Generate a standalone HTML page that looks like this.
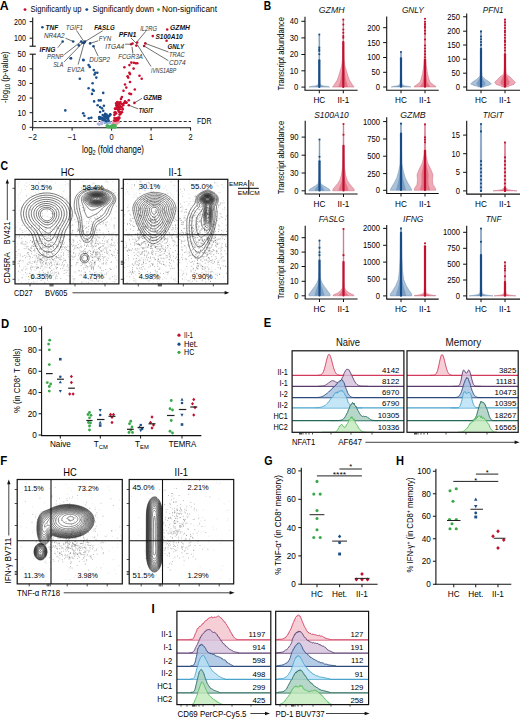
<!DOCTYPE html>
<html><head><meta charset="utf-8"><style>
html,body{margin:0;padding:0;background:#fff;}
svg{display:block;}
text{font-family:"Liberation Sans", sans-serif;}
</style></head><body>
<svg width="520" height="719" viewBox="0 0 520 719">
<rect width="520" height="719" fill="#fff"/>
<text x="-0.20" y="9.80" font-size="12.3" font-weight="bold" fill="#000" textLength="8.90" lengthAdjust="spacingAndGlyphs">A</text>
<text x="263.80" y="9.90" font-size="12.3" font-weight="bold" fill="#000" textLength="7.40" lengthAdjust="spacingAndGlyphs">B</text>
<text x="0.60" y="170.40" font-size="12.3" font-weight="bold" fill="#000" textLength="7.60" lengthAdjust="spacingAndGlyphs">C</text>
<text x="0.90" y="327.50" font-size="12.3" font-weight="bold" fill="#000" textLength="8.20" lengthAdjust="spacingAndGlyphs">D</text>
<text x="263.80" y="327.20" font-size="12.3" font-weight="bold" fill="#000" textLength="7.40" lengthAdjust="spacingAndGlyphs">E</text>
<text x="0.20" y="465.00" font-size="12.3" font-weight="bold" fill="#000" textLength="7.00" lengthAdjust="spacingAndGlyphs">F</text>
<text x="264.20" y="465.40" font-size="12.3" font-weight="bold" fill="#000" textLength="8.30" lengthAdjust="spacingAndGlyphs">G</text>
<text x="396.00" y="465.40" font-size="12.3" font-weight="bold" fill="#000" textLength="8.00" lengthAdjust="spacingAndGlyphs">H</text>
<text x="151.50" y="613.20" font-size="12.3" font-weight="bold" fill="#000" textLength="3.20" lengthAdjust="spacingAndGlyphs">I</text>
<circle cx="25.00" cy="9.60" r="1.45" fill="#c8102e"/>
<text x="30.50" y="11.90" font-size="8.3" textLength="51.00" lengthAdjust="spacingAndGlyphs">Significantly up</text>
<circle cx="86.80" cy="9.60" r="1.45" fill="#1a4f8b"/>
<text x="92.50" y="11.90" font-size="8.3" textLength="61.50" lengthAdjust="spacingAndGlyphs">Significantly down</text>
<circle cx="158.50" cy="9.60" r="1.45" fill="#3aaa4a"/>
<text x="162.00" y="11.90" font-size="8.3" textLength="55.00" lengthAdjust="spacingAndGlyphs">Non-significant</text>
<line x1="32.70" y1="17.40" x2="32.70" y2="46.20" stroke="#111" stroke-width="1.1"/>
<line x1="29.60" y1="46.20" x2="35.80" y2="46.20" stroke="#111" stroke-width="1.1"/>
<line x1="32.70" y1="54.20" x2="32.70" y2="127.80" stroke="#111" stroke-width="1.1"/>
<line x1="29.60" y1="54.20" x2="35.80" y2="54.20" stroke="#111" stroke-width="1.1"/>
<line x1="29.60" y1="21.60" x2="32.70" y2="21.60" stroke="#111" stroke-width="1"/>
<text x="25.90" y="24.50" font-size="8.4" text-anchor="end" textLength="11.90" lengthAdjust="spacingAndGlyphs">200</text>
<line x1="29.60" y1="38.20" x2="32.70" y2="38.20" stroke="#111" stroke-width="1"/>
<text x="25.90" y="41.10" font-size="8.4" text-anchor="end" textLength="11.90" lengthAdjust="spacingAndGlyphs">100</text>
<text x="25.90" y="57.10" font-size="8.4" text-anchor="end" textLength="8.34" lengthAdjust="spacingAndGlyphs">50</text>
<line x1="29.60" y1="127.30" x2="32.70" y2="127.30" stroke="#111" stroke-width="1"/>
<text x="25.90" y="130.20" font-size="8.4" text-anchor="end" textLength="4.17" lengthAdjust="spacingAndGlyphs">0</text>
<line x1="29.60" y1="112.68" x2="32.70" y2="112.68" stroke="#111" stroke-width="1"/>
<text x="25.90" y="115.58" font-size="8.4" text-anchor="end" textLength="8.34" lengthAdjust="spacingAndGlyphs">10</text>
<line x1="29.60" y1="98.06" x2="32.70" y2="98.06" stroke="#111" stroke-width="1"/>
<text x="25.90" y="100.96" font-size="8.4" text-anchor="end" textLength="8.34" lengthAdjust="spacingAndGlyphs">20</text>
<line x1="29.60" y1="83.44" x2="32.70" y2="83.44" stroke="#111" stroke-width="1"/>
<text x="25.90" y="86.34" font-size="8.4" text-anchor="end" textLength="8.34" lengthAdjust="spacingAndGlyphs">30</text>
<line x1="29.60" y1="68.82" x2="32.70" y2="68.82" stroke="#111" stroke-width="1"/>
<text x="25.90" y="71.72" font-size="8.4" text-anchor="end" textLength="8.34" lengthAdjust="spacingAndGlyphs">40</text>
<line x1="32.70" y1="127.80" x2="191.00" y2="127.80" stroke="#111" stroke-width="1.1"/>
<line x1="32.60" y1="127.80" x2="32.60" y2="130.60" stroke="#111" stroke-width="1"/>
<text x="32.60" y="140.20" font-size="8.4" text-anchor="middle" textLength="8.55" lengthAdjust="spacingAndGlyphs">−2</text>
<line x1="72.10" y1="127.80" x2="72.10" y2="130.60" stroke="#111" stroke-width="1"/>
<text x="72.10" y="140.20" font-size="8.4" text-anchor="middle" textLength="8.55" lengthAdjust="spacingAndGlyphs">−1</text>
<line x1="111.60" y1="127.80" x2="111.60" y2="130.60" stroke="#111" stroke-width="1"/>
<text x="111.60" y="140.20" font-size="8.4" text-anchor="middle" textLength="4.17" lengthAdjust="spacingAndGlyphs">0</text>
<line x1="151.10" y1="127.80" x2="151.10" y2="130.60" stroke="#111" stroke-width="1"/>
<text x="151.10" y="140.20" font-size="8.4" text-anchor="middle" textLength="4.17" lengthAdjust="spacingAndGlyphs">1</text>
<line x1="190.60" y1="127.80" x2="190.60" y2="130.60" stroke="#111" stroke-width="1"/>
<text x="190.60" y="140.20" font-size="8.4" text-anchor="middle" textLength="4.17" lengthAdjust="spacingAndGlyphs">2</text>
<text x="113.00" y="152.60" font-size="10" text-anchor="middle" textLength="62.00" lengthAdjust="spacingAndGlyphs">log<tspan font-size="7" dy="2">2</tspan><tspan dy="-2"> (fold change)</tspan></text>
<text x="8.10" y="77.10" font-size="9.5" text-anchor="middle" textLength="51.60" lengthAdjust="spacingAndGlyphs" transform="rotate(-90 8.10 77.10)">-log<tspan font-size="6.6" dy="2">10</tspan><tspan dy="-2"> (p-value)</tspan></text>
<line x1="33.70" y1="121.50" x2="191.00" y2="121.50" stroke="#111" stroke-width="0.9" stroke-dasharray="3,2"/>
<text x="197.00" y="124.40" font-size="8.4" textLength="14.50" lengthAdjust="spacingAndGlyphs">FDR</text>
<circle cx="97.92" cy="123.68" r="1.25" fill="#b4b4dc"/>
<circle cx="102.05" cy="124.08" r="1.25" fill="#b4b4dc"/>
<circle cx="101.25" cy="123.08" r="1.25" fill="#b4b4dc"/>
<circle cx="98.39" cy="124.10" r="1.25" fill="#b4b4dc"/>
<circle cx="99.16" cy="124.14" r="1.25" fill="#b4b4dc"/>
<circle cx="102.36" cy="122.81" r="1.25" fill="#b4b4dc"/>
<circle cx="99.51" cy="124.62" r="1.25" fill="#b4b4dc"/>
<circle cx="101.12" cy="122.06" r="1.25" fill="#b4b4dc"/>
<circle cx="104.76" cy="120.95" r="1.25" fill="#8fb0dc"/>
<circle cx="109.43" cy="122.92" r="1.25" fill="#8fb0dc"/>
<circle cx="104.88" cy="122.98" r="1.25" fill="#8fb0dc"/>
<circle cx="109.88" cy="122.47" r="1.25" fill="#8fb0dc"/>
<circle cx="106.10" cy="122.15" r="1.25" fill="#8fb0dc"/>
<circle cx="104.79" cy="120.54" r="1.25" fill="#8fb0dc"/>
<circle cx="109.83" cy="122.45" r="1.25" fill="#8fb0dc"/>
<circle cx="107.16" cy="123.30" r="1.25" fill="#8fb0dc"/>
<circle cx="106.60" cy="123.12" r="1.25" fill="#8fb0dc"/>
<circle cx="108.96" cy="121.13" r="1.25" fill="#8fb0dc"/>
<circle cx="105.51" cy="121.38" r="1.25" fill="#8fb0dc"/>
<circle cx="105.44" cy="122.26" r="1.25" fill="#8fb0dc"/>
<circle cx="114.32" cy="122.18" r="1.25" fill="#e89aa8"/>
<circle cx="113.42" cy="124.14" r="1.25" fill="#e89aa8"/>
<circle cx="114.98" cy="122.33" r="1.25" fill="#e89aa8"/>
<circle cx="116.58" cy="124.12" r="1.25" fill="#e89aa8"/>
<circle cx="115.44" cy="124.17" r="1.25" fill="#e89aa8"/>
<circle cx="116.01" cy="122.63" r="1.25" fill="#e89aa8"/>
<circle cx="116.16" cy="120.57" r="1.25" fill="#e89aa8"/>
<circle cx="115.58" cy="121.23" r="1.25" fill="#e89aa8"/>
<circle cx="112.53" cy="123.70" r="1.25" fill="#e89aa8"/>
<circle cx="113.71" cy="122.39" r="1.25" fill="#e89aa8"/>
<circle cx="117.58" cy="122.73" r="1.25" fill="#e89aa8"/>
<circle cx="114.78" cy="122.57" r="1.25" fill="#e89aa8"/>
<circle cx="116.39" cy="123.64" r="1.25" fill="#e89aa8"/>
<circle cx="113.24" cy="122.74" r="1.25" fill="#e89aa8"/>
<circle cx="114.24" cy="121.61" r="1.25" fill="#e89aa8"/>
<circle cx="117.91" cy="122.53" r="1.25" fill="#e89aa8"/>
<circle cx="116.43" cy="123.54" r="1.25" fill="#e89aa8"/>
<circle cx="118.89" cy="122.27" r="1.25" fill="#e89aa8"/>
<circle cx="116.79" cy="122.52" r="1.25" fill="#e89aa8"/>
<circle cx="116.09" cy="123.27" r="1.25" fill="#e89aa8"/>
<circle cx="110.80" cy="126.29" r="1.2" fill="#4cb05a"/>
<circle cx="111.04" cy="127.44" r="1.2" fill="#4cb05a"/>
<circle cx="113.14" cy="127.25" r="1.2" fill="#4cb05a"/>
<circle cx="115.45" cy="125.53" r="1.2" fill="#4cb05a"/>
<circle cx="111.82" cy="127.44" r="1.2" fill="#4cb05a"/>
<circle cx="114.48" cy="125.18" r="1.2" fill="#4cb05a"/>
<circle cx="107.66" cy="126.04" r="1.2" fill="#4cb05a"/>
<circle cx="107.19" cy="125.47" r="1.2" fill="#4cb05a"/>
<circle cx="107.19" cy="126.67" r="1.2" fill="#4cb05a"/>
<circle cx="113.95" cy="127.31" r="1.2" fill="#4cb05a"/>
<circle cx="107.97" cy="126.81" r="1.2" fill="#4cb05a"/>
<circle cx="112.77" cy="125.20" r="1.2" fill="#4cb05a"/>
<circle cx="114.89" cy="127.51" r="1.2" fill="#4cb05a"/>
<circle cx="108.59" cy="127.47" r="1.2" fill="#4cb05a"/>
<circle cx="110.28" cy="126.16" r="1.2" fill="#4cb05a"/>
<circle cx="115.90" cy="127.13" r="1.2" fill="#4cb05a"/>
<circle cx="108.03" cy="126.01" r="1.2" fill="#4cb05a"/>
<circle cx="111.40" cy="125.75" r="1.2" fill="#4cb05a"/>
<circle cx="108.36" cy="125.69" r="1.2" fill="#4cb05a"/>
<circle cx="113.36" cy="124.85" r="1.2" fill="#4cb05a"/>
<circle cx="111.76" cy="126.03" r="1.2" fill="#4cb05a"/>
<circle cx="106.67" cy="125.73" r="1.2" fill="#4cb05a"/>
<circle cx="71.00" cy="58.20" r="1.3" fill="#1a4f8b"/>
<circle cx="83.20" cy="59.80" r="1.3" fill="#1a4f8b"/>
<circle cx="88.60" cy="65.10" r="1.3" fill="#1a4f8b"/>
<circle cx="89.80" cy="66.90" r="1.3" fill="#1a4f8b"/>
<circle cx="93.80" cy="70.10" r="1.3" fill="#1a4f8b"/>
<circle cx="95.30" cy="72.80" r="1.3" fill="#1a4f8b"/>
<circle cx="97.30" cy="72.80" r="1.3" fill="#1a4f8b"/>
<circle cx="94.50" cy="74.50" r="1.3" fill="#1a4f8b"/>
<circle cx="96.30" cy="77.60" r="1.3" fill="#1a4f8b"/>
<circle cx="79.80" cy="78.80" r="1.3" fill="#1a4f8b"/>
<circle cx="92.60" cy="83.20" r="1.3" fill="#1a4f8b"/>
<circle cx="88.60" cy="88.20" r="1.3" fill="#1a4f8b"/>
<circle cx="92.80" cy="89.90" r="1.3" fill="#1a4f8b"/>
<circle cx="93.80" cy="90.80" r="1.3" fill="#1a4f8b"/>
<circle cx="92.00" cy="93.90" r="1.3" fill="#1a4f8b"/>
<circle cx="103.20" cy="92.90" r="1.3" fill="#1a4f8b"/>
<circle cx="94.10" cy="101.40" r="1.3" fill="#1a4f8b"/>
<circle cx="98.80" cy="100.40" r="1.3" fill="#1a4f8b"/>
<circle cx="100.70" cy="100.40" r="1.3" fill="#1a4f8b"/>
<circle cx="97.60" cy="105.20" r="1.3" fill="#1a4f8b"/>
<circle cx="100.10" cy="107.00" r="1.3" fill="#1a4f8b"/>
<circle cx="103.90" cy="105.80" r="1.3" fill="#1a4f8b"/>
<circle cx="102.00" cy="108.30" r="1.3" fill="#1a4f8b"/>
<circle cx="103.20" cy="110.80" r="1.3" fill="#1a4f8b"/>
<circle cx="100.10" cy="112.00" r="1.3" fill="#1a4f8b"/>
<circle cx="65.30" cy="110.40" r="1.3" fill="#1a4f8b"/>
<circle cx="83.20" cy="113.30" r="1.3" fill="#1a4f8b"/>
<circle cx="84.40" cy="115.80" r="1.3" fill="#1a4f8b"/>
<circle cx="88.80" cy="118.30" r="1.3" fill="#1a4f8b"/>
<circle cx="91.30" cy="117.70" r="1.3" fill="#1a4f8b"/>
<circle cx="105.10" cy="113.90" r="1.3" fill="#1a4f8b"/>
<circle cx="62.70" cy="41.50" r="1.3" fill="#1a4f8b"/>
<circle cx="73.20" cy="41.50" r="1.3" fill="#1a4f8b"/>
<circle cx="81.20" cy="41.50" r="1.3" fill="#1a4f8b"/>
<circle cx="83.90" cy="43.00" r="1.3" fill="#1a4f8b"/>
<circle cx="85.00" cy="41.50" r="1.3" fill="#1a4f8b"/>
<circle cx="78.80" cy="45.40" r="1.3" fill="#1a4f8b"/>
<circle cx="90.10" cy="43.40" r="1.3" fill="#1a4f8b"/>
<circle cx="93.50" cy="46.20" r="1.3" fill="#1a4f8b"/>
<circle cx="70.70" cy="58.20" r="1.3" fill="#1a4f8b"/>
<circle cx="83.50" cy="60.30" r="1.3" fill="#1a4f8b"/>
<circle cx="42.40" cy="27.20" r="1.3" fill="#1a4f8b"/>
<circle cx="84.50" cy="42.20" r="1.3" fill="#1a4f8b"/>
<circle cx="82.50" cy="42.70" r="1.3" fill="#1a4f8b"/>
<circle cx="102.72" cy="115.09" r="1.3" fill="#1a4f8b"/>
<circle cx="106.49" cy="114.52" r="1.3" fill="#1a4f8b"/>
<circle cx="105.16" cy="116.63" r="1.3" fill="#1a4f8b"/>
<circle cx="99.67" cy="117.65" r="1.3" fill="#1a4f8b"/>
<circle cx="99.43" cy="117.12" r="1.3" fill="#1a4f8b"/>
<circle cx="103.88" cy="119.95" r="1.3" fill="#1a4f8b"/>
<circle cx="106.22" cy="120.82" r="1.3" fill="#1a4f8b"/>
<circle cx="105.64" cy="116.86" r="1.3" fill="#1a4f8b"/>
<circle cx="110.23" cy="114.34" r="1.3" fill="#1a4f8b"/>
<circle cx="108.87" cy="116.09" r="1.3" fill="#1a4f8b"/>
<circle cx="102.55" cy="119.88" r="1.3" fill="#1a4f8b"/>
<circle cx="101.08" cy="118.19" r="1.3" fill="#1a4f8b"/>
<circle cx="106.35" cy="116.68" r="1.3" fill="#1a4f8b"/>
<circle cx="105.30" cy="114.45" r="1.3" fill="#1a4f8b"/>
<circle cx="106.82" cy="117.08" r="1.3" fill="#1a4f8b"/>
<circle cx="102.61" cy="118.22" r="1.3" fill="#1a4f8b"/>
<circle cx="104.21" cy="116.16" r="1.3" fill="#1a4f8b"/>
<circle cx="108.14" cy="119.03" r="1.3" fill="#1a4f8b"/>
<circle cx="101.81" cy="118.14" r="1.3" fill="#1a4f8b"/>
<circle cx="105.04" cy="120.30" r="1.3" fill="#1a4f8b"/>
<circle cx="107.39" cy="116.07" r="1.3" fill="#1a4f8b"/>
<circle cx="110.27" cy="114.85" r="1.3" fill="#1a4f8b"/>
<circle cx="103.81" cy="119.45" r="1.3" fill="#1a4f8b"/>
<circle cx="100.75" cy="117.52" r="1.3" fill="#1a4f8b"/>
<circle cx="99.45" cy="118.81" r="1.3" fill="#1a4f8b"/>
<circle cx="107.79" cy="118.13" r="1.3" fill="#1a4f8b"/>
<circle cx="109.07" cy="116.26" r="1.3" fill="#1a4f8b"/>
<circle cx="107.00" cy="118.28" r="1.3" fill="#1a4f8b"/>
<circle cx="105.67" cy="117.28" r="1.3" fill="#1a4f8b"/>
<circle cx="108.66" cy="120.80" r="1.3" fill="#1a4f8b"/>
<circle cx="104.45" cy="118.78" r="1.3" fill="#1a4f8b"/>
<circle cx="99.70" cy="119.05" r="1.3" fill="#1a4f8b"/>
<circle cx="106.44" cy="121.15" r="1.3" fill="#1a4f8b"/>
<circle cx="108.45" cy="116.05" r="1.3" fill="#1a4f8b"/>
<circle cx="103.44" cy="118.81" r="1.3" fill="#1a4f8b"/>
<circle cx="99.26" cy="117.32" r="1.3" fill="#1a4f8b"/>
<circle cx="131.30" cy="62.60" r="1.3" fill="#c8102e"/>
<circle cx="133.80" cy="62.80" r="1.3" fill="#c8102e"/>
<circle cx="135.70" cy="63.20" r="1.3" fill="#c8102e"/>
<circle cx="137.30" cy="63.20" r="1.3" fill="#c8102e"/>
<circle cx="129.40" cy="65.10" r="1.3" fill="#c8102e"/>
<circle cx="124.40" cy="67.30" r="1.3" fill="#c8102e"/>
<circle cx="133.60" cy="68.60" r="1.3" fill="#c8102e"/>
<circle cx="129.40" cy="72.80" r="1.3" fill="#c8102e"/>
<circle cx="130.00" cy="74.10" r="1.3" fill="#c8102e"/>
<circle cx="127.60" cy="76.30" r="1.3" fill="#c8102e"/>
<circle cx="128.20" cy="77.60" r="1.3" fill="#c8102e"/>
<circle cx="139.50" cy="75.70" r="1.3" fill="#c8102e"/>
<circle cx="141.70" cy="78.80" r="1.3" fill="#c8102e"/>
<circle cx="130.00" cy="82.00" r="1.3" fill="#c8102e"/>
<circle cx="125.00" cy="84.50" r="1.3" fill="#c8102e"/>
<circle cx="126.30" cy="87.60" r="1.3" fill="#c8102e"/>
<circle cx="123.50" cy="90.80" r="1.3" fill="#c8102e"/>
<circle cx="134.80" cy="89.50" r="1.3" fill="#c8102e"/>
<circle cx="129.40" cy="93.60" r="1.3" fill="#c8102e"/>
<circle cx="131.00" cy="94.10" r="1.3" fill="#c8102e"/>
<circle cx="121.90" cy="97.00" r="1.3" fill="#c8102e"/>
<circle cx="121.00" cy="98.90" r="1.3" fill="#c8102e"/>
<circle cx="128.80" cy="100.20" r="1.3" fill="#c8102e"/>
<circle cx="125.00" cy="101.40" r="1.3" fill="#c8102e"/>
<circle cx="126.30" cy="102.70" r="1.3" fill="#c8102e"/>
<circle cx="134.40" cy="102.90" r="1.3" fill="#c8102e"/>
<circle cx="128.80" cy="105.20" r="1.3" fill="#c8102e"/>
<circle cx="131.20" cy="44.20" r="1.3" fill="#c8102e"/>
<circle cx="137.20" cy="42.50" r="1.3" fill="#c8102e"/>
<circle cx="136.30" cy="45.60" r="1.3" fill="#c8102e"/>
<circle cx="145.30" cy="43.40" r="1.3" fill="#c8102e"/>
<circle cx="144.10" cy="46.00" r="1.3" fill="#c8102e"/>
<circle cx="167.20" cy="29.50" r="1.3" fill="#c8102e"/>
<circle cx="152.80" cy="36.10" r="1.3" fill="#c8102e"/>
<circle cx="166.60" cy="40.80" r="1.3" fill="#c8102e"/>
<circle cx="132.50" cy="43.50" r="1.3" fill="#c8102e"/>
<circle cx="116.38" cy="105.24" r="1.3" fill="#c8102e"/>
<circle cx="124.07" cy="103.14" r="1.3" fill="#c8102e"/>
<circle cx="117.91" cy="104.50" r="1.3" fill="#c8102e"/>
<circle cx="122.34" cy="109.55" r="1.3" fill="#c8102e"/>
<circle cx="120.35" cy="103.56" r="1.3" fill="#c8102e"/>
<circle cx="121.05" cy="112.60" r="1.3" fill="#c8102e"/>
<circle cx="118.57" cy="117.81" r="1.3" fill="#c8102e"/>
<circle cx="118.91" cy="107.37" r="1.3" fill="#c8102e"/>
<circle cx="122.74" cy="108.92" r="1.3" fill="#c8102e"/>
<circle cx="114.03" cy="120.48" r="1.3" fill="#c8102e"/>
<circle cx="117.55" cy="105.40" r="1.3" fill="#c8102e"/>
<circle cx="119.85" cy="106.50" r="1.3" fill="#c8102e"/>
<circle cx="116.12" cy="113.37" r="1.3" fill="#c8102e"/>
<circle cx="120.42" cy="102.08" r="1.3" fill="#c8102e"/>
<circle cx="119.78" cy="109.13" r="1.3" fill="#c8102e"/>
<circle cx="116.59" cy="120.39" r="1.3" fill="#c8102e"/>
<circle cx="119.24" cy="111.95" r="1.3" fill="#c8102e"/>
<circle cx="114.34" cy="115.05" r="1.3" fill="#c8102e"/>
<circle cx="117.44" cy="119.36" r="1.3" fill="#c8102e"/>
<circle cx="117.74" cy="118.88" r="1.3" fill="#c8102e"/>
<circle cx="118.16" cy="109.57" r="1.3" fill="#c8102e"/>
<circle cx="122.25" cy="104.00" r="1.3" fill="#c8102e"/>
<circle cx="116.15" cy="103.20" r="1.3" fill="#c8102e"/>
<circle cx="116.71" cy="106.03" r="1.3" fill="#c8102e"/>
<circle cx="115.24" cy="108.56" r="1.3" fill="#c8102e"/>
<circle cx="117.31" cy="102.00" r="1.3" fill="#c8102e"/>
<circle cx="119.29" cy="103.96" r="1.3" fill="#c8102e"/>
<circle cx="125.56" cy="102.49" r="1.3" fill="#c8102e"/>
<circle cx="115.19" cy="113.85" r="1.3" fill="#c8102e"/>
<circle cx="118.38" cy="106.87" r="1.3" fill="#c8102e"/>
<circle cx="115.81" cy="109.03" r="1.3" fill="#c8102e"/>
<circle cx="119.02" cy="118.38" r="1.3" fill="#c8102e"/>
<circle cx="118.47" cy="110.99" r="1.3" fill="#c8102e"/>
<circle cx="116.47" cy="103.66" r="1.3" fill="#c8102e"/>
<circle cx="117.18" cy="108.61" r="1.3" fill="#c8102e"/>
<circle cx="114.53" cy="118.00" r="1.3" fill="#c8102e"/>
<circle cx="126.46" cy="102.45" r="1.3" fill="#c8102e"/>
<circle cx="115.47" cy="112.20" r="1.3" fill="#c8102e"/>
<circle cx="114.49" cy="112.48" r="1.3" fill="#c8102e"/>
<circle cx="121.99" cy="112.19" r="1.3" fill="#c8102e"/>
<circle cx="117.28" cy="118.66" r="1.3" fill="#c8102e"/>
<circle cx="118.53" cy="107.04" r="1.3" fill="#c8102e"/>
<circle cx="123.25" cy="105.22" r="1.3" fill="#c8102e"/>
<circle cx="120.39" cy="112.28" r="1.3" fill="#c8102e"/>
<circle cx="116.85" cy="108.36" r="1.3" fill="#c8102e"/>
<circle cx="119.33" cy="117.66" r="1.3" fill="#c8102e"/>
<circle cx="117.96" cy="118.46" r="1.3" fill="#c8102e"/>
<circle cx="117.87" cy="117.79" r="1.3" fill="#c8102e"/>
<circle cx="120.22" cy="106.38" r="1.3" fill="#c8102e"/>
<circle cx="114.98" cy="108.86" r="1.3" fill="#c8102e"/>
<circle cx="118.69" cy="102.54" r="1.3" fill="#c8102e"/>
<circle cx="121.73" cy="107.00" r="1.3" fill="#c8102e"/>
<circle cx="115.42" cy="120.46" r="1.3" fill="#c8102e"/>
<circle cx="118.15" cy="120.08" r="1.3" fill="#c8102e"/>
<circle cx="115.04" cy="120.43" r="1.3" fill="#c8102e"/>
<circle cx="117.32" cy="106.25" r="1.3" fill="#c8102e"/>
<circle cx="117.18" cy="105.80" r="1.3" fill="#c8102e"/>
<circle cx="120.52" cy="114.04" r="1.3" fill="#c8102e"/>
<circle cx="116.25" cy="118.22" r="1.3" fill="#c8102e"/>
<circle cx="119.56" cy="114.60" r="1.3" fill="#c8102e"/>
<line x1="65.50" y1="38.20" x2="73.20" y2="41.50" stroke="#333" stroke-width="0.7"/>
<line x1="57.80" y1="47.70" x2="62.70" y2="41.50" stroke="#333" stroke-width="0.7"/>
<line x1="64.20" y1="54.60" x2="81.20" y2="41.50" stroke="#333" stroke-width="0.7"/>
<line x1="64.20" y1="61.80" x2="83.00" y2="42.50" stroke="#333" stroke-width="0.7"/>
<line x1="78.10" y1="64.60" x2="84.20" y2="43.00" stroke="#333" stroke-width="0.7"/>
<line x1="76.50" y1="30.50" x2="83.90" y2="41.50" stroke="#333" stroke-width="0.7"/>
<line x1="102.70" y1="30.80" x2="83.90" y2="42.30" stroke="#333" stroke-width="0.7"/>
<line x1="98.10" y1="40.80" x2="90.10" y2="43.40" stroke="#333" stroke-width="0.7"/>
<line x1="98.10" y1="56.20" x2="93.50" y2="46.20" stroke="#333" stroke-width="0.7"/>
<line x1="125.10" y1="44.20" x2="131.20" y2="44.20" stroke="#333" stroke-width="0.7"/>
<line x1="131.00" y1="38.00" x2="137.00" y2="44.00" stroke="#333" stroke-width="0.7"/>
<line x1="145.90" y1="31.20" x2="137.20" y2="41.60" stroke="#333" stroke-width="0.7"/>
<line x1="132.00" y1="46.80" x2="132.90" y2="53.50" stroke="#333" stroke-width="0.7"/>
<line x1="137.20" y1="44.50" x2="151.00" y2="66.50" stroke="#333" stroke-width="0.7"/>
<line x1="145.30" y1="43.40" x2="168.40" y2="52.00" stroke="#333" stroke-width="0.7"/>
<line x1="144.10" y1="46.00" x2="168.40" y2="60.70" stroke="#333" stroke-width="0.7"/>
<line x1="134.40" y1="102.90" x2="142.00" y2="98.30" stroke="#333" stroke-width="0.7"/>
<line x1="128.80" y1="105.20" x2="138.20" y2="108.90" stroke="#333" stroke-width="0.7"/>
<text x="45.50" y="29.70" font-size="7.2" font-weight="bold" font-style="italic" fill="#111" textLength="12.60" lengthAdjust="spacingAndGlyphs">TNF</text>
<text x="65.80" y="29.70" font-size="7.2" font-style="italic" fill="#333" textLength="17.20" lengthAdjust="spacingAndGlyphs">TGIF1</text>
<text x="94.20" y="29.70" font-size="7.2" font-weight="bold" font-style="italic" fill="#111" textLength="20.60" lengthAdjust="spacingAndGlyphs">FASLG</text>
<text x="43.90" y="38.30" font-size="7.2" font-style="italic" fill="#333" textLength="20.60" lengthAdjust="spacingAndGlyphs">NR4A2</text>
<text x="98.80" y="41.40" font-size="7.2" font-style="italic" fill="#333" textLength="12.40" lengthAdjust="spacingAndGlyphs">FYN</text>
<text x="39.60" y="52.00" font-size="7.2" font-weight="bold" font-style="italic" fill="#111" textLength="15.90" lengthAdjust="spacingAndGlyphs">IFNG</text>
<text x="47.00" y="59.40" font-size="7.2" font-style="italic" fill="#333" textLength="16.50" lengthAdjust="spacingAndGlyphs">PRNP</text>
<text x="53.20" y="67.10" font-size="7.2" font-style="italic" fill="#333" textLength="10.30" lengthAdjust="spacingAndGlyphs">SLA</text>
<text x="89.20" y="61.70" font-size="7.2" font-style="italic" fill="#333" textLength="20.80" lengthAdjust="spacingAndGlyphs">DUSP2</text>
<text x="67.30" y="71.70" font-size="7.2" font-style="italic" fill="#333" textLength="17.20" lengthAdjust="spacingAndGlyphs">EVI2A</text>
<text x="118.70" y="36.70" font-size="7.2" font-weight="bold" font-style="italic" fill="#111" textLength="17.80" lengthAdjust="spacingAndGlyphs">PFN1</text>
<text x="140.20" y="30.80" font-size="7.2" font-style="italic" fill="#333" textLength="16.90" lengthAdjust="spacingAndGlyphs">IL2RG</text>
<text x="105.20" y="48.50" font-size="7.2" font-style="italic" fill="#333" textLength="19.00" lengthAdjust="spacingAndGlyphs">ITGA4</text>
<text x="118.20" y="59.40" font-size="7.2" font-style="italic" fill="#333" textLength="24.70" lengthAdjust="spacingAndGlyphs">FCGR3A</text>
<text x="151.00" y="73.00" font-size="7.2" font-style="italic" fill="#333" textLength="25.20" lengthAdjust="spacingAndGlyphs">IVNS1ABP</text>
<text x="168.90" y="56.80" font-size="7.2" font-style="italic" fill="#333" textLength="15.90" lengthAdjust="spacingAndGlyphs">TRAC</text>
<text x="168.90" y="64.90" font-size="7.2" font-style="italic" fill="#333" textLength="16.80" lengthAdjust="spacingAndGlyphs">CD74</text>
<text x="170.00" y="30.30" font-size="7.2" font-weight="bold" font-style="italic" fill="#111" textLength="20.00" lengthAdjust="spacingAndGlyphs">GZMH</text>
<text x="155.40" y="38.90" font-size="7.2" font-weight="bold" font-style="italic" fill="#111" textLength="27.30" lengthAdjust="spacingAndGlyphs">S100A10</text>
<text x="167.50" y="48.50" font-size="7.2" font-weight="bold" font-style="italic" fill="#111" textLength="16.50" lengthAdjust="spacingAndGlyphs">GNLY</text>
<text x="143.20" y="99.50" font-size="7.2" font-weight="bold" font-style="italic" fill="#111" textLength="18.80" lengthAdjust="spacingAndGlyphs">GZMB</text>
<text x="138.80" y="112.70" font-size="7.2" font-weight="bold" font-style="italic" fill="#111" textLength="14.40" lengthAdjust="spacingAndGlyphs">TIGIT</text>
<line x1="305.00" y1="16.80" x2="305.00" y2="90.30" stroke="#111" stroke-width="1.1"/>
<line x1="304.50" y1="90.30" x2="357.60" y2="90.30" stroke="#111" stroke-width="1.1"/>
<line x1="301.40" y1="21.30" x2="305.00" y2="21.30" stroke="#111" stroke-width="1"/>
<text x="298.20" y="24.20" font-size="8.2" text-anchor="end" textLength="8.48" lengthAdjust="spacingAndGlyphs">40</text>
<line x1="301.40" y1="37.90" x2="305.00" y2="37.90" stroke="#111" stroke-width="1"/>
<text x="298.20" y="40.80" font-size="8.2" text-anchor="end" textLength="8.48" lengthAdjust="spacingAndGlyphs">30</text>
<line x1="301.40" y1="54.50" x2="305.00" y2="54.50" stroke="#111" stroke-width="1"/>
<text x="298.20" y="57.40" font-size="8.2" text-anchor="end" textLength="8.48" lengthAdjust="spacingAndGlyphs">20</text>
<line x1="301.40" y1="70.80" x2="305.00" y2="70.80" stroke="#111" stroke-width="1"/>
<text x="298.20" y="73.70" font-size="8.2" text-anchor="end" textLength="8.48" lengthAdjust="spacingAndGlyphs">10</text>
<line x1="301.40" y1="87.10" x2="305.00" y2="87.10" stroke="#111" stroke-width="1"/>
<text x="298.20" y="90.00" font-size="8.2" text-anchor="end" textLength="4.24" lengthAdjust="spacingAndGlyphs">0</text>
<text x="318.75" y="13.00" font-size="8.2" font-style="italic" fill="#111" textLength="25.75" lengthAdjust="spacingAndGlyphs">GZMH</text>
<line x1="319.30" y1="90.30" x2="319.30" y2="93.30" stroke="#111" stroke-width="1"/>
<text x="319.30" y="103.20" font-size="8.2" text-anchor="middle">HC</text>
<line x1="343.30" y1="90.30" x2="343.30" y2="93.30" stroke="#111" stroke-width="1"/>
<text x="343.30" y="103.20" font-size="8.2" text-anchor="middle">II-1</text>
<line x1="319.30" y1="87.10" x2="319.30" y2="34.46" stroke="#9fc0de" stroke-width="0.6"/>
<path d="M329.60,87.10 L328.30,86.50 L323.30,85.90 L320.90,85.10 L320.20,83.60 L319.80,77.10 L319.70,35.10 L318.90,35.10 L318.80,77.10 L318.40,83.60 L317.70,85.10 L315.30,85.90 L310.30,86.50 L309.00,87.10 Z" fill="#9ab6d2" stroke="#5a7fa6" stroke-width="0.4" fill-opacity="0.85" stroke-linejoin="round"/>
<path d="M323.94,87.10 L323.35,86.50 L321.10,85.90 L320.02,85.10 L319.70,83.60 L319.53,77.10 L319.48,35.10 L319.12,35.10 L319.07,77.10 L318.90,83.60 L318.58,85.10 L317.50,85.90 L315.25,86.50 L314.67,87.10 Z" fill="#5f87b3" stroke="none" stroke-width="1" fill-opacity="0.6"/>
<rect x="318.20" y="59.13" width="2.2" height="28.77" fill="#174c86" rx="1"/>
<circle cx="319.30" cy="47.62" r="1.05" fill="#174c86"/>
<circle cx="319.30" cy="49.26" r="1.05" fill="#174c86"/>
<circle cx="319.30" cy="50.91" r="1.05" fill="#174c86"/>
<circle cx="319.30" cy="54.20" r="1.05" fill="#174c86"/>
<circle cx="319.30" cy="34.46" r="1.05" fill="#174c86"/>
<line x1="343.30" y1="87.10" x2="343.30" y2="19.65" stroke="#eea3ae" stroke-width="0.6"/>
<path d="M354.10,87.10 L353.60,86.40 L352.10,84.20 L349.70,80.60 L348.30,77.00 L347.20,73.30 L346.10,69.70 L345.00,66.10 L344.00,58.90 L343.70,47.10 L343.60,21.10 L343.00,21.10 L342.90,47.10 L342.60,58.90 L341.60,66.10 L340.50,69.70 L339.40,73.30 L338.30,77.00 L336.90,80.60 L334.50,84.20 L333.00,86.40 L332.50,87.10 Z" fill="#eb9aa8" stroke="#c0566e" stroke-width="0.4" fill-opacity="0.85" stroke-linejoin="round"/>
<path d="M348.16,87.10 L347.94,86.40 L347.26,84.20 L346.18,80.60 L345.55,77.00 L345.06,73.30 L344.56,69.70 L344.06,66.10 L343.62,58.90 L343.48,47.10 L343.44,21.10 L343.17,21.10 L343.12,47.10 L342.99,58.90 L342.54,66.10 L342.04,69.70 L341.55,73.30 L341.05,77.00 L340.42,80.60 L339.34,84.20 L338.67,86.40 L338.44,87.10 Z" fill="#d9566f" stroke="none" stroke-width="1" fill-opacity="0.6"/>
<rect x="342.20" y="41.04" width="2.2" height="46.86" fill="#c2102e" rx="1"/>
<circle cx="343.30" cy="24.59" r="1.05" fill="#c2102e"/>
<circle cx="343.30" cy="29.52" r="1.05" fill="#c2102e"/>
<circle cx="343.30" cy="32.81" r="1.05" fill="#c2102e"/>
<circle cx="343.30" cy="36.10" r="1.05" fill="#c2102e"/>
<circle cx="343.30" cy="37.75" r="1.05" fill="#c2102e"/>
<circle cx="343.30" cy="19.65" r="1.05" fill="#c2102e"/>
<text x="284.00" y="53.75" font-size="8.6" text-anchor="middle" textLength="73.50" lengthAdjust="spacingAndGlyphs" transform="rotate(-90 284.00 53.75)">Transcript abundance</text>
<line x1="386.70" y1="16.40" x2="386.70" y2="90.20" stroke="#111" stroke-width="1.1"/>
<line x1="386.20" y1="90.20" x2="438.70" y2="90.20" stroke="#111" stroke-width="1.1"/>
<line x1="383.10" y1="27.70" x2="386.70" y2="27.70" stroke="#111" stroke-width="1"/>
<text x="379.90" y="30.60" font-size="8.2" text-anchor="end" textLength="12.72" lengthAdjust="spacingAndGlyphs">200</text>
<line x1="383.10" y1="42.60" x2="386.70" y2="42.60" stroke="#111" stroke-width="1"/>
<text x="379.90" y="45.50" font-size="8.2" text-anchor="end" textLength="12.72" lengthAdjust="spacingAndGlyphs">150</text>
<line x1="383.10" y1="57.50" x2="386.70" y2="57.50" stroke="#111" stroke-width="1"/>
<text x="379.90" y="60.40" font-size="8.2" text-anchor="end" textLength="12.72" lengthAdjust="spacingAndGlyphs">100</text>
<line x1="383.10" y1="72.30" x2="386.70" y2="72.30" stroke="#111" stroke-width="1"/>
<text x="379.90" y="75.20" font-size="8.2" text-anchor="end" textLength="8.48" lengthAdjust="spacingAndGlyphs">50</text>
<line x1="383.10" y1="87.00" x2="386.70" y2="87.00" stroke="#111" stroke-width="1"/>
<text x="379.90" y="89.90" font-size="8.2" text-anchor="end" textLength="4.24" lengthAdjust="spacingAndGlyphs">0</text>
<text x="401.90" y="13.40" font-size="8.2" font-style="italic" fill="#111" textLength="21.80" lengthAdjust="spacingAndGlyphs">GNLY</text>
<line x1="401.00" y1="90.20" x2="401.00" y2="93.20" stroke="#111" stroke-width="1"/>
<text x="401.00" y="103.20" font-size="8.2" text-anchor="middle">HC</text>
<line x1="425.00" y1="90.20" x2="425.00" y2="93.20" stroke="#111" stroke-width="1"/>
<text x="425.00" y="103.20" font-size="8.2" text-anchor="middle">II-1</text>
<line x1="401.00" y1="87.00" x2="401.00" y2="52.01" stroke="#9fc0de" stroke-width="0.6"/>
<path d="M410.80,87.00 L409.00,86.40 L404.50,85.80 L402.40,84.80 L401.80,83.00 L401.50,75.00 L401.40,53.00 L400.60,53.00 L400.50,75.00 L400.20,83.00 L399.60,84.80 L397.50,85.80 L393.00,86.40 L391.20,87.00 Z" fill="#9ab6d2" stroke="#5a7fa6" stroke-width="0.4" fill-opacity="0.85" stroke-linejoin="round"/>
<path d="M405.41,87.00 L404.60,86.40 L402.57,85.80 L401.63,84.80 L401.36,83.00 L401.23,75.00 L401.18,53.00 L400.82,53.00 L400.77,75.00 L400.64,83.00 L400.37,84.80 L399.43,85.80 L397.40,86.40 L396.59,87.00 Z" fill="#5f87b3" stroke="none" stroke-width="1" fill-opacity="0.6"/>
<rect x="399.90" y="57.35" width="2.2" height="30.45" fill="#174c86" rx="1"/>
<circle cx="401.00" cy="52.01" r="1.05" fill="#174c86"/>
<line x1="425.00" y1="87.00" x2="425.00" y2="18.81" stroke="#eea3ae" stroke-width="0.6"/>
<path d="M436.00,87.00 L435.80,86.50 L433.40,84.80 L430.10,82.20 L428.80,78.80 L427.50,73.60 L426.20,65.00 L425.60,55.00 L425.30,21.00 L424.70,21.00 L424.40,55.00 L423.80,65.00 L422.50,73.60 L421.20,78.80 L419.90,82.20 L416.60,84.80 L414.20,86.50 L414.00,87.00 Z" fill="#eb9aa8" stroke="#c0566e" stroke-width="0.4" fill-opacity="0.85" stroke-linejoin="round"/>
<path d="M429.95,87.00 L429.86,86.50 L428.78,84.80 L427.30,82.20 L426.71,78.80 L426.12,73.60 L425.54,65.00 L425.27,55.00 L425.13,21.00 L424.87,21.00 L424.73,55.00 L424.46,65.00 L423.88,73.60 L423.29,78.80 L422.70,82.20 L421.22,84.80 L420.14,86.50 L420.05,87.00 Z" fill="#d9566f" stroke="none" stroke-width="1" fill-opacity="0.6"/>
<rect x="423.90" y="58.83" width="2.2" height="28.97" fill="#c2102e" rx="1"/>
<circle cx="425.00" cy="21.77" r="1.05" fill="#c2102e"/>
<circle cx="425.00" cy="24.14" r="1.05" fill="#c2102e"/>
<circle cx="425.00" cy="26.22" r="1.05" fill="#c2102e"/>
<circle cx="425.00" cy="27.70" r="1.05" fill="#c2102e"/>
<circle cx="425.00" cy="30.67" r="1.05" fill="#c2102e"/>
<circle cx="425.00" cy="33.63" r="1.05" fill="#c2102e"/>
<circle cx="425.00" cy="39.56" r="1.05" fill="#c2102e"/>
<circle cx="425.00" cy="45.49" r="1.05" fill="#c2102e"/>
<circle cx="425.00" cy="48.45" r="1.05" fill="#c2102e"/>
<circle cx="425.00" cy="51.42" r="1.05" fill="#c2102e"/>
<circle cx="425.00" cy="54.39" r="1.05" fill="#c2102e"/>
<circle cx="425.00" cy="57.35" r="1.05" fill="#c2102e"/>
<circle cx="425.00" cy="18.81" r="1.05" fill="#c2102e"/>
<line x1="466.70" y1="13.50" x2="466.70" y2="90.20" stroke="#111" stroke-width="1.1"/>
<line x1="466.20" y1="90.20" x2="520.50" y2="90.20" stroke="#111" stroke-width="1.1"/>
<line x1="463.10" y1="16.80" x2="466.70" y2="16.80" stroke="#111" stroke-width="1"/>
<text x="459.90" y="19.70" font-size="8.2" text-anchor="end" textLength="12.72" lengthAdjust="spacingAndGlyphs">250</text>
<line x1="463.10" y1="31.20" x2="466.70" y2="31.20" stroke="#111" stroke-width="1"/>
<text x="459.90" y="34.10" font-size="8.2" text-anchor="end" textLength="12.72" lengthAdjust="spacingAndGlyphs">200</text>
<line x1="463.10" y1="45.00" x2="466.70" y2="45.00" stroke="#111" stroke-width="1"/>
<text x="459.90" y="47.90" font-size="8.2" text-anchor="end" textLength="12.72" lengthAdjust="spacingAndGlyphs">150</text>
<line x1="463.10" y1="59.20" x2="466.70" y2="59.20" stroke="#111" stroke-width="1"/>
<text x="459.90" y="62.10" font-size="8.2" text-anchor="end" textLength="12.72" lengthAdjust="spacingAndGlyphs">100</text>
<line x1="463.10" y1="73.20" x2="466.70" y2="73.20" stroke="#111" stroke-width="1"/>
<text x="459.90" y="76.10" font-size="8.2" text-anchor="end" textLength="8.48" lengthAdjust="spacingAndGlyphs">50</text>
<line x1="463.10" y1="87.00" x2="466.70" y2="87.00" stroke="#111" stroke-width="1"/>
<text x="459.90" y="89.90" font-size="8.2" text-anchor="end" textLength="4.24" lengthAdjust="spacingAndGlyphs">0</text>
<text x="482.80" y="13.00" font-size="8.2" font-style="italic" fill="#111" textLength="20.80" lengthAdjust="spacingAndGlyphs">PFN1</text>
<line x1="481.00" y1="90.20" x2="481.00" y2="93.20" stroke="#111" stroke-width="1"/>
<text x="481.00" y="103.20" font-size="8.2" text-anchor="middle">HC</text>
<line x1="505.00" y1="90.20" x2="505.00" y2="93.20" stroke="#111" stroke-width="1"/>
<text x="505.00" y="103.20" font-size="8.2" text-anchor="middle">II-1</text>
<line x1="481.00" y1="87.00" x2="481.00" y2="31.40" stroke="#9fc0de" stroke-width="0.6"/>
<path d="M484.00,87.00 L484.10,86.50 L488.30,85.40 L491.40,83.90 L489.80,82.30 L485.20,79.20 L482.00,76.10 L481.60,71.00 L481.40,57.00 L481.40,32.00 L480.60,32.00 L480.60,57.00 L480.40,71.00 L480.00,76.10 L476.80,79.20 L472.20,82.30 L470.60,83.90 L473.70,85.40 L477.90,86.50 L478.00,87.00 Z" fill="#9ab6d2" stroke="#5a7fa6" stroke-width="0.4" fill-opacity="0.85" stroke-linejoin="round"/>
<path d="M482.35,87.00 L482.39,86.50 L484.29,85.40 L485.68,83.90 L484.96,82.30 L482.89,79.20 L481.45,76.10 L481.27,71.00 L481.18,57.00 L481.18,32.00 L480.82,32.00 L480.82,57.00 L480.73,71.00 L480.55,76.10 L479.11,79.20 L477.04,82.30 L476.32,83.90 L477.71,85.40 L479.61,86.50 L479.65,87.00 Z" fill="#5f87b3" stroke="none" stroke-width="1" fill-opacity="0.6"/>
<rect x="479.90" y="47.69" width="2.2" height="40.11" fill="#174c86" rx="1"/>
<circle cx="481.00" cy="36.46" r="1.05" fill="#174c86"/>
<circle cx="481.00" cy="39.26" r="1.05" fill="#174c86"/>
<circle cx="481.00" cy="42.07" r="1.05" fill="#174c86"/>
<circle cx="481.00" cy="44.88" r="1.05" fill="#174c86"/>
<circle cx="481.00" cy="31.40" r="1.05" fill="#174c86"/>
<line x1="505.00" y1="87.00" x2="505.00" y2="19.61" stroke="#eea3ae" stroke-width="0.6"/>
<path d="M508.00,87.00 L509.20,85.90 L513.80,84.40 L515.40,82.30 L513.30,80.20 L510.20,77.10 L506.20,74.00 L505.60,67.00 L505.40,52.00 L505.30,19.00 L504.70,19.00 L504.60,52.00 L504.40,67.00 L503.80,74.00 L499.80,77.10 L496.70,80.20 L494.60,82.30 L496.20,84.40 L500.80,85.90 L502.00,87.00 Z" fill="#eb9aa8" stroke="#c0566e" stroke-width="0.4" fill-opacity="0.85" stroke-linejoin="round"/>
<path d="M506.35,87.00 L506.89,85.90 L508.96,84.40 L509.68,82.30 L508.74,80.20 L507.34,77.10 L505.54,74.00 L505.27,67.00 L505.18,52.00 L505.13,19.00 L504.87,19.00 L504.82,52.00 L504.73,67.00 L504.46,74.00 L502.66,77.10 L501.26,80.20 L500.32,82.30 L501.04,84.40 L503.11,85.90 L503.65,87.00 Z" fill="#d9566f" stroke="none" stroke-width="1" fill-opacity="0.6"/>
<rect x="503.90" y="53.30" width="2.2" height="34.50" fill="#c2102e" rx="1"/>
<circle cx="505.00" cy="22.42" r="1.05" fill="#c2102e"/>
<circle cx="505.00" cy="25.22" r="1.05" fill="#c2102e"/>
<circle cx="505.00" cy="28.03" r="1.05" fill="#c2102e"/>
<circle cx="505.00" cy="30.84" r="1.05" fill="#c2102e"/>
<circle cx="505.00" cy="32.24" r="1.05" fill="#c2102e"/>
<circle cx="505.00" cy="35.05" r="1.05" fill="#c2102e"/>
<circle cx="505.00" cy="37.86" r="1.05" fill="#c2102e"/>
<circle cx="505.00" cy="40.67" r="1.05" fill="#c2102e"/>
<circle cx="505.00" cy="42.07" r="1.05" fill="#c2102e"/>
<circle cx="505.00" cy="44.88" r="1.05" fill="#c2102e"/>
<circle cx="505.00" cy="47.69" r="1.05" fill="#c2102e"/>
<circle cx="505.00" cy="50.50" r="1.05" fill="#c2102e"/>
<circle cx="505.00" cy="19.61" r="1.05" fill="#c2102e"/>
<line x1="305.20" y1="120.80" x2="305.20" y2="194.00" stroke="#111" stroke-width="1.1"/>
<line x1="304.70" y1="194.00" x2="357.60" y2="194.00" stroke="#111" stroke-width="1.1"/>
<line x1="301.60" y1="137.10" x2="305.20" y2="137.10" stroke="#111" stroke-width="1"/>
<text x="298.40" y="140.00" font-size="8.2" text-anchor="end" textLength="8.48" lengthAdjust="spacingAndGlyphs">90</text>
<line x1="301.60" y1="155.20" x2="305.20" y2="155.20" stroke="#111" stroke-width="1"/>
<text x="298.40" y="158.10" font-size="8.2" text-anchor="end" textLength="8.48" lengthAdjust="spacingAndGlyphs">60</text>
<line x1="301.60" y1="173.00" x2="305.20" y2="173.00" stroke="#111" stroke-width="1"/>
<text x="298.40" y="175.90" font-size="8.2" text-anchor="end" textLength="8.48" lengthAdjust="spacingAndGlyphs">30</text>
<line x1="301.60" y1="190.80" x2="305.20" y2="190.80" stroke="#111" stroke-width="1"/>
<text x="298.40" y="193.70" font-size="8.2" text-anchor="end" textLength="4.24" lengthAdjust="spacingAndGlyphs">0</text>
<text x="314.20" y="118.00" font-size="8.2" font-style="italic" fill="#111" textLength="34.60" lengthAdjust="spacingAndGlyphs">S100A10</text>
<line x1="319.50" y1="194.00" x2="319.50" y2="197.00" stroke="#111" stroke-width="1"/>
<text x="319.50" y="206.80" font-size="8.2" text-anchor="middle">HC</text>
<line x1="343.50" y1="194.00" x2="343.50" y2="197.00" stroke="#111" stroke-width="1"/>
<text x="343.50" y="206.80" font-size="8.2" text-anchor="middle">II-1</text>
<line x1="319.50" y1="190.80" x2="319.50" y2="139.49" stroke="#9fc0de" stroke-width="0.6"/>
<path d="M330.10,190.80 L330.10,190.40 L329.50,189.30 L326.90,187.70 L323.20,185.60 L320.80,183.50 L320.20,178.80 L320.00,165.80 L319.90,139.80 L319.10,139.80 L319.00,165.80 L318.80,178.80 L318.20,183.50 L315.80,185.60 L312.10,187.70 L309.50,189.30 L308.90,190.40 L308.90,190.80 Z" fill="#9ab6d2" stroke="#5a7fa6" stroke-width="0.4" fill-opacity="0.85" stroke-linejoin="round"/>
<path d="M324.27,190.80 L324.27,190.40 L324.00,189.30 L322.83,187.70 L321.17,185.60 L320.08,183.50 L319.81,178.80 L319.73,165.80 L319.68,139.80 L319.32,139.80 L319.27,165.80 L319.19,178.80 L318.92,183.50 L317.83,185.60 L316.17,187.70 L315.00,189.30 L314.73,190.40 L314.73,190.80 Z" fill="#5f87b3" stroke="none" stroke-width="1" fill-opacity="0.6"/>
<rect x="318.40" y="160.37" width="2.2" height="31.23" fill="#174c86" rx="1"/>
<circle cx="319.50" cy="156.79" r="1.05" fill="#174c86"/>
<circle cx="319.50" cy="139.49" r="1.05" fill="#174c86"/>
<line x1="343.50" y1="190.80" x2="343.50" y2="123.97" stroke="#eea3ae" stroke-width="0.6"/>
<path d="M354.30,190.80 L354.10,189.30 L352.00,186.70 L349.30,183.50 L347.20,180.30 L345.60,175.00 L344.60,167.60 L344.10,155.80 L343.80,124.80 L343.20,124.80 L342.90,155.80 L342.40,167.60 L341.40,175.00 L339.80,180.30 L337.70,183.50 L335.00,186.70 L332.90,189.30 L332.70,190.80 Z" fill="#eb9aa8" stroke="#c0566e" stroke-width="0.4" fill-opacity="0.85" stroke-linejoin="round"/>
<path d="M348.36,190.80 L348.27,189.30 L347.32,186.70 L346.11,183.50 L345.17,180.30 L344.44,175.00 L344.00,167.60 L343.77,155.80 L343.63,124.80 L343.37,124.80 L343.23,155.80 L343.00,167.60 L342.56,175.00 L341.83,180.30 L340.89,183.50 L339.68,186.70 L338.73,189.30 L338.64,190.80 Z" fill="#d9566f" stroke="none" stroke-width="1" fill-opacity="0.6"/>
<rect x="342.40" y="144.86" width="2.2" height="46.74" fill="#c2102e" rx="1"/>
<circle cx="343.50" cy="134.71" r="1.05" fill="#c2102e"/>
<circle cx="343.50" cy="123.97" r="1.05" fill="#c2102e"/>
<text x="284.20" y="157.60" font-size="8.6" text-anchor="middle" textLength="73.50" lengthAdjust="spacingAndGlyphs" transform="rotate(-90 284.20 157.60)">Transcript abundance</text>
<line x1="386.70" y1="117.30" x2="386.70" y2="193.50" stroke="#111" stroke-width="1.1"/>
<line x1="386.20" y1="193.50" x2="438.70" y2="193.50" stroke="#111" stroke-width="1.1"/>
<line x1="383.10" y1="121.60" x2="386.70" y2="121.60" stroke="#111" stroke-width="1"/>
<text x="379.90" y="124.50" font-size="8.2" text-anchor="end" textLength="16.96" lengthAdjust="spacingAndGlyphs">1000</text>
<line x1="383.10" y1="139.00" x2="386.70" y2="139.00" stroke="#111" stroke-width="1"/>
<text x="379.90" y="141.90" font-size="8.2" text-anchor="end" textLength="12.72" lengthAdjust="spacingAndGlyphs">750</text>
<line x1="383.10" y1="156.20" x2="386.70" y2="156.20" stroke="#111" stroke-width="1"/>
<text x="379.90" y="159.10" font-size="8.2" text-anchor="end" textLength="12.72" lengthAdjust="spacingAndGlyphs">500</text>
<line x1="383.10" y1="173.60" x2="386.70" y2="173.60" stroke="#111" stroke-width="1"/>
<text x="379.90" y="176.50" font-size="8.2" text-anchor="end" textLength="12.72" lengthAdjust="spacingAndGlyphs">250</text>
<line x1="383.10" y1="190.30" x2="386.70" y2="190.30" stroke="#111" stroke-width="1"/>
<text x="379.90" y="193.20" font-size="8.2" text-anchor="end" textLength="4.24" lengthAdjust="spacingAndGlyphs">0</text>
<text x="400.30" y="118.20" font-size="8.2" font-style="italic" fill="#111" textLength="25.30" lengthAdjust="spacingAndGlyphs">GZMB</text>
<line x1="401.00" y1="193.50" x2="401.00" y2="196.50" stroke="#111" stroke-width="1"/>
<text x="401.00" y="206.80" font-size="8.2" text-anchor="middle">HC</text>
<line x1="425.00" y1="193.50" x2="425.00" y2="196.50" stroke="#111" stroke-width="1"/>
<text x="425.00" y="206.80" font-size="8.2" text-anchor="middle">II-1</text>
<line x1="401.00" y1="190.30" x2="401.00" y2="123.66" stroke="#9fc0de" stroke-width="0.6"/>
<path d="M411.70,190.30 L411.70,189.50 L410.60,187.60 L408.00,183.30 L405.30,178.00 L403.40,171.50 L401.90,164.00 L401.50,150.30 L401.40,124.30 L400.60,124.30 L400.50,150.30 L400.10,164.00 L398.60,171.50 L396.70,178.00 L394.00,183.30 L391.40,187.60 L390.30,189.50 L390.30,190.30 Z" fill="#9ab6d2" stroke="#5a7fa6" stroke-width="0.4" fill-opacity="0.85" stroke-linejoin="round"/>
<path d="M405.81,190.30 L405.81,189.50 L405.32,187.60 L404.15,183.30 L402.94,178.00 L402.08,171.50 L401.40,164.00 L401.23,150.30 L401.18,124.30 L400.82,124.30 L400.77,150.30 L400.60,164.00 L399.92,171.50 L399.06,178.00 L397.85,183.30 L396.68,187.60 L396.19,189.50 L396.19,190.30 Z" fill="#5f87b3" stroke="none" stroke-width="1" fill-opacity="0.6"/>
<rect x="399.90" y="132.59" width="2.2" height="58.51" fill="#174c86" rx="1"/>
<circle cx="401.00" cy="123.66" r="1.05" fill="#174c86"/>
<line x1="425.00" y1="190.30" x2="425.00" y2="124.35" stroke="#eea3ae" stroke-width="0.6"/>
<path d="M435.70,190.30 L435.70,188.70 L433.00,184.40 L432.50,180.10 L433.00,174.70 L430.90,169.40 L427.70,163.00 L425.90,154.40 L425.50,145.30 L425.30,124.30 L424.70,124.30 L424.50,145.30 L424.10,154.40 L422.30,163.00 L419.10,169.40 L417.00,174.70 L417.50,180.10 L417.00,184.40 L414.30,188.70 L414.30,190.30 Z" fill="#eb9aa8" stroke="#c0566e" stroke-width="0.4" fill-opacity="0.85" stroke-linejoin="round"/>
<path d="M429.81,190.30 L429.81,188.70 L428.60,184.40 L428.38,180.10 L428.60,174.70 L427.65,169.40 L426.21,163.00 L425.40,154.40 L425.23,145.30 L425.13,124.30 L424.87,124.30 L424.77,145.30 L424.60,154.40 L423.79,163.00 L422.35,169.40 L421.40,174.70 L421.62,180.10 L421.40,184.40 L420.19,188.70 L420.19,190.30 Z" fill="#d9566f" stroke="none" stroke-width="1" fill-opacity="0.6"/>
<rect x="423.90" y="149.77" width="2.2" height="41.33" fill="#c2102e" rx="1"/>
<circle cx="425.00" cy="137.40" r="1.05" fill="#c2102e"/>
<circle cx="425.00" cy="139.81" r="1.05" fill="#c2102e"/>
<circle cx="425.00" cy="142.21" r="1.05" fill="#c2102e"/>
<circle cx="425.00" cy="124.35" r="1.05" fill="#c2102e"/>
<line x1="466.70" y1="120.80" x2="466.70" y2="194.10" stroke="#111" stroke-width="1.1"/>
<line x1="466.20" y1="194.10" x2="520.50" y2="194.10" stroke="#111" stroke-width="1.1"/>
<line x1="463.10" y1="135.10" x2="466.70" y2="135.10" stroke="#111" stroke-width="1"/>
<text x="459.90" y="138.00" font-size="8.2" text-anchor="end" textLength="8.48" lengthAdjust="spacingAndGlyphs">15</text>
<line x1="463.10" y1="153.70" x2="466.70" y2="153.70" stroke="#111" stroke-width="1"/>
<text x="459.90" y="156.60" font-size="8.2" text-anchor="end" textLength="8.48" lengthAdjust="spacingAndGlyphs">10</text>
<line x1="463.10" y1="172.30" x2="466.70" y2="172.30" stroke="#111" stroke-width="1"/>
<text x="459.90" y="175.20" font-size="8.2" text-anchor="end" textLength="4.24" lengthAdjust="spacingAndGlyphs">5</text>
<line x1="463.10" y1="190.90" x2="466.70" y2="190.90" stroke="#111" stroke-width="1"/>
<text x="459.90" y="193.80" font-size="8.2" text-anchor="end" textLength="4.24" lengthAdjust="spacingAndGlyphs">0</text>
<text x="482.80" y="117.70" font-size="8.2" font-style="italic" fill="#111" textLength="20.80" lengthAdjust="spacingAndGlyphs">TIGIT</text>
<line x1="481.00" y1="194.10" x2="481.00" y2="197.10" stroke="#111" stroke-width="1"/>
<text x="481.00" y="206.80" font-size="8.2" text-anchor="middle">HC</text>
<line x1="505.00" y1="194.10" x2="505.00" y2="197.10" stroke="#111" stroke-width="1"/>
<text x="505.00" y="206.80" font-size="8.2" text-anchor="middle">II-1</text>
<line x1="481.00" y1="190.90" x2="481.00" y2="123.94" stroke="#9fc0de" stroke-width="0.6"/>
<path d="M481.80,190.90 L481.50,123.90 L480.50,123.90 L480.20,190.90 Z" fill="#9ab6d2" stroke="#5a7fa6" stroke-width="0.4" fill-opacity="0.85" stroke-linejoin="round"/>
<path d="M481.36,190.90 L481.23,123.90 L480.77,123.90 L480.64,190.90 Z" fill="#5f87b3" stroke="none" stroke-width="1" fill-opacity="0.6"/>
<rect x="479.90" y="190.90" width="2.2" height="0.80" fill="#174c86" rx="1"/>
<circle cx="481.00" cy="190.90" r="1.05" fill="#174c86"/>
<circle cx="481.00" cy="187.18" r="1.05" fill="#174c86"/>
<circle cx="481.00" cy="183.46" r="1.05" fill="#174c86"/>
<circle cx="481.00" cy="179.74" r="1.05" fill="#174c86"/>
<circle cx="481.00" cy="176.02" r="1.05" fill="#174c86"/>
<circle cx="481.00" cy="172.30" r="1.05" fill="#174c86"/>
<circle cx="481.00" cy="168.58" r="1.05" fill="#174c86"/>
<circle cx="481.00" cy="164.86" r="1.05" fill="#174c86"/>
<circle cx="481.00" cy="161.14" r="1.05" fill="#174c86"/>
<circle cx="481.00" cy="131.38" r="1.05" fill="#174c86"/>
<circle cx="481.00" cy="123.94" r="1.05" fill="#174c86"/>
<line x1="505.00" y1="190.90" x2="505.00" y2="142.54" stroke="#eea3ae" stroke-width="0.6"/>
<path d="M517.00,190.90 L513.00,190.40 L508.50,189.70 L506.50,188.70 L505.70,187.40 L505.40,141.90 L504.60,141.90 L504.30,187.40 L503.50,188.70 L501.50,189.70 L497.00,190.40 L493.00,190.90 Z" fill="#eb9aa8" stroke="#c0566e" stroke-width="0.4" fill-opacity="0.85" stroke-linejoin="round"/>
<path d="M510.40,190.90 L508.60,190.40 L506.57,189.70 L505.68,188.70 L505.31,187.40 L505.18,141.90 L504.82,141.90 L504.69,187.40 L504.32,188.70 L503.43,189.70 L501.40,190.40 L499.60,190.90 Z" fill="#d9566f" stroke="none" stroke-width="1" fill-opacity="0.6"/>
<rect x="503.90" y="187.18" width="2.2" height="4.52" fill="#c2102e" rx="1"/>
<circle cx="505.00" cy="190.90" r="1.05" fill="#c2102e"/>
<circle cx="505.00" cy="187.18" r="1.05" fill="#c2102e"/>
<circle cx="505.00" cy="183.46" r="1.05" fill="#c2102e"/>
<circle cx="505.00" cy="179.74" r="1.05" fill="#c2102e"/>
<circle cx="505.00" cy="176.02" r="1.05" fill="#c2102e"/>
<circle cx="505.00" cy="172.30" r="1.05" fill="#c2102e"/>
<circle cx="505.00" cy="168.58" r="1.05" fill="#c2102e"/>
<circle cx="505.00" cy="164.86" r="1.05" fill="#c2102e"/>
<circle cx="505.00" cy="161.14" r="1.05" fill="#c2102e"/>
<circle cx="505.00" cy="157.42" r="1.05" fill="#c2102e"/>
<circle cx="505.00" cy="142.54" r="1.05" fill="#c2102e"/>
<line x1="305.20" y1="225.80" x2="305.20" y2="299.00" stroke="#111" stroke-width="1.1"/>
<line x1="304.70" y1="299.00" x2="357.60" y2="299.00" stroke="#111" stroke-width="1.1"/>
<line x1="301.60" y1="237.70" x2="305.20" y2="237.70" stroke="#111" stroke-width="1"/>
<text x="298.40" y="240.60" font-size="8.2" text-anchor="end" textLength="8.48" lengthAdjust="spacingAndGlyphs">40</text>
<line x1="301.60" y1="252.10" x2="305.20" y2="252.10" stroke="#111" stroke-width="1"/>
<text x="298.40" y="255.00" font-size="8.2" text-anchor="end" textLength="8.48" lengthAdjust="spacingAndGlyphs">30</text>
<line x1="301.60" y1="266.50" x2="305.20" y2="266.50" stroke="#111" stroke-width="1"/>
<text x="298.40" y="269.40" font-size="8.2" text-anchor="end" textLength="8.48" lengthAdjust="spacingAndGlyphs">20</text>
<line x1="301.60" y1="281.30" x2="305.20" y2="281.30" stroke="#111" stroke-width="1"/>
<text x="298.40" y="284.20" font-size="8.2" text-anchor="end" textLength="8.48" lengthAdjust="spacingAndGlyphs">10</text>
<line x1="301.60" y1="295.80" x2="305.20" y2="295.80" stroke="#111" stroke-width="1"/>
<text x="298.40" y="298.70" font-size="8.2" text-anchor="end" textLength="4.24" lengthAdjust="spacingAndGlyphs">0</text>
<text x="318.70" y="221.80" font-size="8.2" font-style="italic" fill="#111" textLength="25.90" lengthAdjust="spacingAndGlyphs">FASLG</text>
<line x1="319.50" y1="299.00" x2="319.50" y2="302.00" stroke="#111" stroke-width="1"/>
<text x="319.50" y="311.80" font-size="8.2" text-anchor="middle">HC</text>
<line x1="343.50" y1="299.00" x2="343.50" y2="302.00" stroke="#111" stroke-width="1"/>
<text x="343.50" y="311.80" font-size="8.2" text-anchor="middle">II-1</text>
<line x1="319.50" y1="295.80" x2="319.50" y2="240.60" stroke="#9fc0de" stroke-width="0.6"/>
<path d="M330.10,295.80 L330.10,294.30 L327.40,290.60 L324.30,286.40 L321.60,282.10 L320.30,277.90 L320.00,269.80 L319.90,240.80 L319.10,240.80 L319.00,269.80 L318.70,277.90 L317.40,282.10 L314.70,286.40 L311.60,290.60 L308.90,294.30 L308.90,295.80 Z" fill="#9ab6d2" stroke="#5a7fa6" stroke-width="0.4" fill-opacity="0.85" stroke-linejoin="round"/>
<path d="M324.27,295.80 L324.27,294.30 L323.06,290.60 L321.66,286.40 L320.44,282.10 L319.86,277.90 L319.73,269.80 L319.68,240.80 L319.32,240.80 L319.27,269.80 L319.14,277.90 L318.56,282.10 L317.34,286.40 L315.94,290.60 L314.73,294.30 L314.73,295.80 Z" fill="#5f87b3" stroke="none" stroke-width="1" fill-opacity="0.6"/>
<rect x="318.40" y="259.49" width="2.2" height="37.11" fill="#174c86" rx="1"/>
<circle cx="319.50" cy="247.87" r="1.05" fill="#174c86"/>
<circle cx="319.50" cy="252.22" r="1.05" fill="#174c86"/>
<circle cx="319.50" cy="255.13" r="1.05" fill="#174c86"/>
<circle cx="319.50" cy="240.60" r="1.05" fill="#174c86"/>
<line x1="343.50" y1="295.80" x2="343.50" y2="228.98" stroke="#eea3ae" stroke-width="0.6"/>
<path d="M354.00,295.80 L353.50,294.80 L349.80,293.30 L346.10,290.60 L344.30,287.40 L344.00,279.80 L343.80,228.80 L343.20,228.80 L343.00,279.80 L342.70,287.40 L340.90,290.60 L337.20,293.30 L333.50,294.80 L333.00,295.80 Z" fill="#eb9aa8" stroke="#c0566e" stroke-width="0.4" fill-opacity="0.85" stroke-linejoin="round"/>
<path d="M348.23,295.80 L348.00,294.80 L346.33,293.30 L344.67,290.60 L343.86,287.40 L343.73,279.80 L343.63,228.80 L343.37,228.80 L343.27,279.80 L343.14,287.40 L342.33,290.60 L340.67,293.30 L339.00,294.80 L338.77,295.80 Z" fill="#d9566f" stroke="none" stroke-width="1" fill-opacity="0.6"/>
<rect x="342.40" y="260.94" width="2.2" height="35.66" fill="#c2102e" rx="1"/>
<circle cx="343.50" cy="255.13" r="1.05" fill="#c2102e"/>
<circle cx="343.50" cy="228.98" r="1.05" fill="#c2102e"/>
<text x="284.20" y="262.60" font-size="8.6" text-anchor="middle" textLength="73.50" lengthAdjust="spacingAndGlyphs" transform="rotate(-90 284.20 262.60)">Transcript abundance</text>
<line x1="386.70" y1="224.90" x2="386.70" y2="299.10" stroke="#111" stroke-width="1.1"/>
<line x1="386.20" y1="299.10" x2="438.70" y2="299.10" stroke="#111" stroke-width="1.1"/>
<line x1="383.10" y1="228.40" x2="386.70" y2="228.40" stroke="#111" stroke-width="1"/>
<text x="379.90" y="231.30" font-size="8.2" text-anchor="end" textLength="16.96" lengthAdjust="spacingAndGlyphs">2000</text>
<line x1="383.10" y1="245.30" x2="386.70" y2="245.30" stroke="#111" stroke-width="1"/>
<text x="379.90" y="248.20" font-size="8.2" text-anchor="end" textLength="16.96" lengthAdjust="spacingAndGlyphs">1500</text>
<line x1="383.10" y1="262.10" x2="386.70" y2="262.10" stroke="#111" stroke-width="1"/>
<text x="379.90" y="265.00" font-size="8.2" text-anchor="end" textLength="16.96" lengthAdjust="spacingAndGlyphs">1000</text>
<line x1="383.10" y1="279.10" x2="386.70" y2="279.10" stroke="#111" stroke-width="1"/>
<text x="379.90" y="282.00" font-size="8.2" text-anchor="end" textLength="12.72" lengthAdjust="spacingAndGlyphs">500</text>
<line x1="383.10" y1="295.90" x2="386.70" y2="295.90" stroke="#111" stroke-width="1"/>
<text x="379.90" y="298.80" font-size="8.2" text-anchor="end" textLength="4.24" lengthAdjust="spacingAndGlyphs">0</text>
<text x="403.10" y="221.80" font-size="8.2" font-style="italic" fill="#111" textLength="20.30" lengthAdjust="spacingAndGlyphs">IFNG</text>
<line x1="401.00" y1="299.10" x2="401.00" y2="302.10" stroke="#111" stroke-width="1"/>
<text x="401.00" y="311.80" font-size="8.2" text-anchor="middle">HC</text>
<line x1="425.00" y1="299.10" x2="425.00" y2="302.10" stroke="#111" stroke-width="1"/>
<text x="425.00" y="311.80" font-size="8.2" text-anchor="middle">II-1</text>
<line x1="401.00" y1="295.90" x2="401.00" y2="228.40" stroke="#9fc0de" stroke-width="0.6"/>
<path d="M411.80,295.90 L411.80,294.10 L409.10,290.30 L406.40,286.00 L403.70,279.50 L402.60,270.90 L401.90,256.90 L401.40,228.90 L400.60,228.90 L400.10,256.90 L399.40,270.90 L398.30,279.50 L395.60,286.00 L392.90,290.30 L390.20,294.10 L390.20,295.90 Z" fill="#9ab6d2" stroke="#5a7fa6" stroke-width="0.4" fill-opacity="0.85" stroke-linejoin="round"/>
<path d="M405.86,295.90 L405.86,294.10 L404.64,290.30 L403.43,286.00 L402.21,279.50 L401.72,270.90 L401.40,256.90 L401.18,228.90 L400.82,228.90 L400.60,256.90 L400.28,270.90 L399.79,279.50 L398.57,286.00 L397.36,290.30 L396.14,294.10 L396.14,295.90 Z" fill="#5f87b3" stroke="none" stroke-width="1" fill-opacity="0.6"/>
<rect x="399.90" y="231.78" width="2.2" height="64.92" fill="#174c86" rx="1"/>
<circle cx="401.00" cy="228.40" r="1.05" fill="#174c86"/>
<line x1="425.00" y1="295.90" x2="425.00" y2="243.25" stroke="#eea3ae" stroke-width="0.6"/>
<path d="M435.80,295.90 L435.80,295.60 L432.00,295.10 L429.30,294.40 L426.50,293.40 L425.80,291.90 L425.50,285.90 L425.30,245.90 L424.70,245.90 L424.50,285.90 L424.20,291.90 L423.50,293.40 L420.70,294.40 L418.00,295.10 L414.20,295.60 L414.20,295.90 Z" fill="#eb9aa8" stroke="#c0566e" stroke-width="0.4" fill-opacity="0.85" stroke-linejoin="round"/>
<path d="M429.86,295.90 L429.86,295.60 L428.15,295.10 L426.94,294.40 L425.68,293.40 L425.36,291.90 L425.23,285.90 L425.13,245.90 L424.87,245.90 L424.77,285.90 L424.64,291.90 L424.32,293.40 L423.06,294.40 L421.85,295.10 L420.14,295.60 L420.14,295.90 Z" fill="#d9566f" stroke="none" stroke-width="1" fill-opacity="0.6"/>
<rect x="423.90" y="245.27" width="2.2" height="51.42" fill="#c2102e" rx="1"/>
<circle cx="425.00" cy="243.25" r="1.05" fill="#c2102e"/>
<line x1="466.70" y1="225.80" x2="466.70" y2="299.10" stroke="#111" stroke-width="1.1"/>
<line x1="466.20" y1="299.10" x2="520.50" y2="299.10" stroke="#111" stroke-width="1.1"/>
<line x1="463.10" y1="232.30" x2="466.70" y2="232.30" stroke="#111" stroke-width="1"/>
<text x="459.90" y="235.20" font-size="8.2" text-anchor="end" textLength="16.96" lengthAdjust="spacingAndGlyphs">1000</text>
<line x1="463.10" y1="248.30" x2="466.70" y2="248.30" stroke="#111" stroke-width="1"/>
<text x="459.90" y="251.20" font-size="8.2" text-anchor="end" textLength="12.72" lengthAdjust="spacingAndGlyphs">750</text>
<line x1="463.10" y1="264.20" x2="466.70" y2="264.20" stroke="#111" stroke-width="1"/>
<text x="459.90" y="267.10" font-size="8.2" text-anchor="end" textLength="12.72" lengthAdjust="spacingAndGlyphs">500</text>
<line x1="463.10" y1="280.00" x2="466.70" y2="280.00" stroke="#111" stroke-width="1"/>
<text x="459.90" y="282.90" font-size="8.2" text-anchor="end" textLength="12.72" lengthAdjust="spacingAndGlyphs">250</text>
<line x1="463.10" y1="295.90" x2="466.70" y2="295.90" stroke="#111" stroke-width="1"/>
<text x="459.90" y="298.80" font-size="8.2" text-anchor="end" textLength="4.24" lengthAdjust="spacingAndGlyphs">0</text>
<text x="485.70" y="221.80" font-size="8.2" font-style="italic" fill="#111" textLength="15.60" lengthAdjust="spacingAndGlyphs">TNF</text>
<line x1="481.00" y1="299.10" x2="481.00" y2="302.10" stroke="#111" stroke-width="1"/>
<text x="481.00" y="311.80" font-size="8.2" text-anchor="middle">HC</text>
<line x1="505.00" y1="299.10" x2="505.00" y2="302.10" stroke="#111" stroke-width="1"/>
<text x="505.00" y="311.80" font-size="8.2" text-anchor="middle">II-1</text>
<line x1="481.00" y1="295.90" x2="481.00" y2="228.48" stroke="#9fc0de" stroke-width="0.6"/>
<path d="M493.00,295.90 L489.00,295.40 L485.00,294.70 L482.60,293.70 L481.90,291.90 L481.60,285.90 L481.40,228.90 L480.60,228.90 L480.40,285.90 L480.10,291.90 L479.40,293.70 L477.00,294.70 L473.00,295.40 L469.00,295.90 Z" fill="#9ab6d2" stroke="#5a7fa6" stroke-width="0.4" fill-opacity="0.85" stroke-linejoin="round"/>
<path d="M486.40,295.90 L484.60,295.40 L482.80,294.70 L481.72,293.70 L481.40,291.90 L481.27,285.90 L481.18,228.90 L480.82,228.90 L480.73,285.90 L480.60,291.90 L480.28,293.70 L479.20,294.70 L477.40,295.40 L475.60,295.90 Z" fill="#5f87b3" stroke="none" stroke-width="1" fill-opacity="0.6"/>
<rect x="479.90" y="253.92" width="2.2" height="42.78" fill="#174c86" rx="1"/>
<circle cx="481.00" cy="241.84" r="1.05" fill="#174c86"/>
<circle cx="481.00" cy="228.48" r="1.05" fill="#174c86"/>
<line x1="505.00" y1="295.90" x2="505.00" y2="262.19" stroke="#eea3ae" stroke-width="0.6"/>
<path d="M516.00,295.90 L512.00,295.40 L508.00,294.70 L506.20,293.70 L505.60,291.90 L505.30,261.90 L504.70,261.90 L504.40,291.90 L503.80,293.70 L502.00,294.70 L498.00,295.40 L494.00,295.90 Z" fill="#eb9aa8" stroke="#c0566e" stroke-width="0.4" fill-opacity="0.85" stroke-linejoin="round"/>
<path d="M509.95,295.90 L508.15,295.40 L506.35,294.70 L505.54,293.70 L505.27,291.90 L505.13,261.90 L504.87,261.90 L504.73,291.90 L504.46,293.70 L503.65,294.70 L501.85,295.40 L500.05,295.90 Z" fill="#d9566f" stroke="none" stroke-width="1" fill-opacity="0.6"/>
<rect x="503.90" y="280.95" width="2.2" height="15.75" fill="#c2102e" rx="1"/>
<circle cx="505.00" cy="266.01" r="1.05" fill="#c2102e"/>
<circle cx="505.00" cy="268.55" r="1.05" fill="#c2102e"/>
<circle cx="505.00" cy="270.46" r="1.05" fill="#c2102e"/>
<circle cx="505.00" cy="276.18" r="1.05" fill="#c2102e"/>
<circle cx="505.00" cy="262.19" r="1.05" fill="#c2102e"/>
<clipPath id="cb1"><rect x="15.0" y="179.3" width="103.9" height="104.59999999999997"/></clipPath>
<g clip-path="url(#cb1)">
<path d="M79.8 232.9h0M21.7 282.3h0M96.9 280.9h0M25.9 207.1h0M19.1 260.8h0M43.1 192.9h0M58.9 274.6h0M100.1 206.4h0M30.5 275.4h0M74.3 252.6h0M24.3 185.3h0M86.5 223.8h0M22.5 277.5h0M80.9 263.2h0M23.7 268.9h0M21.9 269.5h0M62.1 214.8h0M72.5 276.2h0M42.8 192.8h0M69.7 204.2h0M26.4 196.2h0M20.2 200.4h0M47.4 211.2h0M93.9 209.6h0M67.0 197.9h0M51.1 181.2h0M41.0 180.9h0M91.2 236.9h0M34.7 229.0h0M112.1 190.4h0M100.1 224.5h0M66.4 266.6h0M55.8 232.3h0M86.5 282.1h0M50.6 266.4h0M88.4 245.8h0M57.0 215.7h0M20.7 192.9h0M22.3 256.8h0M41.6 196.4h0M23.8 267.3h0M105.4 249.4h0M44.3 204.6h0M45.4 227.4h0M31.4 225.9h0M42.4 279.9h0M116.1 236.5h0M40.4 280.3h0M47.2 216.6h0M15.1 219.2h0M64.3 231.9h0M35.9 232.1h0M15.5 206.9h0M24.3 221.1h0M19.3 181.7h0M46.6 203.7h0M75.8 234.7h0M93.0 248.1h0M89.4 271.3h0M55.5 213.4h0M117.3 194.9h0M90.2 246.6h0M19.5 266.7h0M107.7 244.9h0M91.2 264.3h0M29.5 234.1h0M67.4 266.6h0M98.6 265.7h0M75.7 272.7h0M86.0 251.8h0M38.9 182.6h0M28.8 217.0h0M25.9 266.7h0M73.0 245.0h0M80.1 250.5h0M65.8 179.6h0M97.9 257.6h0M67.3 235.3h0M83.5 186.2h0M91.6 205.7h0M22.7 207.1h0M90.8 200.8h0M91.9 281.4h0M66.3 219.3h0M64.8 250.8h0M94.7 243.8h0M81.8 187.4h0M30.3 205.9h0M92.2 211.1h0M74.0 180.6h0M21.3 207.4h0M84.8 251.7h0M85.2 209.7h0M68.7 227.9h0M63.5 191.7h0M107.9 200.1h0M116.6 277.2h0M16.8 227.3h0M100.2 280.6h0M61.7 207.4h0M36.8 278.2h0M36.9 240.1h0M29.7 234.1h0M114.0 193.2h0M100.2 232.5h0M107.1 252.9h0M39.0 273.2h0M65.5 181.9h0M15.4 230.7h0M61.8 210.9h0M29.6 215.3h0M47.8 267.2h0M15.2 257.8h0M102.2 191.9h0M111.3 253.9h0M108.7 209.6h0M53.7 220.4h0M118.8 240.9h0M52.5 224.1h0M43.6 184.3h0M25.6 266.6h0M44.7 277.2h0M40.9 207.1h0M68.1 199.2h0M53.8 279.3h0M106.9 264.2h0M80.6 274.8h0M112.7 236.7h0M89.8 184.5h0M91.1 226.5h0M93.2 246.7h0M44.7 184.4h0M111.3 192.6h0M64.1 215.2h0M45.9 256.6h0M116.4 206.5h0M83.2 210.8h0M72.9 220.6h0M32.4 196.2h0M36.6 274.1h0M66.6 202.3h0M109.2 283.5h0M61.8 193.9h0M35.0 188.8h0M50.5 188.8h0M39.8 206.3h0M74.2 272.1h0M92.9 222.5h0M58.0 234.1h0M54.2 214.7h0M21.4 208.3h0M115.5 192.5h0M67.3 245.2h0M104.7 201.9h0M43.2 205.3h0M56.5 225.9h0M114.1 268.1h0M105.7 181.6h0M18.4 253.5h0M108.1 228.8h0M76.0 179.3h0M55.7 276.2h0M100.8 268.8h0M116.0 205.3h0M26.3 195.4h0M69.3 250.6h0M112.8 254.8h0M82.3 259.3h0M62.5 237.0h0M19.1 261.1h0M39.2 275.5h0M82.1 211.1h0M28.3 205.6h0M81.1 252.4h0M26.7 186.7h0M69.5 240.3h0M55.3 202.7h0M77.5 180.4h0M46.3 227.5h0M114.6 246.7h0M106.8 229.0h0M39.4 205.1h0M114.8 253.0h0M46.9 181.6h0M66.8 249.8h0M58.6 206.2h0M84.3 276.1h0M38.6 182.9h0M50.1 223.3h0M85.9 200.0h0M97.8 256.6h0M67.5 200.8h0M115.8 211.9h0M100.2 203.4h0M38.0 258.8h0M45.6 278.9h0M66.5 198.9h0M38.2 222.9h0M84.1 278.5h0M30.2 220.5h0M37.1 281.2h0M29.7 184.7h0M21.2 220.4h0M108.3 271.7h0M91.1 283.6h0M111.8 213.7h0M34.3 277.2h0M92.5 182.6h0M84.0 218.9h0M53.8 214.0h0M32.6 179.6h0M44.1 216.1h0M114.3 192.2h0M115.2 201.0h0M52.1 265.2h0M100.4 224.5h0M20.1 228.8h0M53.7 275.5h0M35.1 217.4h0M108.2 182.5h0M57.7 264.2h0M94.7 183.6h0M18.6 185.8h0M110.6 206.2h0M92.6 273.3h0M50.2 207.8h0M114.5 243.8h0M42.2 254.3h0M47.9 208.1h0M15.4 258.3h0M110.2 245.6h0M113.0 181.8h0M39.3 229.0h0M114.4 279.1h0M55.2 205.6h0M59.7 230.9h0M111.4 198.4h0M98.4 256.5h0M100.5 260.1h0M78.1 213.6h0M48.2 217.2h0M96.3 187.6h0M35.5 258.1h0M40.7 186.1h0M18.5 237.1h0M48.8 281.8h0M106.8 282.6h0M42.5 188.1h0M25.0 231.4h0M88.7 226.1h0M39.3 222.9h0M79.4 249.8h0M92.7 267.9h0M84.0 192.0h0M102.4 210.0h0M73.9 218.3h0M91.7 200.1h0M40.7 205.0h0M30.9 271.8h0M75.1 213.4h0M56.2 283.1h0M67.7 203.5h0M99.0 247.6h0M118.0 190.0h0M64.3 265.0h0M102.3 274.9h0M19.2 210.0h0M27.4 199.1h0M116.1 240.3h0M111.6 218.2h0M105.0 226.3h0M42.0 260.7h0M113.3 190.4h0M76.9 244.1h0M37.6 217.9h0M29.7 200.6h0M41.5 242.0h0M82.7 200.6h0M16.2 213.5h0M85.5 198.7h0M47.4 200.6h0M97.6 236.6h0M21.6 189.9h0M56.1 236.8h0M81.4 188.8h0M32.0 252.0h0M57.6 208.9h0M47.0 279.0h0M47.5 238.6h0M52.1 222.9h0M104.8 283.5h0M52.8 199.9h0M90.6 200.6h0M15.6 273.6h0M59.0 265.1h0M57.2 271.6h0M62.9 196.3h0M16.5 237.0h0M81.6 274.5h0M24.3 244.4h0M53.5 232.1h0M30.2 208.9h0M69.1 276.1h0M26.3 230.6h0M98.6 280.4h0M35.5 192.5h0M113.0 281.3h0M65.2 184.9h0M111.2 219.9h0M108.9 244.2h0M100.7 196.1h0M96.6 202.5h0M57.0 267.8h0M101.2 198.4h0M37.7 221.1h0M68.8 219.4h0M27.8 205.1h0M90.3 273.2h0M19.3 238.1h0M93.7 183.3h0M102.1 191.6h0M77.3 236.8h0M80.1 211.3h0M58.6 240.2h0M59.2 248.2h0M61.4 225.2h0M17.4 244.0h0M65.9 203.9h0M94.3 260.9h0M62.6 198.1h0M64.2 190.5h0M28.3 224.3h0M24.5 225.5h0M68.0 183.6h0M81.1 187.9h0M91.2 260.6h0M68.1 185.0h0M67.4 218.8h0M113.8 193.5h0M104.0 283.5h0M91.1 264.5h0M35.1 282.0h0M66.1 279.4h0M110.2 196.6h0M96.9 276.6h0M21.8 216.0h0M93.6 195.9h0M108.2 208.1h0M99.7 194.3h0M67.2 275.5h0M36.6 206.8h0M67.6 212.7h0M18.8 198.3h0M31.8 277.2h0M85.6 273.0h0M32.5 261.4h0M27.0 234.8h0M81.1 216.9h0M105.7 237.4h0M75.3 271.6h0M25.9 283.2h0M80.4 220.5h0M97.9 207.0h0M117.9 239.7h0M52.4 259.3h0M61.0 197.8h0M92.3 184.4h0M100.2 205.8h0M81.4 282.2h0M75.9 248.7h0M47.5 179.5h0M18.5 194.9h0M79.0 224.5h0M68.3 273.0h0M28.7 203.1h0M82.9 181.6h0M15.3 216.4h0M26.1 216.7h0M38.3 240.3h0M76.2 200.7h0M79.8 229.0h0M29.0 277.3h0M40.3 194.9h0M25.0 246.1h0M105.5 261.1h0M56.8 206.9h0M16.2 246.8h0M73.4 215.9h0M82.1 225.7h0M112.4 256.0h0M40.8 273.8h0M19.6 234.9h0M57.2 204.2h0M21.1 260.8h0M16.3 236.9h0M112.8 194.2h0M35.7 242.9h0M67.7 246.4h0M99.5 197.6h0M47.1 210.7h0M20.0 272.3h0M96.4 254.1h0M15.7 267.6h0M92.4 228.0h0M92.1 226.6h0M38.5 190.3h0M39.1 183.4h0M49.9 257.7h0M87.2 267.7h0M88.9 207.1h0M72.5 224.9h0M96.9 234.0h0M42.6 246.5h0M115.3 202.0h0M106.4 180.9h0M42.1 204.0h0M92.3 278.1h0M92.5 213.5h0M106.4 213.7h0M39.8 274.2h0M80.5 251.8h0M84.1 281.7h0M63.8 267.1h0M87.5 269.0h0M60.4 255.1h0M74.3 211.5h0M37.0 244.4h0M23.1 274.6h0M30.0 182.1h0M26.1 276.5h0M50.8 194.1h0M18.0 183.7h0M87.0 245.6h0M87.4 256.4h0M21.8 241.1h0M52.8 264.8h0M100.2 272.5h0M21.9 270.1h0M110.0 278.1h0M26.1 200.8h0M26.6 182.9h0M103.1 264.2h0M80.9 265.6h0M80.6 209.4h0M25.4 189.5h0M93.7 200.7h0M48.2 223.6h0M17.2 206.2h0M44.4 254.2h0M53.2 212.9h0M115.2 232.0h0M103.5 244.0h0M18.2 222.5h0M60.3 260.2h0M51.0 253.0h0M70.9 202.0h0M104.6 188.8h0M100.2 197.1h0M15.1 200.4h0M94.2 281.6h0M15.5 230.6h0M66.1 262.6h0M34.2 231.0h0M51.1 266.3h0M42.1 278.0h0M44.5 201.8h0M87.7 231.4h0M26.4 245.9h0M23.4 261.7h0M87.4 261.6h0M80.2 216.5h0M56.7 220.6h0M107.5 188.3h0M107.3 181.9h0M36.4 206.8h0M108.6 231.7h0M54.4 271.8h0M39.3 227.5h0M70.2 258.2h0M93.2 246.9h0M51.2 213.5h0M31.1 267.5h0M83.8 256.9h0M32.6 225.2h0M95.4 239.9h0M28.1 227.6h0M107.0 204.2h0M34.9 210.8h0M88.1 267.5h0M31.1 195.6h0M40.7 213.5h0M69.3 196.1h0M49.1 199.1h0M116.3 255.5h0M25.6 280.0h0M25.6 219.5h0M117.2 262.4h0M91.2 224.8h0M35.4 246.0h0M26.1 200.9h0M55.3 182.8h0M56.5 262.0h0M87.0 231.7h0M80.7 227.8h0M29.7 242.4h0M57.0 256.8h0M109.3 224.3h0M74.6 257.7h0M58.8 203.2h0M90.0 271.4h0M95.4 252.5h0M103.6 250.4h0M81.7 226.8h0M47.5 245.0h0M25.2 223.2h0M96.3 253.9h0M80.4 205.5h0M59.0 226.9h0M79.6 222.1h0M85.2 276.6h0" stroke="#888" stroke-width="0.60" stroke-linecap="round" stroke-opacity="0.55" fill="none"/>
</g>
<clipPath id="cb2"><rect x="123.3" y="179.3" width="104.50000000000001" height="104.59999999999997"/></clipPath>
<g clip-path="url(#cb2)">
<path d="M142.4 247.8h0M204.6 220.0h0M174.5 281.2h0M127.3 236.1h0M140.1 261.1h0M221.6 233.6h0M133.9 239.4h0M179.8 254.3h0M176.8 246.2h0M209.9 233.9h0M166.2 278.5h0M145.3 250.9h0M164.3 259.1h0M136.1 282.3h0M160.4 185.2h0M152.0 221.1h0M124.7 223.1h0M167.2 252.3h0M160.1 207.0h0M146.8 256.9h0M221.5 234.4h0M146.2 263.1h0M164.3 201.5h0M136.8 260.5h0M207.9 245.6h0M172.3 238.1h0M146.9 280.1h0M160.2 246.1h0M208.9 264.7h0M172.2 210.1h0M180.6 192.4h0M210.4 216.4h0M212.2 207.3h0M162.6 205.8h0M167.8 198.7h0M123.6 254.8h0M152.7 204.9h0M154.8 229.5h0M168.1 246.0h0M192.2 217.2h0M220.4 268.7h0M129.3 265.9h0M218.0 261.3h0M138.0 266.3h0M189.5 180.9h0M124.5 278.9h0M191.8 205.5h0M133.9 194.2h0M147.7 260.5h0M159.5 195.3h0M217.8 262.1h0M140.8 272.5h0M186.9 261.0h0M193.2 272.8h0M205.7 267.0h0M143.9 251.8h0M178.8 256.9h0M169.1 271.6h0M181.3 207.0h0M147.8 193.9h0M174.8 185.4h0M172.1 194.4h0M174.6 231.4h0M179.7 269.6h0M124.0 267.2h0M172.2 238.1h0M192.8 267.2h0M162.5 223.1h0M223.7 187.2h0M189.9 245.8h0M126.3 243.1h0M194.6 276.7h0M157.8 282.0h0M176.7 230.0h0M217.1 182.8h0M198.4 244.7h0M158.7 269.4h0M161.6 228.9h0M178.2 259.9h0M145.3 224.8h0M167.4 237.3h0M209.7 209.9h0M209.8 221.5h0M175.9 207.7h0M176.2 281.3h0M191.7 262.1h0M157.9 212.5h0M154.6 240.6h0M189.6 261.3h0M127.5 254.9h0M215.8 236.3h0M128.5 210.7h0M123.9 199.2h0M219.6 243.0h0M192.1 261.8h0M218.4 243.3h0M187.7 244.9h0M196.1 241.7h0M194.5 201.5h0M193.0 227.2h0M203.0 189.9h0M142.2 183.2h0M204.2 274.9h0M191.8 217.9h0M209.3 261.6h0M182.0 206.3h0M154.9 223.4h0M156.6 224.3h0M190.4 277.0h0M129.0 238.7h0M127.4 191.7h0M208.0 239.5h0M219.3 226.0h0M124.8 219.8h0M185.2 277.4h0M225.8 229.0h0M166.4 190.0h0M190.7 201.5h0M139.2 180.9h0M123.8 250.8h0M136.0 280.4h0M132.5 270.3h0M136.8 181.2h0M198.5 204.6h0M200.0 198.9h0M128.5 260.3h0M197.9 268.8h0M199.6 188.1h0M189.0 253.5h0M171.4 276.8h0M149.8 280.2h0M198.2 180.5h0M124.8 247.4h0M208.7 187.6h0M155.8 255.6h0M140.6 269.4h0M174.1 185.6h0M161.7 239.4h0M169.1 250.1h0M138.4 262.7h0M161.3 246.8h0M189.1 223.0h0M163.6 261.5h0M222.0 261.4h0M182.5 209.9h0M129.6 281.2h0M196.8 265.8h0M158.0 242.7h0M225.4 266.3h0M186.1 211.6h0M168.1 272.2h0M162.7 250.9h0M186.2 273.0h0M207.7 208.9h0M123.5 206.8h0M167.5 240.7h0M208.6 272.1h0M127.7 266.5h0M208.1 270.0h0M183.1 207.9h0M212.2 263.7h0M194.8 274.9h0M159.5 188.2h0M181.2 262.7h0M144.2 257.8h0M220.7 203.8h0M186.7 250.2h0M171.9 200.9h0M149.9 257.9h0M206.0 227.4h0M132.5 263.7h0M204.0 203.7h0M183.9 273.1h0M215.8 233.9h0M173.1 240.9h0M143.1 199.4h0M142.2 252.6h0M161.2 238.3h0M165.4 233.4h0M138.9 184.0h0M227.5 218.4h0M134.4 245.5h0M205.6 195.6h0M185.7 215.4h0M177.6 181.5h0M126.8 282.9h0M213.8 230.2h0M182.6 206.7h0M204.7 223.9h0M222.2 259.6h0M208.9 280.1h0M149.8 183.3h0M144.3 198.2h0M132.0 184.6h0M181.5 270.4h0M171.2 278.4h0M218.4 186.0h0M185.8 220.9h0M135.8 279.6h0M150.2 238.3h0M190.2 279.3h0M193.3 220.4h0M170.2 196.0h0M224.2 283.0h0M146.5 183.3h0M150.0 216.1h0M217.6 273.9h0M210.8 184.2h0M205.5 253.5h0M190.9 282.4h0M129.1 194.4h0M202.2 277.6h0M194.0 210.6h0M185.1 258.6h0M134.3 213.2h0M150.2 192.3h0M173.6 196.9h0M148.2 194.3h0M194.1 180.6h0M198.3 199.7h0M127.1 276.3h0M146.3 277.0h0M213.9 272.3h0M137.9 226.1h0M133.4 276.5h0M211.3 245.0h0M170.6 214.8h0M209.3 229.3h0M188.9 194.2h0M146.5 185.2h0M197.9 237.2h0M138.4 270.4h0M151.1 222.4h0M139.6 207.7h0M211.0 214.3h0M140.8 230.7h0M156.5 273.8h0M135.2 281.7h0M129.2 272.9h0M193.1 201.4h0M173.2 209.2h0M150.2 200.4h0M161.4 283.0h0M227.6 276.1h0M133.5 209.6h0M217.0 185.3h0M199.2 210.0h0M225.6 181.0h0M207.6 215.0h0M137.9 179.5h0M210.3 234.4h0M142.7 224.8h0M218.6 202.1h0M183.0 193.7h0M142.1 259.9h0M197.7 199.9h0M131.6 188.4h0M186.9 231.1h0M151.9 200.9h0M187.3 253.3h0M208.1 240.3h0M144.4 186.2h0M199.9 222.0h0M198.7 185.1h0M208.0 214.4h0M211.3 269.7h0M174.8 180.9h0M218.4 229.2h0M214.4 207.2h0M142.7 266.3h0M161.7 196.4h0M162.1 241.5h0M123.8 233.7h0M169.9 233.2h0M135.9 254.0h0M208.6 269.8h0M156.8 253.7h0M163.2 257.9h0M129.7 270.6h0M223.0 231.1h0M176.9 234.8h0M179.5 181.5h0M224.4 202.7h0M142.4 190.0h0M149.5 264.8h0M126.4 189.4h0M196.3 199.7h0M125.1 242.0h0M183.5 234.0h0M196.7 190.1h0M214.2 254.3h0M128.0 192.2h0M174.9 231.7h0M152.5 192.1h0M165.7 193.6h0M185.1 269.4h0M138.7 239.2h0M201.3 196.5h0M209.6 277.4h0M163.9 223.3h0M211.1 234.3h0M164.6 277.8h0M204.5 214.7h0M148.4 214.3h0M168.8 281.9h0M207.4 274.8h0M208.5 268.0h0M128.9 233.4h0M223.4 277.0h0M149.4 223.5h0M189.4 217.4h0M178.8 186.5h0M168.6 232.1h0M125.5 193.9h0M224.6 260.5h0M221.2 245.5h0M207.9 271.8h0M215.7 182.9h0M190.3 207.1h0M194.2 207.9h0M180.0 276.0h0M188.2 205.5h0M177.7 224.7h0M222.7 209.4h0M155.2 247.0h0M135.9 241.5h0M223.2 233.0h0M151.3 228.1h0M179.1 194.8h0M136.2 193.0h0M154.0 221.8h0M153.4 204.8h0M132.5 236.4h0M211.1 243.1h0M182.9 247.3h0M144.3 253.6h0M171.5 236.6h0M187.3 228.4h0M155.7 204.6h0M146.5 232.9h0M163.3 240.6h0M124.5 216.2h0M213.4 204.3h0M181.5 230.7h0M153.1 282.6h0M154.2 260.1h0M139.9 186.3h0M214.3 225.3h0M129.8 219.9h0M169.3 256.2h0M134.7 202.9h0M223.5 256.6h0M139.4 214.6h0M160.1 249.9h0M187.7 268.2h0M209.1 233.5h0M200.5 257.0h0M202.7 229.0h0M205.3 253.4h0M218.9 192.6h0M214.3 179.8h0M203.3 240.6h0M175.3 280.0h0M183.1 223.0h0M205.2 270.6h0M186.8 219.0h0M170.6 227.2h0M198.9 209.9h0M164.1 237.4h0M163.5 213.0h0M205.5 268.2h0M175.5 225.7h0M142.6 211.1h0M138.5 239.5h0M184.1 188.5h0M219.5 213.2h0M211.4 267.0h0M223.5 200.7h0M167.9 274.5h0M124.4 184.3h0M182.3 231.3h0M219.5 260.2h0M179.6 283.7h0M177.4 233.4h0M194.9 220.0h0M160.7 241.5h0M160.0 278.5h0M194.0 234.2h0M133.6 218.5h0M165.2 238.0h0M183.3 271.3h0M224.1 230.2h0M169.3 244.6h0M227.4 215.2h0M178.7 264.6h0M141.1 212.6h0M225.5 265.7h0M176.9 190.9h0M216.8 251.5h0M209.0 282.9h0M216.1 223.3h0M139.6 209.6h0M176.8 232.1h0M143.0 198.4h0M189.1 242.4h0M160.2 283.2h0M189.8 183.7h0M166.3 261.7h0M155.4 251.5h0M123.7 211.1h0M211.3 240.6h0M193.1 199.9h0M175.3 237.2h0M151.1 247.0h0M178.8 283.6h0M183.3 222.3h0M136.0 195.7h0M202.7 190.5h0M133.8 197.1h0M177.9 265.4h0M187.4 263.7h0M129.8 180.6h0M203.8 213.1h0M198.1 216.3h0M141.0 207.2h0M133.7 273.8h0M184.1 215.8h0M170.3 219.6h0M129.0 272.5h0M184.2 279.7h0M169.2 244.2h0M149.4 183.9h0M220.6 268.7h0M156.2 273.3h0M208.6 211.1h0M186.3 279.7h0M175.1 278.6h0M148.7 220.1h0M198.4 202.5h0M155.6 270.9h0M173.9 262.2h0M148.7 197.4h0M160.8 198.8h0M224.8 209.7h0M182.0 191.3h0M179.1 219.6h0M165.4 186.1h0M136.2 265.7h0M160.0 204.9h0M143.3 209.0h0M148.1 183.0h0M192.7 215.0h0M139.6 253.1h0M133.0 207.5h0M210.6 192.7h0M169.6 266.8h0M207.4 196.0h0M160.2 254.9h0M162.7 279.5h0M145.0 278.8h0M176.1 203.1h0M170.6 193.0h0M197.1 206.6h0M217.3 240.8h0M161.8 205.1h0M186.9 201.5h0M214.5 192.1h0M176.9 236.1h0M151.6 260.0h0M163.5 248.1h0M182.6 211.8h0M164.0 188.3h0M141.8 268.3h0M156.8 248.6h0M134.7 238.1h0M161.1 231.6h0M154.3 186.2h0M155.8 203.0h0M136.5 254.3h0M152.8 221.5h0M218.3 260.4h0M215.5 269.4h0M137.1 208.2h0M126.4 250.4h0M192.6 216.1h0M166.4 248.2h0M196.4 205.3h0M211.8 216.1h0M189.0 198.3h0M135.3 274.8h0M200.0 253.8h0M127.5 183.5h0M140.2 200.0h0M155.0 219.1h0M127.4 211.8h0M190.0 198.1h0M211.0 238.9h0M198.2 205.9h0M168.8 250.9h0M159.8 179.4h0M210.5 260.5h0M153.2 183.8h0M212.6 242.8h0M128.2 204.9h0M134.9 262.1h0M145.3 275.0h0M201.6 188.3h0M195.9 220.5h0M201.4 266.0h0M152.7 188.7h0M222.2 223.6h0M220.5 251.6h0M200.5 266.1h0M188.9 226.7h0M129.0 252.3h0M168.1 232.8h0M220.3 192.7h0M202.9 183.9h0M196.7 263.6h0M150.6 236.5h0" stroke="#888" stroke-width="0.60" stroke-linecap="round" stroke-opacity="0.55" fill="none"/>
</g>
<clipPath id="cb3"><rect x="15.0" y="179.3" width="103.9" height="104.59999999999997"/></clipPath>
<g clip-path="url(#cb3)">
<path d="M64.6 247.6h0M34.8 248.7h0M57.3 257.5h0M37.0 257.7h0M42.2 260.1h0M39.4 229.0h0M45.8 263.9h0M29.9 250.3h0M57.0 246.2h0M36.1 283.7h0M56.3 268.0h0M32.1 277.4h0M22.4 243.9h0M55.1 272.7h0M32.3 241.7h0M47.7 222.0h0M53.7 260.7h0M38.9 260.4h0M55.6 256.8h0M52.1 275.5h0M38.5 254.5h0M37.9 268.1h0M39.5 259.4h0M46.9 253.0h0M68.3 250.7h0M64.2 264.8h0M62.9 249.4h0M57.6 263.7h0M36.7 256.2h0M43.3 251.4h0M62.6 240.9h0M22.2 225.1h0M38.9 242.0h0M45.2 260.7h0M68.8 256.8h0M51.3 240.7h0M52.8 273.0h0M63.1 221.8h0M57.0 276.4h0M56.2 228.9h0M40.9 261.1h0M50.6 239.5h0M33.0 266.9h0M27.0 274.1h0M45.3 256.6h0M27.0 242.8h0M54.3 229.3h0M72.9 230.4h0M28.5 252.7h0M51.5 263.3h0M40.0 248.8h0M41.8 243.2h0M48.4 254.4h0M36.5 255.9h0M44.8 250.8h0M59.9 225.5h0M48.4 235.6h0M40.7 275.0h0M30.4 250.5h0M37.0 266.6h0M31.8 226.1h0M51.9 246.6h0M40.7 268.6h0M33.1 246.3h0M47.0 258.4h0M38.1 267.9h0M75.1 245.7h0M70.1 219.6h0M63.9 246.7h0M46.8 246.8h0M36.4 232.4h0M39.7 271.9h0M60.3 246.6h0M37.9 241.2h0M28.9 279.7h0M53.9 253.8h0M38.4 236.3h0M62.7 264.0h0M32.2 267.2h0M30.1 261.9h0M32.1 245.6h0M51.7 258.6h0M58.6 239.1h0M66.2 272.7h0M44.9 259.1h0M34.5 249.7h0M27.2 253.4h0M47.7 272.6h0M57.7 264.5h0M40.1 248.5h0M40.4 255.4h0M19.1 263.8h0M23.9 244.1h0M45.3 244.1h0M67.4 250.5h0M66.1 270.0h0M38.3 258.2h0M62.4 246.9h0M46.2 243.4h0M45.8 246.6h0M46.1 267.4h0M63.7 254.0h0M47.7 265.2h0M41.1 235.7h0M59.9 237.6h0M57.5 237.2h0M69.6 236.0h0M56.4 275.0h0M32.1 274.8h0M33.9 224.9h0M54.7 262.8h0M42.3 213.2h0M44.3 247.3h0M39.9 247.6h0M20.9 243.3h0M69.2 275.8h0M40.1 241.1h0M50.3 268.3h0M54.7 234.0h0M47.2 254.2h0M64.3 270.4h0M52.0 270.7h0M39.7 275.6h0M39.3 258.1h0M57.3 238.0h0M35.6 225.0h0M47.2 251.2h0M40.6 259.7h0M16.6 251.6h0M46.2 247.9h0M55.7 278.9h0M39.0 237.6h0M36.9 253.4h0M52.9 238.8h0M58.4 236.3h0M56.1 258.6h0M41.5 249.5h0M51.4 265.3h0M27.0 256.2h0M35.0 261.7h0M63.4 252.8h0M43.6 254.8h0M52.5 254.5h0M39.7 240.8h0M42.6 270.6h0M43.6 272.7h0M48.7 251.8h0M22.7 241.8h0M61.8 232.2h0M31.7 235.1h0M37.6 261.9h0M53.0 220.8h0M64.6 242.9h0M37.1 277.6h0M43.9 233.0h0M36.4 240.8h0M31.4 246.9h0M56.8 257.4h0M31.7 253.8h0M45.4 263.7h0M40.6 259.0h0M73.3 253.5h0M30.5 257.0h0M34.2 246.3h0M47.5 257.2h0M41.2 265.0h0M42.4 232.0h0M56.8 246.4h0M61.3 241.9h0M52.7 256.8h0M30.0 273.6h0M19.6 266.0h0M59.7 259.6h0M54.1 244.4h0M44.9 255.5h0M50.7 262.9h0M42.2 241.2h0M37.4 258.3h0M22.7 232.7h0M39.5 243.5h0M41.4 211.1h0M40.4 248.1h0M55.4 221.6h0M40.9 259.3h0M51.6 270.4h0M59.2 235.9h0M53.6 246.9h0M34.2 275.6h0M36.5 238.9h0M39.5 238.9h0M58.5 257.8h0M63.8 258.3h0M36.7 268.1h0M36.2 244.9h0M42.7 252.6h0M61.1 242.7h0M49.7 251.6h0M28.1 235.1h0M42.0 258.2h0M49.3 259.4h0M45.7 245.1h0M50.7 236.6h0M26.9 246.9h0M25.7 244.1h0M34.9 243.5h0M44.4 239.7h0M39.3 225.6h0M47.0 238.4h0M50.5 208.4h0M34.2 255.7h0M46.3 253.6h0M24.8 255.5h0M47.0 237.0h0M55.1 251.2h0M45.3 245.1h0M52.4 253.5h0M60.4 259.0h0M36.7 248.6h0M57.4 246.4h0M50.2 260.1h0M42.6 216.0h0M46.8 255.3h0M46.8 240.3h0M61.4 249.9h0M36.6 240.9h0M49.9 235.1h0M31.5 282.9h0M62.7 268.3h0M63.5 261.2h0M22.2 270.5h0M61.8 259.6h0M18.5 271.2h0M63.5 244.4h0M46.7 264.0h0M43.8 269.0h0M46.1 262.7h0M46.2 229.1h0M48.8 272.3h0M60.4 278.6h0M52.5 242.8h0M45.3 222.2h0M42.4 266.1h0M15.6 255.1h0M56.2 272.6h0M32.4 241.9h0M19.5 236.2h0M29.4 273.4h0M50.8 244.3h0M74.8 212.8h0M44.1 255.4h0M74.0 279.9h0M75.8 254.1h0M58.3 273.2h0M52.0 257.6h0M42.5 245.7h0M28.3 282.3h0M38.9 219.7h0M48.6 251.5h0M47.4 280.2h0M43.6 247.9h0M34.8 251.7h0M39.0 255.2h0M87.5 258.1h0M33.3 282.0h0M56.8 264.7h0M54.7 264.8h0M54.2 274.0h0M58.7 273.0h0M38.2 252.0h0M35.1 266.9h0M56.3 244.7h0M61.9 234.6h0M43.7 261.9h0M44.5 258.0h0M61.1 257.1h0M30.0 263.1h0M43.7 253.8h0M37.3 230.5h0M28.0 246.5h0M30.4 209.7h0M60.7 233.9h0M35.1 260.3h0M34.5 262.3h0M38.4 256.8h0M46.4 252.0h0M20.1 229.1h0M44.4 274.0h0M37.6 260.3h0M47.2 259.5h0M58.5 228.6h0M48.7 249.2h0M40.7 238.7h0M34.3 236.0h0M68.2 252.2h0M55.1 236.8h0M46.9 274.4h0M44.4 236.4h0M41.7 236.4h0M26.0 248.4h0M39.5 239.3h0M32.9 237.5h0M48.2 273.7h0M22.9 256.3h0M29.2 249.5h0M46.4 260.7h0M60.4 243.3h0M28.1 249.1h0M49.0 241.1h0M57.2 278.3h0M25.6 257.7h0M58.9 222.0h0M47.8 248.5h0M25.6 272.5h0M48.0 244.5h0M51.1 262.0h0M55.5 261.0h0M50.6 233.7h0M39.3 254.0h0M39.8 235.6h0M20.2 255.9h0M45.4 242.9h0M39.3 238.1h0M34.8 250.5h0M36.2 262.6h0M43.1 254.1h0M50.5 271.8h0M53.2 255.6h0M42.8 239.4h0M40.3 262.6h0M48.1 246.0h0M26.8 228.1h0M49.4 268.0h0M50.1 230.6h0M42.1 255.5h0M32.5 257.4h0M42.3 239.0h0M28.1 264.6h0M49.9 238.2h0M31.2 265.9h0M53.1 247.3h0M66.7 247.5h0M30.6 269.0h0M42.4 257.4h0M45.5 236.4h0M28.8 249.0h0M64.2 236.4h0M63.5 255.4h0M29.8 256.2h0M52.7 238.0h0M16.0 257.6h0M29.9 258.9h0M18.9 249.8h0M34.0 228.9h0M41.7 254.7h0M37.4 233.6h0M47.9 224.8h0M52.3 259.6h0M67.8 265.7h0M49.8 256.1h0M45.4 231.4h0M64.9 260.2h0M41.1 234.2h0M65.2 260.3h0M28.9 262.4h0M70.8 251.6h0M50.4 245.5h0M36.4 268.7h0M86.9 253.8h0M43.3 264.3h0M40.9 263.3h0M56.3 236.2h0M30.4 250.8h0M56.3 256.3h0M61.9 230.6h0M51.7 242.3h0M46.4 257.0h0M31.8 248.4h0M29.2 256.1h0M33.4 244.3h0M48.0 241.9h0M60.6 242.1h0M56.5 256.4h0M31.0 248.6h0M33.6 246.4h0M41.3 280.2h0M39.3 276.3h0M51.1 231.7h0M18.0 263.1h0M59.0 258.1h0M42.2 248.1h0M48.5 247.3h0M37.7 246.3h0M60.9 242.4h0M50.1 234.2h0M35.3 230.7h0M42.3 262.6h0M49.1 244.4h0M53.3 246.6h0M50.0 256.2h0M52.3 213.6h0M27.3 264.0h0M41.8 243.5h0M65.2 260.6h0M70.7 259.9h0M42.2 263.2h0M34.3 245.1h0M37.5 248.6h0M55.5 244.6h0M49.4 244.3h0M57.0 209.4h0M42.2 254.6h0M30.4 267.7h0M47.9 271.8h0M58.0 261.9h0M43.0 235.2h0M42.0 244.9h0M48.4 244.8h0M86.3 227.3h0M60.9 244.7h0M41.7 266.3h0M45.0 233.3h0M50.6 249.0h0M17.2 255.1h0M30.7 240.5h0M51.5 256.6h0M50.7 242.5h0M48.2 250.1h0M15.2 227.7h0M26.2 283.9h0M42.5 247.7h0M37.4 267.2h0M45.4 278.3h0M55.7 277.4h0M43.4 257.8h0M39.2 249.4h0M21.6 243.0h0M32.2 241.9h0M61.4 256.0h0M61.5 265.2h0M57.4 267.5h0M36.8 264.4h0M40.7 243.8h0M31.8 278.8h0M56.2 238.9h0M48.7 257.7h0M50.1 246.5h0M27.7 252.5h0M56.6 264.1h0M53.9 269.0h0M31.6 251.3h0M49.6 267.4h0M47.1 260.0h0M15.5 251.6h0M78.4 255.6h0M20.3 254.1h0M25.7 241.5h0M48.0 278.4h0M51.2 262.3h0M58.7 255.1h0M33.4 250.5h0M49.5 247.7h0M36.0 246.5h0M24.8 236.2h0M43.8 246.4h0M45.5 273.6h0M49.0 251.5h0M29.2 235.4h0M50.1 238.6h0M50.8 235.5h0M46.8 250.9h0M58.4 246.0h0M40.0 255.8h0M45.7 278.0h0M41.5 243.7h0M40.7 259.3h0M48.2 262.7h0M69.8 251.5h0M28.7 254.4h0M50.6 217.6h0M45.2 229.2h0M51.2 273.3h0M58.9 228.8h0M63.6 266.0h0M40.1 259.7h0M65.4 246.9h0M44.8 243.4h0M60.6 218.8h0M64.1 237.1h0M57.5 227.0h0M32.4 242.8h0M56.2 227.0h0M53.1 242.2h0M61.7 247.2h0M51.6 249.4h0M69.2 246.5h0M44.7 282.5h0M46.0 262.6h0M35.1 255.1h0M36.3 228.9h0M25.9 269.6h0M50.7 228.7h0M69.4 241.3h0M40.0 255.8h0M29.7 227.1h0M35.0 270.2h0M57.8 227.7h0M61.2 252.5h0M51.7 252.8h0M50.6 236.6h0M32.8 241.2h0M40.0 261.5h0M28.6 276.5h0M36.5 242.9h0M54.5 258.7h0M40.4 235.5h0M31.5 227.4h0M60.4 268.7h0M70.2 259.7h0M49.5 263.7h0M57.8 248.0h0M22.2 230.4h0M32.0 263.6h0M61.0 246.8h0M54.1 251.3h0M49.0 243.7h0M44.6 251.9h0M20.5 260.2h0M44.9 266.9h0M59.3 264.0h0M55.9 237.4h0M22.0 277.7h0M61.3 237.3h0M62.4 262.3h0M31.7 270.0h0M35.8 240.5h0M24.2 248.7h0M58.7 241.7h0M69.9 262.6h0M37.8 233.3h0M22.9 260.6h0M62.5 235.7h0M45.0 247.7h0M41.5 259.7h0M73.2 242.2h0M56.5 268.8h0M41.2 249.7h0M26.9 268.6h0M37.8 241.9h0M45.9 238.8h0M30.9 247.4h0M65.1 248.8h0M52.1 229.4h0M18.7 280.0h0M39.6 228.3h0M43.6 261.4h0M21.7 238.4h0M48.5 237.8h0M55.8 266.8h0M51.0 245.4h0M44.4 242.2h0M43.2 256.9h0M40.9 267.0h0M80.1 243.6h0M49.6 264.7h0M53.7 248.3h0M38.5 267.5h0M53.4 259.8h0M34.1 261.8h0M55.7 249.1h0M19.6 261.4h0M29.2 230.9h0M41.8 260.4h0M45.7 234.0h0" stroke="#555" stroke-width="0.68" stroke-linecap="round" stroke-opacity="0.7" fill="none"/>
<path d="M73.9 240.9h0M92.2 236.4h0M73.1 278.8h0M81.5 247.4h0M85.1 240.4h0M92.5 245.1h0M99.8 230.5h0M73.3 282.1h0M91.1 262.6h0M106.8 259.1h0M92.5 224.4h0M71.9 266.1h0M100.5 259.4h0M71.1 214.9h0M78.7 230.5h0M94.0 233.2h0M111.9 239.7h0M84.9 264.2h0M96.1 235.2h0M102.3 281.7h0M76.5 245.9h0M78.4 218.0h0M99.9 261.5h0M104.3 257.1h0M66.6 249.6h0M83.6 230.6h0M78.0 262.6h0M88.3 282.4h0M97.9 218.5h0M103.3 270.6h0M92.4 230.0h0M114.3 228.3h0M90.9 218.5h0M76.1 221.9h0M105.8 269.5h0M86.9 227.6h0M91.2 256.3h0M72.7 230.8h0M90.7 261.6h0M92.9 257.4h0M76.2 208.8h0M95.9 234.8h0M90.4 243.7h0M98.1 237.2h0M110.3 250.5h0M98.7 260.4h0M105.2 256.7h0M69.8 239.6h0M115.6 257.8h0M99.1 257.8h0M83.9 238.7h0M83.8 269.2h0M96.6 279.6h0M98.3 281.4h0M97.8 230.3h0M114.1 255.6h0M107.2 253.6h0M87.8 252.8h0M77.7 230.1h0M80.7 241.3h0M74.7 248.3h0M95.9 283.8h0M115.5 249.2h0M103.3 246.3h0M97.0 249.4h0M85.1 251.3h0M73.1 257.3h0M88.3 231.9h0M87.4 259.3h0M83.3 257.9h0M99.3 276.1h0M78.1 248.1h0M98.5 275.1h0M95.4 262.6h0M73.2 240.2h0M113.3 245.2h0M88.4 223.3h0M100.1 254.4h0M117.9 252.8h0M88.8 226.4h0M90.9 265.9h0M101.5 270.6h0M103.1 249.2h0M99.8 252.9h0M74.9 278.7h0M96.8 232.4h0M96.9 254.8h0M104.8 274.3h0M52.9 259.3h0M111.7 234.1h0M68.1 254.7h0M96.3 255.9h0M77.7 242.1h0M94.5 262.5h0M84.2 210.3h0M105.8 247.8h0M90.6 233.4h0M101.5 219.8h0M93.4 252.0h0M95.9 272.0h0M90.7 251.6h0M103.0 223.9h0M88.2 251.1h0M104.3 236.5h0M102.4 256.5h0M72.8 225.0h0M73.5 252.4h0M94.7 262.2h0M102.6 240.7h0M105.8 263.8h0M98.1 258.1h0M75.4 256.1h0M78.7 229.9h0M87.5 252.4h0M91.3 244.4h0M79.1 253.2h0M82.4 226.2h0M93.2 274.6h0M86.8 232.1h0M109.9 278.9h0M88.2 246.4h0M93.7 266.8h0M97.7 219.2h0M77.7 229.1h0M97.6 251.8h0M115.2 245.4h0M96.0 251.3h0M95.7 274.9h0M108.8 239.7h0M100.9 243.5h0M93.4 252.7h0M92.3 242.0h0M112.2 245.5h0M101.1 278.4h0M100.1 267.4h0M110.0 268.4h0M114.3 225.8h0M117.4 250.5h0M69.3 239.1h0M73.9 249.6h0M72.7 232.9h0M95.8 252.7h0M81.7 246.0h0M90.7 251.3h0M91.9 246.2h0M103.4 222.8h0M85.6 252.3h0M86.8 240.6h0M86.3 253.5h0M108.2 246.9h0M88.5 256.0h0M88.9 217.2h0M95.5 243.6h0M84.6 260.7h0M92.6 240.4h0M63.7 220.8h0M92.2 248.0h0M97.7 253.8h0M85.8 228.5h0M77.8 247.6h0M77.1 262.8h0M74.8 219.6h0M89.5 219.8h0M113.1 233.1h0M91.3 245.9h0M81.3 220.0h0M67.8 264.7h0M73.0 259.5h0M91.8 264.4h0M85.3 262.3h0M103.6 260.3h0M110.8 247.0h0M112.1 238.1h0M113.7 203.3h0M92.2 236.4h0M92.0 267.5h0M101.3 251.6h0M114.1 224.9h0M81.4 275.7h0M96.3 214.7h0M96.4 229.9h0M111.2 269.4h0M84.9 272.0h0M81.2 265.6h0M99.5 247.8h0M73.5 245.2h0M62.2 240.4h0M67.9 270.7h0M79.4 208.7h0M99.6 256.3h0M102.1 251.1h0M83.6 199.8h0M98.2 266.3h0M84.3 226.0h0M91.5 221.6h0M92.1 263.1h0M111.6 254.5h0M94.6 262.7h0M110.2 244.6h0M76.0 236.5h0M75.6 234.9h0M90.4 255.8h0M94.0 251.2h0M87.4 257.2h0M103.5 262.9h0M111.5 245.1h0M88.7 278.8h0M94.6 257.0h0M87.6 266.5h0M86.8 232.9h0M91.2 242.5h0M102.8 243.6h0M93.6 246.3h0M96.4 239.3h0M106.4 225.8h0M87.0 238.0h0M100.4 250.7h0M98.3 244.4h0M82.7 231.0h0M87.7 240.9h0M95.6 256.0h0M104.7 248.2h0M82.3 232.0h0M92.8 256.1h0M117.3 253.1h0M114.8 281.8h0M78.4 270.6h0M106.8 272.9h0M91.9 266.2h0M85.7 248.8h0M92.2 280.3h0M89.2 266.2h0M92.9 237.9h0M95.2 261.2h0M82.7 260.8h0M82.7 235.1h0M94.9 246.0h0M79.2 222.3h0M92.3 254.1h0M86.0 253.2h0M72.1 256.7h0M97.4 254.7h0M84.0 251.3h0M93.7 268.2h0M95.6 254.3h0M82.6 264.7h0M107.2 241.6h0M100.3 255.2h0M91.4 228.1h0M114.8 218.3h0M95.9 243.6h0M106.9 242.8h0M92.5 260.4h0M97.9 241.2h0M100.8 256.7h0M104.8 241.3h0M91.4 243.4h0M81.1 254.3h0M97.3 274.1h0M87.8 256.6h0M106.8 248.1h0M92.8 252.3h0M83.0 233.2h0M106.5 252.9h0M91.0 228.9h0M93.5 269.9h0M77.1 234.9h0M106.4 274.2h0M112.1 240.6h0M99.8 237.3h0M98.7 243.8h0M94.5 272.7h0M96.4 245.9h0M92.7 254.5h0M85.4 253.5h0M99.8 276.4h0M65.3 229.9h0M76.0 264.8h0M93.6 269.2h0M60.4 247.0h0M51.7 252.6h0M85.4 241.8h0M96.4 240.1h0M106.4 250.0h0M86.2 265.6h0M81.3 271.1h0M104.5 252.4h0M104.8 277.2h0M109.8 250.0h0M91.3 268.7h0M73.0 239.8h0M98.3 259.6h0M116.0 279.7h0M96.2 257.4h0M75.0 246.9h0M95.4 246.2h0M92.8 260.2h0M79.7 240.4h0M69.1 269.3h0M78.4 221.3h0M101.9 246.4h0M104.4 243.8h0M93.9 251.9h0M89.4 263.6h0M117.7 242.9h0M78.0 260.0h0M105.7 224.9h0M83.1 233.3h0M99.2 258.5h0M82.6 231.1h0M100.8 215.5h0M100.3 247.4h0M116.6 266.7h0M84.6 245.4h0M88.4 237.8h0M93.0 266.2h0M72.7 246.2h0M111.1 262.4h0M81.6 236.5h0M81.0 223.1h0M106.7 251.2h0M83.1 226.0h0M87.1 241.4h0M114.0 242.3h0M93.5 267.9h0M100.5 247.0h0M64.1 273.5h0M99.7 242.7h0M90.9 234.0h0M80.5 225.2h0M98.4 258.7h0M94.2 263.0h0M98.9 252.0h0M80.7 259.9h0M107.2 260.5h0M107.9 242.1h0M79.5 270.9h0M84.5 254.1h0M89.6 250.4h0M88.5 241.0h0M69.2 281.8h0M94.6 217.9h0M80.4 231.2h0M82.5 207.5h0M99.3 277.3h0M88.9 262.4h0M99.7 229.2h0M107.5 221.9h0M84.7 244.0h0M108.0 252.0h0M90.4 236.6h0M93.1 250.7h0M101.3 273.2h0M101.4 250.3h0M90.1 276.7h0M94.6 249.7h0M114.9 276.1h0M99.2 248.2h0M83.9 267.8h0M86.2 266.0h0M82.0 251.7h0M97.1 252.4h0M95.0 256.3h0M77.7 231.5h0M90.1 280.0h0M90.4 234.6h0M83.6 250.6h0M107.0 240.6h0M99.1 253.1h0M87.5 234.3h0M90.1 238.0h0M98.8 220.7h0M106.3 262.6h0M99.4 274.9h0M99.7 221.6h0M92.7 257.5h0M83.3 231.2h0M97.5 258.5h0M86.6 246.0h0M85.6 240.6h0M91.3 267.8h0M71.6 244.4h0M112.5 255.3h0M94.0 263.9h0M79.3 229.9h0M71.0 225.8h0M95.2 264.1h0M86.7 238.7h0M97.1 260.2h0M95.3 218.4h0M85.1 208.0h0M95.1 235.9h0M83.7 274.9h0M108.7 258.0h0M95.5 252.9h0M84.6 249.2h0M116.2 235.5h0M83.6 252.7h0M103.3 263.8h0M79.8 247.8h0M88.6 229.6h0M93.0 242.0h0M103.6 257.2h0M82.1 251.3h0M87.5 239.5h0M85.8 267.6h0M86.8 221.7h0M82.2 263.4h0M87.5 244.6h0M74.2 256.6h0M91.4 254.6h0M102.0 263.8h0M84.0 240.2h0M111.7 261.8h0M93.8 231.9h0M103.2 258.7h0M102.2 254.4h0M92.8 240.9h0M95.9 254.0h0M100.2 268.0h0M95.9 241.0h0M102.2 275.7h0M81.5 256.9h0M98.9 258.9h0M98.4 248.5h0M90.7 277.9h0M113.9 226.8h0M59.9 257.2h0M83.5 241.5h0M71.9 255.8h0M91.3 241.1h0M110.6 269.4h0M86.8 260.9h0M91.5 269.1h0M99.4 249.4h0M99.0 238.1h0M102.0 274.9h0M87.4 259.2h0M71.0 265.5h0M103.1 233.1h0M114.0 251.9h0M70.2 227.4h0M103.0 245.5h0M105.9 224.4h0M90.8 266.1h0M83.4 261.2h0M87.5 255.7h0M76.4 262.9h0M108.6 231.4h0M105.3 201.0h0M89.0 221.8h0M95.8 238.0h0M84.9 236.2h0M95.7 242.3h0M80.6 246.3h0M97.1 235.9h0M106.0 222.6h0M97.2 243.6h0M111.9 239.4h0M83.6 227.8h0M117.1 260.2h0M78.3 244.5h0M79.9 275.2h0M97.3 216.4h0M94.7 265.1h0M92.0 257.8h0M90.6 253.5h0M94.7 238.3h0M96.4 252.7h0M91.5 238.7h0M79.2 254.1h0M102.4 210.1h0M85.2 272.4h0M103.6 238.2h0M109.1 233.7h0M82.0 282.0h0M86.5 246.4h0M71.2 233.3h0M77.1 247.7h0M68.8 267.6h0M87.5 240.0h0M84.0 262.3h0M111.4 243.3h0M112.4 276.6h0M109.0 254.9h0" stroke="#555" stroke-width="0.68" stroke-linecap="round" stroke-opacity="0.7" fill="none"/>
<path d="M48,220.8 47,220.9 45.8,220.7 44.8,220.4 43.7,219.8 42.7,219 41.8,218 41.1,217 40.6,215.8 40.3,214.8 40.3,213.8 40.5,212.8 40.9,211.8 41.5,210.9 42.2,210.2 43.2,209.6 44.2,209.2 45.5,208.9 47,208.9 48.2,209 49.5,209.5 50.5,210 51.5,210.9 52.2,211.8 52.7,212.8 52.9,214 52.9,215.3 52.6,216.6 52.1,217.8 51.2,218.9 50.2,219.9 49.2,220.4 48,220.8Z" fill="none" stroke="#222" stroke-width="0.6" stroke-linejoin="round"/>
<path d="M48,222.6 46.8,222.6 45.2,222.3 43.8,221.6 42.5,220.9 41.2,219.8 40.2,218.6 39.4,217.3 38.8,215.8 38.5,214.3 38.5,213 38.9,211.8 39.4,210.8 40.2,209.8 41.2,208.9 42.5,208.1 43.8,207.7 45.2,207.4 47,207.3 48.8,207.6 50.2,208.1 51.8,209 53,210 53.8,211.3 54.4,212.6 54.6,214 54.5,215.8 54.1,217.3 53.2,218.9 52.1,220.3 50.8,221.5 49.5,222.2 48,222.6Z" fill="none" stroke="#222" stroke-width="0.6" stroke-linejoin="round"/>
<path d="M48.5,224.8 47,224.9 45.2,224.6 43.5,223.8 41.5,222.5 39.8,221 38.4,219.6 37.3,217.8 36.6,216 36.3,214.3 36.3,212.8 36.7,211.3 37.3,210 38.2,208.8 39.5,207.6 41,206.7 42.8,206 44.8,205.6 47,205.5 49.2,205.8 51.2,206.5 53.1,207.6 54.6,208.8 55.7,210.3 56.5,212 56.7,213.8 56.6,215.8 56,217.8 55,219.8 53.7,221.6 52,223.2 50.2,224.3 49.2,224.7 48.5,224.8Z" fill="none" stroke="#222" stroke-width="0.6" stroke-linejoin="round"/>
<path d="M49.2,227.9 48.5,228 47.5,228 45.8,227.6 43.5,226.6 41,224.9 38.5,222.8 36.6,220.8 35.2,218.8 34.6,217.6 34.3,216.6 33.9,214.6 33.9,212.6 34.3,210.8 35.2,209 36.3,207.6 38,206.1 39.8,205 41.8,204.2 44.2,203.6 47,203.5 49.8,203.9 52.2,204.7 54.5,205.9 55.5,206.7 56.5,207.6 57.8,209.3 58.3,210.3 58.7,211.3 59.1,213.3 59,215.6 58.5,217.8 57.3,220.3 55.5,222.9 53.2,225.4 51.2,226.9 50.2,227.5 49.2,227.9Z" fill="none" stroke="#222" stroke-width="0.6" stroke-linejoin="round"/>
<path d="M49,233.1 48.2,233.2 47.2,233 46.5,232.7 45.5,232 44,230.8 36.3,223.8 34.5,221.8 33.1,219.8 32.1,217.8 31.5,215.8 31.3,213.6 31.4,212.3 31.5,211.3 31.9,210 32.4,209 33.6,207 35.3,205.3 37.5,203.8 39.8,202.7 42.5,201.9 44,201.6 45.5,201.5 47,201.5 48.8,201.6 50.5,201.9 52,202.4 53.5,202.9 54.8,203.5 56,204.3 57.2,205.2 58.2,206 59.2,207 59.9,208 60.6,209.3 61.1,210.6 61.5,211.8 61.7,214 61.6,215.3 61.4,216.6 60.6,218.8 59.4,221.3 58.3,223 56.9,225 52.5,230.5 50.8,232.2 49.8,232.9 49,233.1Z" fill="none" stroke="#222" stroke-width="0.6" stroke-linejoin="round"/>
<path d="M48.5,240.8 47.5,240.7 46.5,240.3 45.5,239.6 44.8,238.9 43.5,237.2 41,232.8 39.5,230.6 37.8,228.6 33.5,224.3 31.9,222.3 30.7,220.6 29.8,218.8 29.2,217 28.8,215 28.7,213.6 28.8,212.3 29,210.8 29.4,209.6 30,208.3 30.7,207 31.6,205.8 32.5,204.8 33.6,203.8 34.9,202.8 36.2,201.9 37.8,201.2 40.8,200.1 42.5,199.7 44,199.5 45.8,199.4 47.5,199.4 49.2,199.6 51,199.9 52.8,200.4 54.5,201 56,201.7 57.5,202.6 58.8,203.4 60.1,204.6 61.3,205.8 62.2,207 62.9,208.3 63.6,209.8 64,211 64.2,212.6 64.3,214.3 64.1,216 63.6,217.8 62.9,219.8 61.5,222.6 58.3,227.6 57.1,229.6 53.8,236.6 52.5,238.5 51.2,239.8 50,240.5 49.2,240.7 48.5,240.8Z" fill="none" stroke="#222" stroke-width="0.6" stroke-linejoin="round"/>
<path d="M49.8,246.8 48.8,246.9 47.8,246.9 46.8,246.7 46,246.4 45,245.8 44,245.1 43.2,244.3 42.4,243.3 41.5,242 40.6,240.3 38.1,234 36.8,231.6 35,229.3 30.4,224.3 29.2,222.8 28.3,221.3 27.5,219.8 26.9,218.3 26.5,216.8 26.2,215.3 26.1,213.6 26.2,212 26.5,210.6 26.9,209 27.5,207.6 28.2,206.3 29.1,205 30.2,203.7 31.5,202.5 33,201.3 34.5,200.4 36,199.6 37.8,198.8 39.5,198.3 41.5,197.8 43.2,197.5 45.2,197.3 47.2,197.3 49.2,197.5 51.2,197.8 53.2,198.3 55.2,198.9 57,199.7 58.8,200.7 60.5,201.9 61.9,203 63.2,204.3 64.4,205.8 65.3,207.3 66,208.8 66.6,210.6 66.8,212 66.9,213.8 66.8,215.6 66.4,217.6 65.8,219.3 64.6,222 61.2,227.6 60,230 59,232.6 57.3,238 56.2,240.6 54.8,243 53.2,244.9 52.4,245.6 51.5,246.1 50.8,246.5 49.8,246.8Z" fill="none" stroke="#222" stroke-width="0.6" stroke-linejoin="round"/>
<path d="M50.2,252.1 49,252.3 47.5,252.2 46.2,251.9 45,251.4 43.8,250.7 42.5,249.7 41.4,248.6 40.4,247.3 39.1,245.3 37.9,242.8 37,240.3 35.4,235.3 34.4,233 33.7,231.8 32.8,230.6 28.3,225.6 27.1,224 26.1,222.6 25.2,220.8 24.5,219 24,217.3 23.6,215.6 23.5,213.8 23.6,212 23.9,210.3 24.4,208.6 25.1,206.8 25.9,205.3 26.8,204 28.1,202.6 29.5,201.2 31,200 32.8,198.8 34.5,197.9 36.2,197.1 38.2,196.4 40.2,195.9 42.8,195.4 45,195.2 47.2,195.2 49.5,195.3 51.8,195.7 54,196.2 56.2,197 58.2,197.8 60.2,198.9 62,200.1 63.8,201.5 65.3,203 66.6,204.6 67.5,206 68.4,207.8 69.1,209.8 69.5,211.6 69.6,213.3 69.5,215.3 69.2,217.3 68.7,219 68.1,220.6 67.3,222.3 64,228 62.8,230.6 61.9,233 60.1,240 59.4,242 58.7,243.8 57.9,245.3 57,246.8 56,248.1 54.9,249.3 53.8,250.3 52.8,251 51.5,251.7 50.2,252.1Z" fill="none" stroke="#222" stroke-width="0.6" stroke-linejoin="round"/>
<path d="M48.8,257.3 47.2,257.2 45.8,256.9 44.5,256.4 43,255.6 41.5,254.5 40.3,253.3 39,251.8 38,250.3 36.4,247.6 35.1,244.6 34.1,241.6 32.8,236.4 31.9,234 31.2,232.9 30.5,231.8 25.5,226 24.4,224.6 23.4,222.8 22.4,220.8 21.7,218.8 21.2,216.6 20.9,214.6 20.9,212.6 21.2,210.6 21.6,208.8 22.3,206.8 23.2,205 24.3,203.3 25.8,201.6 27.3,200 29,198.6 30.8,197.4 33,196.2 35.2,195.2 37.5,194.4 40,193.7 42.5,193.3 44.8,193 47.2,193 49.8,193.1 52,193.5 54.8,194.1 57,194.9 59.5,196 61.8,197.2 63.8,198.5 65.5,199.9 67.3,201.6 68.7,203.3 69.9,205 70.8,206.8 71.6,208.8 72.1,210.8 72.3,212.6 72.3,214.3 72.2,216 71.8,217.8 71.3,219.6 70.6,221.3 69.9,222.8 66.8,228.3 65.5,230.9 64.7,233.3 63.4,239.6 62.6,242.3 61.6,245.3 60.2,248.3 59,250.3 57.8,252 56.5,253.5 55,254.9 53.5,255.9 52,256.6 50.2,257.1 48.8,257.3Z" fill="none" stroke="#222" stroke-width="0.6" stroke-linejoin="round"/>
<path d="M87.5,242.6 86.2,242.5 85.2,242.2 84.2,241.6 83.2,240.7 82.4,239.6 81.5,238 80.7,236.3 80.1,234.3 79.3,230.6 78.5,223 78,220.2 77.2,217.5 75.1,211.8 74.7,210 74.4,208.3 74.2,205.8 74.3,203 74.6,200.6 75.2,198.3 75.9,196.6 76.8,195 77.8,193.8 79.2,192.4 80.8,191.3 82.5,190.2 84.8,189.1 86.8,188.4 88.8,187.9 90.8,187.6 93,187.4 95.5,187.4 98.2,187.6 100.5,187.9 102.8,188.4 105.2,189.2 108,190.2 110.5,191.5 112.5,192.9 114,194.3 114.5,195 115.1,196 115.7,197.6 115.8,199.3 115.5,201 114.7,202.8 112.4,206.8 110.5,212.3 109.7,214 108.8,215.6 107.2,217.6 105.2,219.4 103,221 98.8,223.5 97.8,224.3 97.1,225 96.4,226 95.8,227.6 93.8,234.8 93.1,236.8 92.4,238.3 91.3,240 90.1,241.3 88.8,242.2 87.5,242.6Z" fill="none" stroke="#222" stroke-width="0.55" stroke-linejoin="round"/>
<path d="M87.5,239.3 86.5,239.3 85.5,239 84.5,238.3 83.8,237.6 83,236.5 82.4,235.3 81.8,233.8 81.3,232 80.7,228.6 80.1,221.8 79.8,219 79.2,216.6 77.4,210.8 76.8,207.8 76.7,205 76.7,201.6 76.9,199.6 77.5,197.6 78.2,196 79.1,194.8 80.2,193.6 81.5,192.6 83,191.6 84.8,190.7 86.8,189.9 88.8,189.4 90.8,189 93,188.7 95.2,188.6 97.5,188.7 99.8,188.9 102.2,189.4 104.5,190 106.5,190.6 108.8,191.7 110.5,192.7 112,193.9 113.2,195.3 113.9,196.6 114.3,198 114.3,199.6 114,201 112.9,203 110,207 109.3,208.3 107.6,212.6 106.7,214 105.8,215.4 104.5,216.7 103.2,217.8 101.5,219 97.2,221.5 96.2,222.4 95.5,223.3 94.9,224.3 94.3,225.8 92.7,232.6 92.1,234.3 91.5,235.6 90.6,237 89.8,238.1 88.8,238.9 87.5,239.3Z" fill="none" stroke="#222" stroke-width="0.55" stroke-linejoin="round"/>
<path d="M87.8,235.9 87,236 86.2,235.9 85.5,235.5 84.8,234.8 84,233.8 83.5,232.8 83.1,231.6 82.7,230 82.2,226.8 81.9,220.8 81.6,218.3 81.1,215.8 79.6,210.3 79.1,207 78.6,202.3 78.6,200.6 78.8,198.8 79.3,197.3 79.9,196 80.6,195 81.8,193.9 83,192.9 84.8,191.9 86.2,191.2 88,190.6 90,190.1 92.2,189.7 94.2,189.5 96.2,189.5 98.5,189.6 100.8,189.9 103,190.4 105,191 106.8,191.6 108.5,192.5 110.1,193.6 111.3,194.6 112.3,195.8 112.9,197 113.2,198.3 113.1,199.6 112.7,201 112.1,202 111.4,203 108.5,206.3 107.5,207.6 106.7,208.8 105,212.3 104.1,213.6 103.3,214.6 102,215.8 100.8,216.7 95.8,219.7 94.8,220.6 94.2,221.3 93.4,222.6 92.9,224 91.5,230 90.6,232.6 90,233.8 89.2,234.8 88.5,235.5 87.8,235.9Z" fill="none" stroke="#222" stroke-width="0.55" stroke-linejoin="round"/>
<path d="M88.8,217.6 88,217.6 87.2,217.1 86.5,216 85.8,214.4 84.6,211.6 83.3,206.3 81.6,201.6 81.4,199.8 81.5,198.3 82.1,196.8 83,195.5 83.9,194.6 85,193.7 86.5,192.9 88,192.2 89.8,191.6 91.5,191.2 93.5,190.9 95.2,190.8 97.2,190.8 99.2,191 101,191.2 103,191.7 104.8,192.2 106.5,193 107.8,193.7 109,194.6 109.9,195.6 110.6,196.6 111,197.6 111.1,198.6 111,199.6 110.7,200.6 110.2,201.6 109.4,202.6 107.8,204.1 104.1,206.8 102.8,207.8 101.8,208.8 99.7,211.3 98,212.8 95.8,214.2 92.4,215.8 89.8,217.2 88.8,217.6Z" fill="none" stroke="#222" stroke-width="0.55" stroke-linejoin="round"/>
<path d="M93,210.1 92,210.1 91,210 90,209.6 89.2,209.1 88.2,208.1 85.5,204.7 84.5,203.4 83.8,202.3 83.4,201.3 83.1,200.3 83,199.3 83,198.6 83.3,197.6 83.7,196.8 84.2,196 84.9,195.3 85.8,194.5 87,193.7 88.2,193.1 90,192.5 91.5,192.1 93.2,191.8 95,191.6 96.8,191.6 98.5,191.7 100.2,191.9 101.8,192.2 103.5,192.7 105,193.2 106.2,193.9 107.5,194.7 108.4,195.6 109,196.3 109.5,197.3 109.8,198.3 109.8,199 109.6,199.8 109.2,200.8 108.5,201.8 107.8,202.6 105.8,204.1 103,205.7 95.5,209.3 94.2,209.8 93,210.1Z" fill="none" stroke="#222" stroke-width="0.55" stroke-linejoin="round"/>
<path d="M94.8,206.8 93.5,206.8 92.2,206.7 91,206.4 89.8,205.9 88.5,205.2 87.2,204.3 86.2,203.4 85.3,202.3 84.7,201.3 84.4,200.3 84.2,199.3 84.2,198.6 84.4,197.8 84.9,196.8 85.4,196 86.2,195.2 87.2,194.6 88.2,193.9 89.5,193.4 91,192.9 94,192.3 95.8,192.2 97.5,192.2 99.2,192.3 101,192.6 103.8,193.4 105,194 106,194.6 107,195.3 107.7,196 108.3,196.8 108.6,197.6 108.8,198.6 108.7,199.3 108.4,200.3 107.9,201 107.3,201.8 106.5,202.6 105.5,203.3 104.2,204 101.2,205.4 97.8,206.4 96.2,206.7 94.8,206.8Z" fill="none" stroke="#222" stroke-width="0.55" stroke-linejoin="round"/>
<path d="M97,205.6 94.2,205.7 91.8,205.3 89.5,204.4 88.2,203.7 87.4,203 86.5,202.2 85.9,201.3 85.4,200.3 85.2,199.6 85.2,198.6 85.4,197.8 85.7,197 86.2,196.3 87,195.6 88,194.8 89,194.2 90.2,193.7 93,193 96,192.7 97.8,192.7 99.2,192.8 100.8,193.1 102.2,193.5 103.5,193.9 104.8,194.5 105.8,195.1 106.6,195.8 107.5,197 107.8,197.8 107.9,198.6 107.8,199.3 107.6,200 107.2,200.8 106.6,201.6 105.7,202.3 104.8,203 102.5,204.1 100,205 97,205.6Z" fill="none" stroke="#222" stroke-width="0.55" stroke-linejoin="round"/>
<path d="M97.5,204.8 95,204.9 92.5,204.6 90.2,203.9 89.2,203.4 88.2,202.7 87.5,202 86.8,201.3 86.4,200.6 86.1,199.8 86,198.8 86.1,198 86.4,197.3 86.9,196.6 87.6,195.8 88.5,195.1 90.5,194.1 93,193.4 95.8,193.1 98.8,193.2 101.5,193.7 102.8,194.1 104,194.7 105,195.3 105.7,195.8 106.2,196.4 106.7,197 107,197.8 107.2,198.6 106.9,199.8 106.5,200.6 106,201.2 104.5,202.5 102.5,203.5 100,204.4 97.5,204.8Z" fill="none" stroke="#222" stroke-width="0.55" stroke-linejoin="round"/>
<path d="M97.2,204.3 94.8,204.3 92.5,204 90.5,203.3 88.8,202.3 87.5,201 87.1,200.3 86.8,199.6 86.8,198.8 86.9,198 87.2,197.3 87.5,196.8 88.2,196 89,195.4 90,194.9 91,194.4 93.5,193.7 96.2,193.4 99.2,193.6 101.8,194.2 103.8,195 104.8,195.7 105.4,196.3 105.8,196.8 106.3,197.6 106.4,198 106.5,198.8 106.3,199.6 106.1,200 105.6,200.8 105.2,201.3 103.8,202.4 101.8,203.3 99.5,204 97.2,204.3Z" fill="none" stroke="#222" stroke-width="0.55" stroke-linejoin="round"/>
<path d="M97.8,203.8 95.5,203.9 93.2,203.6 91.2,203 89.5,202.1 88.8,201.5 88.1,200.8 87.8,200.3 87.5,199.6 87.4,198.8 87.5,198.3 87.8,197.6 88,197 88.7,196.3 89.3,195.8 91,194.9 93.2,194.2 95.8,193.8 98.2,193.9 100.8,194.3 102.9,195 104.4,196 105.3,197 105.6,197.6 105.8,198.3 105.8,198.8 105.7,199.6 105.3,200.3 104.9,200.8 103.8,201.8 102,202.7 100,203.4 97.8,203.8Z" fill="none" stroke="#222" stroke-width="0.55" stroke-linejoin="round"/>
<path d="M98.5,203.3 96.2,203.5 94,203.3 92,202.8 90.3,202 89.1,201 88.7,200.6 88.3,199.8 88.1,199.3 88.1,198.6 88.3,197.8 88.5,197.3 89.5,196.2 91,195.3 92.8,194.6 95,194.2 97.2,194.1 99.5,194.4 101.5,194.9 103.2,195.7 104.5,196.8 105.1,197.8 105.2,198.3 105.2,199 104.8,200 104,201 102.5,202.1 100.5,202.9 98.5,203.3Z" fill="none" stroke="#222" stroke-width="0.55" stroke-linejoin="round"/>
<path d="M97.5,203.1 95.5,203.1 93.8,202.9 92,202.4 90.4,201.6 89.4,200.6 88.8,199.6 88.7,198.8 88.7,198.3 89.2,197.3 90.1,196.3 91.8,195.4 93.8,194.7 96,194.4 98.2,194.5 100.5,194.9 102.2,195.6 103.6,196.6 104.4,197.6 104.7,198.6 104.5,199.6 103.8,200.6 102.8,201.4 101.2,202.2 99.5,202.8 97.5,203.1Z" fill="none" stroke="#222" stroke-width="0.55" stroke-linejoin="round"/>
<path d="M98.8,202.6 96.8,202.8 94.8,202.7 93,202.3 91.5,201.7 90.3,200.8 89.5,199.8 89.3,199.3 89.3,198.6 89.6,197.6 90.5,196.6 91.7,195.8 93.2,195.2 95,194.8 97,194.7 98.8,194.9 100.5,195.3 102,195.9 103,196.6 103.8,197.6 104.1,198.6 103.9,199.6 103.2,200.6 102,201.4 100.5,202.1 98.8,202.6Z" fill="none" stroke="#222" stroke-width="0.55" stroke-linejoin="round"/>
<path d="M98.2,202.3 96.5,202.4 94.8,202.3 93,201.9 91.7,201.3 90.7,200.6 90,199.6 89.9,198.6 90.2,197.6 91,196.7 92.2,195.9 93.8,195.4 95.5,195.1 97.2,195 99,195.2 100.5,195.6 102,196.3 102.9,197 103.3,197.6 103.5,198 103.6,198.6 103.5,199 103.2,199.8 102.5,200.6 101.2,201.4 99.8,202 98.2,202.3Z" fill="none" stroke="#222" stroke-width="0.55" stroke-linejoin="round"/>
<path d="M97.5,202.1 95.8,202.1 94.2,201.9 93,201.5 91.8,200.8 90.9,200 90.5,199.3 90.4,198.8 90.5,198.3 90.8,197.6 91.5,196.8 92.8,196 94.5,195.5 96.2,195.3 98,195.4 99.8,195.7 101.2,196.3 102.3,197 102.8,197.8 103,198.6 102.9,199.3 102.2,200.2 101.5,200.8 100.2,201.5 99,201.8 97.5,202.1Z" fill="none" stroke="#222" stroke-width="0.55" stroke-linejoin="round"/>
<path d="M98.5,201.6 97,201.8 95.5,201.7 94,201.4 92.8,200.9 91.8,200.3 91.2,199.6 91,199 91,198.6 91.2,197.8 91.9,197 92.8,196.5 93.8,196 95.2,195.7 96.8,195.6 98.2,195.7 99.5,196 100.8,196.5 101.7,197 102.3,197.8 102.5,198.6 102.3,199.3 101.8,200 101,200.7 99.8,201.3 98.5,201.6Z" fill="none" stroke="#222" stroke-width="0.55" stroke-linejoin="round"/>
<path d="M98.2,201.3 96.8,201.4 95.5,201.4 94.2,201.1 93.2,200.8 92.5,200.3 91.8,199.6 91.6,198.8 91.7,198 92.2,197.3 93,196.8 94,196.3 95.2,196 96.5,195.9 98,196 99.2,196.2 100.2,196.6 101,197.1 101.7,197.8 101.9,198.6 101.7,199.3 101.2,200 100.5,200.6 99.5,201 98.2,201.3Z" fill="none" stroke="#222" stroke-width="0.55" stroke-linejoin="round"/>
<path d="M97.5,201.1 96.2,201.1 95.2,201 94.2,200.7 93.2,200.3 92.7,199.8 92.2,199 92.2,198.3 92.5,197.8 93,197.3 94,196.7 95,196.4 96.2,196.2 97.5,196.2 98.8,196.5 99.8,196.8 100.6,197.3 101,197.8 101.3,198.3 101.2,199 101,199.6 100.5,200 99.6,200.6 98.5,200.9 97.5,201.1Z" fill="none" stroke="#222" stroke-width="0.55" stroke-linejoin="round"/>
<path d="M98.2,200.6 97.2,200.7 96.2,200.7 95.2,200.6 94.2,200.3 93.5,199.8 93,199.3 92.9,198.8 93,198 93.4,197.6 94,197.2 94.8,196.9 95.8,196.6 97.5,196.6 98.5,196.8 99.3,197 100.1,197.6 100.5,198 100.7,198.6 100.6,199 100.3,199.6 99.8,200 99.1,200.3 98.2,200.6Z" fill="none" stroke="#222" stroke-width="0.55" stroke-linejoin="round"/>
<path d="M97.5,200.3 96.5,200.3 95.8,200.3 95,200.1 94.4,199.8 94,199.5 93.7,199 93.6,198.6 93.8,198 94.2,197.6 94.8,197.3 96.2,197 97.9,197 98.8,197.3 99.2,197.6 99.6,197.8 99.9,198.3 99.9,198.8 99.8,199.2 99,199.8 98.2,200.1 97.5,200.3Z" fill="none" stroke="#222" stroke-width="0.55" stroke-linejoin="round"/>
<path d="M97.5,199.8 96.2,199.8 95.2,199.6 94.6,199 94.5,198.8 94.6,198.3 95.1,197.8 96.2,197.4 97.5,197.5 98.5,197.8 99,198.3 99.1,198.6 99,198.9 98.5,199.4 97.5,199.8Z" fill="none" stroke="#222" stroke-width="0.55" stroke-linejoin="round"/>
<path d="M97,199.1 96.2,199 96,198.8 96,198.6 96.2,198.3 96.5,198.2 97.3,198.3 97.6,198.6 97.6,198.8 97,199.1Z" fill="none" stroke="#222" stroke-width="0.55" stroke-linejoin="round"/>
<path d="M85.5,262.8 84.8,262.9 83.8,262.9 82.8,262.5 82,262 81.5,261.6 80.9,260.8 80.5,260 80.2,259 80.2,258 80.3,257 80.5,256.3 81,255.4 81.5,254.8 82.2,254.2 83,253.8 84,253.5 85,253.5 85.8,253.6 86.5,253.9 87.2,254.4 87.9,255 88.4,255.8 88.8,256.6 89,257.3 89,258.3 89,259 88.7,260 88.3,260.8 87.7,261.6 87,262.2 86.2,262.6 85.5,262.8Z" fill="none" stroke="#222" stroke-width="0.6" stroke-linejoin="round"/>
<path d="M84.5,261.3 83.5,261 83,260.8 82.5,260.3 81.9,259.3 81.7,258 82,256.8 82.8,255.8 83.8,255.2 84.8,255.1 85.8,255.4 86.2,255.6 86.8,256.1 87.3,257 87.5,258.3 87.2,259.6 86.5,260.5 85.5,261.1 84.5,261.3Z" fill="none" stroke="#222" stroke-width="0.6" stroke-linejoin="round"/>
</g>
<clipPath id="cb4"><rect x="123.3" y="179.3" width="104.50000000000001" height="104.59999999999997"/></clipPath>
<g clip-path="url(#cb4)">
<path d="M131.7 250.4h0M146.4 240.2h0M126.3 230.0h0M155.2 216.0h0M156.0 271.8h0M155.1 221.3h0M184.5 189.9h0M139.5 244.7h0M143.9 186.9h0M155.5 253.8h0M141.2 267.4h0M158.8 261.5h0M131.2 235.9h0M173.8 279.2h0M170.0 236.0h0M154.5 222.6h0M167.0 221.1h0M153.7 191.8h0M131.5 274.1h0M152.8 240.6h0M180.3 203.9h0M144.7 231.5h0M134.8 206.9h0M135.1 249.8h0M151.4 253.7h0M137.3 248.7h0M146.0 237.9h0M164.8 236.7h0M147.2 200.2h0M152.9 252.8h0M143.4 234.6h0M127.8 207.3h0M157.5 263.9h0M147.8 200.0h0M146.8 202.3h0M148.2 277.6h0M156.1 232.7h0M166.2 227.8h0M156.6 240.3h0M158.1 204.3h0M161.7 255.0h0M139.7 268.2h0M152.3 250.6h0M159.6 255.2h0M143.2 223.4h0M157.2 249.1h0M159.9 243.3h0M145.3 259.9h0M158.5 259.0h0M142.9 238.6h0M145.4 229.3h0M154.7 243.5h0M141.0 181.2h0M141.2 247.7h0M140.4 245.3h0M146.9 215.6h0M168.1 271.9h0M150.6 234.9h0M165.2 207.2h0M140.0 260.6h0M164.4 225.3h0M141.3 243.6h0M132.5 225.2h0M148.8 182.5h0M160.2 252.6h0M166.8 204.7h0M134.2 218.3h0M133.9 280.7h0M138.5 229.2h0M154.9 245.9h0M172.1 212.3h0M164.2 239.3h0M135.8 239.3h0M132.6 271.3h0M141.9 257.9h0M170.1 222.5h0M139.5 238.9h0M137.4 255.6h0M154.4 219.3h0M142.5 251.8h0M131.9 272.9h0M141.1 231.7h0M139.1 271.5h0M163.5 264.5h0M161.1 238.0h0M175.6 250.5h0M158.1 248.6h0M162.2 242.1h0M149.7 201.1h0M180.7 207.5h0M179.0 262.7h0M143.6 241.8h0M151.7 192.5h0M147.3 242.4h0M168.4 209.6h0M156.6 237.8h0M154.1 239.2h0M146.9 206.0h0M158.3 244.5h0M160.1 263.4h0M134.7 184.6h0M127.1 283.0h0M139.2 244.8h0M151.8 252.0h0M196.9 224.6h0M149.6 222.9h0M155.4 247.4h0M138.4 265.0h0M168.0 245.8h0M150.5 230.8h0M129.0 250.4h0M138.4 225.0h0M165.9 215.8h0M144.7 254.9h0M178.0 220.8h0M167.4 221.6h0M157.4 246.6h0M136.1 258.6h0M177.2 237.1h0M155.8 210.2h0M177.0 237.4h0M134.1 252.8h0M131.5 220.9h0M182.9 222.0h0M142.9 223.3h0M144.1 248.2h0M172.4 213.8h0M158.2 196.3h0M173.3 234.1h0M142.2 269.7h0M150.5 266.1h0M167.0 272.5h0M140.8 237.2h0M157.2 231.7h0M173.3 220.3h0M166.0 266.0h0M124.7 214.7h0M139.3 224.0h0M157.5 232.2h0M153.1 225.9h0M150.9 246.7h0M162.4 218.8h0M150.4 219.2h0M149.5 204.4h0M165.4 250.8h0M150.3 221.0h0M145.6 221.4h0M130.4 271.9h0M198.1 209.0h0M135.7 248.7h0M160.5 201.4h0M125.1 247.9h0M124.1 267.3h0M145.1 237.9h0M152.0 223.7h0M150.0 229.4h0M169.4 234.0h0M151.6 224.4h0M143.1 219.8h0M152.1 276.4h0M167.6 241.2h0M175.4 258.3h0M154.9 232.4h0M136.6 241.5h0M147.6 201.1h0M134.0 278.6h0M155.0 247.0h0M154.8 225.8h0M158.5 259.8h0M147.7 247.3h0M166.4 225.4h0M154.4 219.7h0M160.4 227.9h0M168.0 219.2h0M175.6 229.2h0M140.2 216.1h0M161.3 217.2h0M177.3 264.2h0M159.3 204.7h0M151.7 220.0h0M126.6 245.4h0M182.8 224.2h0M163.3 264.2h0M138.5 228.5h0M155.8 246.4h0M136.0 240.8h0M150.5 256.9h0M129.6 223.6h0M145.0 229.0h0M162.1 222.2h0M190.3 220.4h0M163.8 258.4h0M165.5 231.5h0M140.4 230.4h0M161.3 238.7h0M160.1 248.6h0M139.6 215.4h0M172.2 225.3h0M129.8 276.9h0M140.3 215.5h0M165.5 211.1h0M139.8 259.1h0M153.8 237.2h0M143.0 231.1h0M145.0 235.5h0M162.8 208.0h0M139.1 189.9h0M173.1 234.4h0M151.8 234.7h0M166.1 243.1h0M163.9 232.3h0M150.3 234.8h0M125.9 260.0h0M129.9 214.1h0M161.4 237.2h0M163.4 273.5h0M178.1 266.4h0M148.8 281.1h0M139.7 234.1h0M166.0 231.3h0M150.3 228.2h0M171.1 181.7h0M169.8 259.3h0M151.0 248.3h0M138.4 260.4h0M194.8 215.8h0M171.5 234.8h0M147.3 225.3h0M149.3 208.5h0M133.0 272.6h0M151.8 248.2h0M156.3 246.5h0M130.6 215.1h0M160.9 258.0h0M136.0 223.3h0M137.0 250.4h0M156.8 236.7h0M142.9 243.6h0M152.4 219.6h0M156.7 221.4h0M165.3 249.8h0M142.4 248.9h0M152.9 220.5h0M139.2 199.4h0M136.2 243.6h0M168.9 222.2h0M154.2 243.6h0M162.9 245.7h0M169.2 252.9h0M141.3 244.7h0M152.3 248.7h0M147.8 254.3h0M170.5 217.5h0M144.4 241.7h0M158.9 239.2h0M163.6 210.0h0M162.9 261.7h0M167.5 245.4h0M148.7 244.8h0M151.0 201.1h0M143.5 235.1h0M144.8 215.5h0M148.8 227.8h0M153.0 234.9h0M154.4 257.9h0M153.9 244.9h0M146.4 250.9h0M147.3 222.3h0M134.6 255.6h0M144.6 241.4h0M167.8 247.8h0M183.4 233.1h0M165.4 251.3h0M142.8 237.0h0M144.1 213.5h0M156.2 219.0h0M175.5 219.7h0M144.4 238.0h0M144.7 237.2h0M143.5 204.7h0M173.3 245.8h0M154.2 225.8h0M150.0 242.6h0M132.5 218.4h0M139.5 263.7h0M137.2 261.8h0M150.9 236.7h0M170.9 255.2h0M165.1 212.5h0M167.9 273.0h0M150.6 225.4h0M136.7 258.4h0M156.1 236.1h0M134.7 271.7h0M164.3 235.6h0M172.7 215.1h0M164.3 214.0h0M171.8 229.9h0M169.1 226.9h0M157.6 261.1h0M139.4 238.1h0M140.3 254.7h0M143.5 227.8h0M149.2 261.6h0M137.4 235.4h0M147.4 223.9h0M141.0 232.5h0M154.7 202.0h0M155.3 209.9h0M138.5 234.5h0M148.4 257.6h0M145.4 196.7h0M129.4 239.9h0M155.5 259.5h0M144.5 250.7h0M137.1 264.5h0M151.0 221.1h0M154.5 274.3h0M140.1 208.7h0M137.8 210.6h0M151.3 243.7h0M149.7 240.3h0M168.6 229.7h0M134.5 185.7h0M155.4 221.0h0M148.5 245.0h0M158.5 201.5h0M138.6 237.6h0M150.0 261.2h0M145.0 190.6h0M168.4 200.0h0M138.4 244.6h0M155.3 247.8h0M159.6 220.2h0M169.6 198.8h0M143.8 242.3h0M153.9 214.9h0M174.1 268.4h0M138.9 244.2h0M143.1 226.5h0M165.8 238.8h0M150.5 238.3h0M135.6 262.9h0M141.5 264.8h0M145.6 226.0h0M172.8 240.2h0M143.0 224.2h0M160.5 277.2h0M160.6 227.3h0M136.3 221.2h0M150.3 241.4h0M142.8 264.2h0M138.6 220.3h0M159.0 246.6h0M146.5 257.2h0M132.3 271.9h0M182.6 279.0h0M153.7 279.3h0M152.8 265.2h0M149.2 240.3h0M159.3 197.6h0M149.1 273.8h0M164.9 243.2h0M154.7 266.5h0M156.7 194.4h0M138.8 229.5h0M154.0 226.2h0M150.5 272.7h0M165.1 249.2h0M152.2 237.4h0M157.1 241.3h0M141.9 253.2h0M140.4 235.1h0M147.0 210.7h0M160.5 234.5h0M135.7 234.3h0M132.7 267.5h0M159.2 279.6h0M144.1 251.5h0M138.5 217.3h0M150.8 245.0h0M164.9 230.1h0M167.4 257.2h0M139.8 232.1h0M139.2 273.4h0M144.3 255.4h0M164.8 230.4h0M145.2 243.6h0M141.2 208.3h0M138.5 243.4h0M154.7 274.6h0M126.5 247.0h0M135.9 261.3h0M161.7 238.8h0M172.6 227.8h0M144.6 213.0h0M142.9 238.5h0M161.4 264.0h0M148.3 220.0h0M147.3 226.6h0M145.5 227.2h0M139.9 234.9h0M144.9 232.3h0M132.7 239.2h0M160.0 250.2h0M144.4 211.1h0M133.9 210.4h0M143.1 229.2h0M127.3 250.6h0M130.6 221.0h0M142.0 254.1h0M177.6 228.3h0M148.2 227.4h0M149.2 232.3h0M186.3 212.3h0M150.5 218.8h0M157.0 224.7h0M160.0 212.4h0M181.3 240.6h0M127.5 251.2h0M145.5 210.9h0M158.1 224.7h0M162.2 224.1h0M164.5 239.2h0M157.0 239.4h0M146.9 228.1h0M158.3 251.4h0M175.4 211.1h0M167.0 234.5h0M155.2 218.9h0M174.9 218.1h0M150.9 220.3h0M178.7 263.2h0M133.8 226.3h0M157.0 226.7h0M147.1 212.7h0M155.5 212.3h0M147.5 271.7h0M157.2 221.5h0M147.2 215.2h0M153.6 251.2h0M164.9 230.0h0M135.5 234.4h0M175.1 242.1h0M151.1 191.1h0M146.0 247.8h0M138.9 265.2h0M144.2 217.2h0M144.0 234.0h0M165.8 223.8h0M127.4 234.3h0M159.2 269.4h0M136.5 268.1h0M161.3 245.9h0M141.4 217.0h0M138.8 256.2h0M155.0 259.1h0M177.1 236.5h0M151.3 277.5h0M134.0 226.4h0M146.9 227.9h0M154.0 218.0h0M168.0 206.7h0M140.8 199.6h0M132.7 248.8h0M160.7 231.8h0M163.6 249.4h0M144.1 235.2h0M157.1 279.4h0M145.9 244.1h0M159.5 262.4h0M157.9 259.2h0M137.4 230.4h0M125.3 235.0h0M184.1 241.3h0M153.2 241.8h0M154.0 207.6h0M142.5 232.4h0M154.3 217.5h0M150.5 220.3h0M133.8 221.9h0M140.9 254.2h0M170.4 248.6h0M149.1 224.2h0M130.4 224.8h0M173.5 260.9h0M155.1 230.8h0M152.1 245.2h0M151.9 245.3h0M141.4 237.1h0M147.2 259.3h0M134.9 264.0h0M150.8 225.3h0M152.3 238.8h0M148.8 245.2h0M144.1 199.8h0M161.6 235.6h0M174.9 244.4h0M124.5 262.8h0M142.5 247.9h0M182.5 259.6h0M137.0 234.2h0M129.9 250.5h0M159.7 214.1h0M158.2 256.2h0M163.1 221.8h0M142.5 212.1h0M134.2 242.9h0M152.5 264.1h0M155.8 229.3h0M132.4 269.3h0M154.3 235.5h0M138.2 213.7h0M160.7 215.3h0M160.0 249.6h0M146.8 201.5h0M157.7 266.3h0M140.7 209.2h0M167.0 239.3h0M143.4 262.4h0M148.2 245.9h0M146.5 220.1h0M155.0 217.8h0M127.6 224.6h0M169.0 259.7h0M181.9 257.4h0M174.2 241.6h0M146.0 246.2h0M139.0 251.9h0M145.8 241.7h0M140.3 233.3h0M165.5 231.6h0M142.7 242.3h0M164.1 232.2h0M135.9 202.9h0M133.6 259.0h0M150.8 246.4h0M166.8 242.3h0M158.6 225.4h0M129.9 249.6h0M150.7 248.5h0M137.4 233.2h0M179.7 218.3h0M153.3 264.1h0M148.8 238.9h0M145.9 263.6h0M150.8 228.3h0M158.0 231.1h0M144.9 269.1h0M165.5 238.6h0M163.1 253.8h0M160.0 237.2h0M153.0 244.9h0M159.8 243.8h0M144.4 234.7h0M158.3 215.4h0M151.9 252.3h0M154.3 230.2h0M151.7 226.0h0M165.5 228.3h0M129.2 210.7h0M156.1 240.7h0M145.5 208.5h0M150.0 218.5h0M143.0 236.3h0M141.5 242.9h0M141.9 226.5h0M148.9 267.2h0M173.6 256.2h0M141.9 236.4h0M164.5 253.3h0M129.7 235.1h0M141.9 252.2h0M160.7 225.0h0M181.4 230.5h0M185.5 232.8h0M150.8 276.3h0M144.8 226.4h0M172.2 235.5h0M158.6 209.8h0M176.5 257.0h0M156.9 251.2h0M145.1 226.4h0M130.5 244.1h0M169.0 254.3h0M164.6 251.3h0M139.4 208.9h0M160.8 239.8h0M165.5 230.6h0M139.9 245.7h0M144.4 201.9h0M143.7 217.9h0M136.7 224.8h0M175.7 227.6h0M167.7 234.8h0M157.5 222.2h0M151.0 201.2h0M176.6 220.3h0M160.0 224.1h0M155.7 211.7h0M146.9 255.5h0M160.1 195.7h0M163.7 208.9h0M155.9 247.2h0M143.2 229.7h0M148.6 244.8h0M164.5 264.9h0M156.5 278.1h0M139.0 273.6h0M148.4 252.4h0M150.3 238.1h0M139.4 244.5h0M179.8 239.5h0M151.7 236.5h0M161.8 232.1h0M151.9 240.9h0M169.9 256.3h0M137.6 223.2h0M152.3 254.1h0M165.3 232.0h0M181.2 233.0h0M171.3 266.1h0M173.9 240.6h0M159.9 204.4h0M127.6 223.6h0M161.9 258.6h0M150.6 258.1h0M159.9 268.2h0M130.2 219.0h0M138.9 214.5h0M174.6 217.0h0M140.6 228.0h0M164.1 226.7h0M162.1 247.9h0M143.2 187.0h0M139.4 210.3h0M174.4 221.4h0M137.3 244.2h0M152.7 216.8h0M167.0 255.5h0M155.8 220.5h0M140.0 193.5h0M157.3 244.5h0M139.4 236.9h0M197.0 212.8h0M128.6 249.1h0M146.2 226.0h0M160.5 233.6h0M165.6 247.1h0M167.9 238.8h0M128.7 258.1h0M155.5 207.3h0M152.9 254.7h0M138.0 237.2h0M141.9 215.3h0M143.5 263.0h0M161.4 235.7h0M150.9 238.9h0M155.9 240.1h0M128.4 255.5h0M140.2 181.8h0M161.7 211.0h0M150.1 234.3h0M143.9 247.5h0M148.3 230.4h0M138.9 230.4h0M137.8 237.1h0M170.2 257.4h0M157.9 207.8h0M166.1 255.8h0M180.3 189.2h0M152.2 229.3h0M167.0 213.5h0M165.7 194.5h0M152.3 264.9h0M143.5 248.7h0M153.4 205.6h0M143.4 260.0h0M168.3 223.6h0M167.5 221.3h0M155.4 235.7h0M134.8 242.9h0M140.6 218.5h0M140.5 215.7h0M142.5 184.8h0M164.3 237.7h0M155.5 230.6h0M152.9 230.7h0M137.0 204.3h0M153.0 257.5h0M155.2 270.0h0M133.2 230.6h0M143.5 262.0h0M175.3 225.2h0M162.1 231.1h0M138.2 233.8h0M137.7 268.7h0M160.1 261.1h0M156.9 185.1h0M163.0 238.0h0M165.9 272.1h0M137.9 252.7h0M156.6 232.5h0M148.1 247.2h0M159.9 249.9h0M146.4 208.4h0M170.2 263.4h0M144.2 235.4h0M163.1 199.1h0M155.7 221.3h0M180.1 236.3h0M154.9 227.1h0M154.5 198.3h0M134.3 205.0h0M164.4 234.1h0M167.9 193.2h0M143.7 266.7h0M141.1 196.8h0M141.7 228.8h0M151.8 263.5h0M170.3 268.8h0M160.0 225.5h0M145.2 204.9h0M169.5 262.5h0M153.2 217.3h0M161.3 246.4h0M154.1 211.6h0M155.3 224.1h0M162.2 248.6h0M158.1 227.0h0M173.0 252.4h0M169.5 253.7h0M161.1 244.3h0M137.3 197.7h0M139.1 249.0h0M164.5 239.9h0M153.2 274.7h0M146.5 198.4h0M130.7 229.2h0M161.6 251.6h0M149.0 253.3h0M151.3 220.8h0M146.8 252.0h0M165.1 212.3h0M138.4 238.6h0M181.2 211.4h0M134.8 244.9h0M159.0 223.1h0M151.6 246.2h0M128.1 235.5h0M160.3 255.5h0M168.0 234.5h0M132.2 264.3h0M162.6 222.6h0M166.2 257.9h0M150.1 186.2h0M145.6 220.1h0M140.5 234.3h0M137.2 244.2h0M177.9 210.9h0M166.3 224.8h0M159.5 233.3h0M169.6 221.0h0M162.1 219.7h0M155.1 235.7h0M166.9 202.7h0M133.5 265.4h0M157.3 271.8h0M137.9 240.5h0M160.3 273.3h0M151.3 226.6h0M161.8 233.9h0" stroke="#555" stroke-width="0.68" stroke-linecap="round" stroke-opacity="0.75" fill="none"/>
<path d="M194.2 256.1h0M180.6 218.6h0M219.0 229.5h0M199.2 247.8h0M216.2 251.2h0M191.7 228.0h0M215.3 237.5h0M195.6 258.4h0M190.4 225.1h0M194.9 247.5h0M197.4 263.5h0M171.5 260.3h0M195.5 234.2h0M209.7 244.3h0M191.1 271.7h0M209.8 229.6h0M205.5 216.7h0M188.6 233.7h0M207.3 242.2h0M193.9 210.8h0M183.3 273.7h0M207.3 223.1h0M216.9 251.4h0M198.2 227.1h0M216.3 246.9h0M222.2 247.7h0M196.2 227.4h0M194.8 245.4h0M206.0 252.8h0M208.3 217.9h0M200.6 220.1h0M208.6 212.3h0M196.2 221.9h0M195.8 234.6h0M220.7 234.6h0M186.2 233.6h0M211.8 251.7h0M205.8 282.0h0M216.0 241.9h0M217.2 211.7h0M201.0 221.7h0M205.1 274.1h0M197.2 273.6h0M191.1 270.1h0M183.2 222.1h0M214.7 238.1h0M204.7 239.7h0M205.1 236.2h0M191.6 233.9h0M204.3 221.0h0M208.5 277.2h0M183.9 228.5h0M199.7 240.4h0M204.1 224.7h0M202.6 240.1h0M202.0 272.5h0M204.5 208.8h0M184.7 252.5h0M199.0 227.0h0M187.2 233.5h0M201.9 225.5h0M198.9 258.7h0M212.2 251.5h0M201.0 211.4h0M212.1 271.6h0M217.9 264.6h0M206.2 247.9h0M202.8 266.5h0M212.1 233.2h0M203.0 206.1h0M194.5 233.7h0M213.7 241.6h0M199.6 253.2h0M179.8 260.0h0M225.6 246.3h0M202.3 243.4h0M210.7 229.7h0M204.4 250.7h0M198.9 248.2h0M206.9 255.1h0M191.5 228.7h0M198.0 265.3h0M205.9 205.1h0M188.1 280.9h0M207.0 212.7h0M192.4 243.0h0M219.6 274.2h0M198.8 233.7h0M225.4 219.3h0M221.2 247.2h0M204.1 267.2h0M208.6 222.4h0M185.2 240.3h0M209.0 268.9h0M172.6 268.3h0M210.2 272.0h0M212.3 244.5h0M208.0 248.4h0M195.7 237.6h0M204.5 230.5h0M185.9 209.5h0M208.9 251.0h0M204.3 215.3h0M212.9 231.7h0M178.8 273.1h0M209.2 230.7h0M175.6 225.1h0M220.3 268.8h0M206.0 203.8h0M198.6 234.0h0M208.4 237.4h0M207.0 205.5h0M195.5 270.5h0M186.1 259.5h0M186.8 266.3h0M181.4 247.1h0M198.2 266.2h0M216.7 244.0h0M223.9 260.8h0M197.4 219.2h0M207.8 237.5h0M197.5 206.0h0M201.3 237.6h0M214.4 229.1h0M184.8 217.3h0M202.5 245.3h0M211.4 231.9h0M209.3 243.0h0M222.7 238.8h0M204.7 252.0h0M217.2 220.5h0M197.5 234.2h0M178.2 267.6h0M215.5 240.5h0M226.6 273.3h0M213.6 210.0h0M220.9 248.9h0M189.1 241.1h0M211.8 260.9h0M205.0 228.9h0M211.9 223.9h0M202.1 256.2h0M186.2 247.9h0M180.2 220.4h0M188.7 238.1h0M211.3 238.9h0M213.7 242.0h0M200.6 250.4h0M200.2 242.9h0M215.1 227.9h0M216.4 216.5h0M200.4 203.2h0M196.8 273.7h0M207.2 266.9h0M185.9 218.6h0M208.4 257.6h0M212.8 204.5h0M209.0 238.5h0M204.4 250.1h0M199.7 204.1h0M190.5 209.3h0M187.7 237.2h0M218.3 224.9h0M194.1 215.6h0M182.8 241.4h0M197.3 234.9h0M191.8 250.3h0M189.0 251.7h0M195.3 256.7h0M192.6 249.4h0M208.1 238.3h0M222.1 243.7h0M192.6 254.7h0M193.4 228.5h0M203.1 243.9h0M222.9 202.9h0M200.0 264.0h0M201.1 246.8h0M220.8 213.9h0M203.5 256.8h0M196.1 202.8h0M191.3 244.1h0M205.2 279.2h0M218.5 207.1h0M215.1 259.4h0M221.9 236.8h0M196.5 243.1h0M221.1 253.2h0M222.8 256.7h0M196.1 218.5h0M224.7 207.8h0M198.9 233.3h0M192.3 227.9h0M202.2 228.9h0M204.5 260.0h0M193.5 231.4h0M182.6 254.9h0M211.0 271.9h0M213.2 234.2h0M198.4 233.4h0M188.8 256.4h0M195.9 224.6h0M209.0 242.4h0M196.2 235.0h0M197.2 268.7h0M214.7 224.5h0M202.5 269.2h0M199.6 277.9h0M208.2 254.2h0M178.7 258.1h0M207.0 252.4h0M208.6 251.2h0M197.1 259.2h0M203.7 217.7h0M191.1 243.4h0M206.9 193.0h0M178.9 262.4h0M185.1 234.7h0M196.0 251.9h0M219.5 274.4h0M191.2 266.3h0M188.8 246.6h0M205.0 253.2h0M193.6 268.5h0M202.2 239.6h0M199.9 217.3h0M211.4 247.2h0M208.3 279.7h0M192.8 233.9h0M203.1 258.3h0M200.9 259.9h0M208.3 202.5h0M195.0 196.7h0M199.7 231.1h0M209.9 243.6h0M202.3 266.9h0M210.0 213.7h0M194.9 247.0h0M222.9 235.8h0M201.0 245.7h0M212.2 238.1h0M206.5 231.0h0M196.6 223.1h0M210.7 228.1h0M209.4 248.7h0M214.4 182.7h0M191.7 214.0h0M201.1 257.2h0M218.9 248.2h0M198.5 251.4h0M177.5 259.9h0M203.1 253.2h0M190.9 216.6h0M195.5 239.1h0M207.1 232.4h0M207.1 254.5h0M189.4 237.8h0M184.8 228.3h0M213.6 224.7h0M224.8 250.8h0M213.4 242.2h0M213.1 263.4h0M204.3 228.7h0M196.6 281.3h0M200.9 230.2h0M194.7 204.0h0M197.1 246.9h0M197.3 223.8h0M207.8 249.8h0M197.9 246.6h0M191.6 258.4h0M191.4 232.8h0M204.6 231.0h0M220.8 202.7h0M204.4 212.9h0M206.7 212.1h0M209.8 251.4h0M223.0 265.8h0M197.6 260.2h0M197.6 237.6h0M197.1 202.3h0M210.1 196.5h0M200.2 251.2h0M204.3 206.3h0M195.4 254.6h0M215.9 274.2h0M181.7 249.8h0M197.4 256.4h0M183.2 237.0h0M211.3 226.2h0M198.8 219.0h0M216.1 211.6h0M192.3 232.9h0M206.2 222.2h0M209.8 247.4h0M206.3 238.6h0M208.4 214.9h0M188.9 230.9h0M190.1 255.0h0M225.8 266.5h0M208.2 247.2h0M195.0 212.2h0M209.4 208.3h0M206.5 237.0h0M211.8 241.1h0M204.2 227.5h0M182.8 232.6h0M211.2 262.4h0M219.2 218.7h0M192.0 255.0h0M206.7 207.5h0M196.5 273.6h0M181.6 243.3h0M186.7 274.3h0M197.8 217.9h0M183.0 224.7h0M173.0 229.8h0M199.9 215.1h0M207.0 229.9h0M193.1 269.7h0M208.2 221.0h0M220.3 238.8h0M208.9 243.2h0M216.8 253.2h0M198.9 255.4h0M198.4 242.9h0M222.3 217.3h0M190.9 231.4h0M197.1 267.9h0M221.6 230.4h0M205.2 232.3h0M210.9 254.2h0M211.8 256.4h0M225.7 236.4h0M211.2 236.0h0M203.5 244.7h0M202.4 247.4h0M193.0 236.7h0M195.9 214.9h0M194.7 229.3h0M201.3 206.5h0M200.0 215.8h0M193.4 244.1h0M216.0 246.1h0M197.3 230.6h0M218.7 205.2h0M216.4 207.8h0M195.6 241.0h0M200.4 275.7h0M208.8 239.0h0M214.2 240.8h0M193.5 264.1h0M220.6 267.5h0M189.2 280.9h0M198.1 256.5h0M184.0 218.1h0M216.9 250.6h0M208.2 236.0h0M173.6 228.0h0M202.9 245.0h0M211.9 234.3h0M192.5 232.3h0M178.3 216.0h0M226.2 225.2h0M202.1 280.8h0M215.4 242.6h0M211.6 234.2h0M192.4 261.5h0M204.6 274.4h0M199.9 232.0h0M207.1 235.9h0M199.3 220.8h0M206.0 247.0h0M224.5 239.4h0M182.4 250.0h0M193.6 236.4h0M169.4 232.8h0M200.8 207.5h0M209.8 221.2h0M181.3 224.5h0M210.5 281.3h0M217.7 244.2h0M197.0 234.4h0M214.4 228.9h0M207.9 260.8h0M192.3 227.3h0M208.3 240.2h0M201.5 228.6h0M202.3 279.9h0M219.0 205.3h0M203.6 242.0h0M203.4 210.3h0M201.5 243.2h0M195.0 246.8h0M174.3 207.6h0M204.2 248.4h0M201.0 230.1h0M205.2 263.3h0M213.6 238.3h0M197.5 262.9h0M209.4 259.0h0M199.7 221.5h0M205.2 226.5h0M216.5 258.4h0M177.3 254.3h0M218.7 262.4h0M197.4 221.5h0M214.4 261.8h0M203.7 215.1h0M185.0 245.8h0M193.3 225.4h0M208.2 262.6h0M178.7 225.6h0M218.3 239.1h0M199.0 253.8h0M189.6 213.7h0M203.3 273.7h0M215.0 239.9h0M214.9 231.2h0M189.1 203.9h0M206.2 259.4h0M207.4 239.2h0M198.3 263.5h0M202.5 209.0h0M219.2 226.0h0M207.6 240.1h0M215.4 245.3h0M217.5 244.5h0M197.6 229.1h0M210.7 222.1h0M213.9 234.8h0M192.1 221.2h0M201.3 278.1h0M212.1 240.4h0M192.3 281.1h0M199.7 240.0h0M198.0 268.8h0M205.1 230.1h0M205.2 218.5h0M190.6 236.5h0M169.1 265.3h0M226.4 216.0h0M201.3 206.0h0M205.0 244.6h0M211.7 211.3h0M195.9 226.1h0M200.6 239.1h0M197.0 257.2h0M221.1 216.9h0M215.5 240.6h0M217.8 262.8h0M210.7 203.8h0M204.6 229.2h0M208.3 240.8h0M215.4 205.4h0M194.3 238.4h0M206.8 231.3h0M202.7 241.2h0M215.4 237.6h0M205.9 200.8h0M172.1 208.4h0M207.2 190.2h0M207.8 237.9h0M203.0 224.2h0M198.0 257.9h0M207.2 239.4h0M197.2 244.6h0M217.0 239.6h0M198.7 214.5h0M204.2 220.2h0M186.0 258.8h0M195.6 196.0h0M194.5 279.8h0M201.7 211.4h0M190.0 255.5h0M207.8 244.6h0M200.7 250.5h0M221.2 250.5h0M201.1 209.8h0M208.3 273.9h0M210.6 212.8h0M205.2 268.1h0M195.5 250.7h0M217.3 275.4h0M184.2 202.2h0M207.4 255.2h0M198.8 239.6h0M198.2 266.0h0M176.9 245.5h0M187.9 225.4h0M184.9 220.3h0M202.7 240.6h0M224.1 235.2h0M207.1 247.7h0M206.0 271.7h0M204.6 243.2h0M201.7 240.1h0M202.3 261.6h0M203.2 241.5h0M202.4 256.4h0M197.4 260.3h0M196.2 255.0h0M225.7 245.0h0M202.0 214.4h0M211.7 240.3h0M213.8 225.8h0M209.2 279.1h0M207.8 232.9h0M187.6 239.8h0M210.8 253.0h0M189.8 217.7h0M191.5 217.9h0M199.7 245.8h0M225.8 244.2h0M220.2 204.2h0M221.3 257.3h0M208.2 257.9h0M210.3 281.5h0M212.5 202.3h0M182.3 275.0h0M202.0 268.7h0M198.9 225.8h0M198.9 246.8h0M205.2 226.6h0M209.4 253.4h0M192.1 215.8h0M179.8 233.3h0M203.1 224.9h0M195.9 237.1h0M203.3 252.4h0M212.9 249.5h0M216.3 219.0h0M210.2 248.1h0M190.6 225.3h0M208.3 241.6h0M188.1 228.0h0M221.1 258.3h0M204.0 269.3h0M192.2 236.3h0M214.4 232.7h0M189.7 252.7h0M222.0 184.9h0M204.8 212.8h0M199.5 209.3h0M203.5 224.7h0M191.3 230.1h0M205.5 278.1h0M206.4 274.0h0M190.4 241.6h0M197.8 206.0h0M205.9 223.6h0M196.2 217.5h0M215.2 231.2h0M201.3 243.9h0M188.5 245.1h0M201.0 249.7h0M198.4 240.8h0M209.1 261.0h0M194.8 261.1h0M191.3 235.9h0M204.5 243.2h0M173.4 218.7h0M200.8 260.1h0M194.6 272.8h0M181.6 241.7h0M209.4 240.4h0M206.1 260.3h0M193.4 252.8h0M215.6 234.9h0M175.5 214.1h0M192.9 217.0h0M208.1 222.5h0M187.5 233.8h0M221.1 254.8h0M190.9 262.5h0M196.5 253.0h0M209.7 230.3h0M201.2 265.2h0M208.9 238.7h0M208.3 278.0h0M214.1 250.4h0M206.9 206.0h0M204.6 229.4h0M211.7 226.8h0M208.3 217.1h0M213.6 224.2h0M202.7 252.6h0M199.2 240.2h0M215.6 278.4h0M181.6 220.4h0M211.0 260.4h0M197.4 242.1h0M200.6 214.1h0M184.6 212.3h0M218.5 231.5h0M226.1 253.9h0M207.5 254.0h0M212.4 260.0h0M191.4 227.9h0M196.5 242.3h0M200.0 213.2h0M194.8 278.8h0M207.5 239.2h0M193.0 255.5h0M202.2 276.3h0M208.4 233.2h0M171.6 237.8h0M213.1 224.5h0M213.5 254.8h0M182.1 235.7h0M206.8 256.4h0M204.8 239.7h0M198.9 233.7h0M203.0 216.9h0M210.6 232.9h0M209.2 229.0h0M207.9 242.8h0M213.6 250.0h0M214.1 236.4h0M202.3 234.3h0M188.1 237.3h0M215.9 256.7h0M192.9 246.5h0M211.9 210.5h0M207.1 247.2h0M211.9 245.6h0M182.4 196.2h0M226.5 231.4h0M218.1 267.5h0M204.0 215.2h0M219.2 239.2h0M209.2 250.4h0M214.3 262.0h0M186.2 209.4h0M204.7 240.2h0M212.2 237.1h0M200.9 284.0h0M219.3 265.1h0M215.3 222.9h0M202.0 238.5h0M190.0 221.2h0M204.9 213.7h0M209.4 250.2h0M200.2 232.7h0M210.1 250.4h0M207.3 213.5h0M195.3 232.1h0M181.4 222.7h0M194.3 257.3h0M171.7 209.6h0M198.1 229.4h0M193.8 230.5h0M184.3 245.8h0M217.2 243.3h0M196.6 267.4h0M208.8 217.7h0M196.2 226.8h0M202.5 266.3h0M194.6 236.8h0M204.3 214.2h0M197.3 253.3h0M216.4 199.5h0M211.4 233.7h0M218.3 253.4h0M226.4 246.7h0M198.3 222.0h0M186.0 252.0h0M209.1 257.7h0M207.2 207.6h0M198.2 234.8h0M204.9 256.6h0" stroke="#555" stroke-width="0.68" stroke-linecap="round" stroke-opacity="0.75" fill="none"/>
<path d="M154.8,214.1 154.3,214.2 153.8,214.2 153.3,214 152.7,213.6 152.3,213 151.9,212.3 151.6,211.4 151.4,210.6 151.3,209.3 151.5,208.8 151.8,208.3 152.7,207.6 153.8,207.2 155,207.2 156.1,207.6 156.9,208.3 157.2,208.8 157.3,209.3 157.1,210.8 156.6,212.3 155.8,213.4 155.3,213.8 154.8,214.1Z" fill="none" stroke="#222" stroke-width="0.55" stroke-linejoin="round"/>
<path d="M154.8,217.1 153.8,217.1 153,216.9 152,216.3 151.3,215.5 150.6,214.3 150,213 149.7,211.6 149.5,210 149.5,209.3 149.6,208.6 150,207.8 150.6,207 151.3,206.5 152.2,206 153,205.8 154,205.7 155,205.7 155.8,205.8 156.8,206.2 157.6,206.6 158.1,207 158.7,207.8 159,208.6 159.2,209.3 159,210.6 158.8,211.8 158.3,213.2 157.8,214.3 157,215.4 156.3,216.2 155.6,216.7 154.8,217.1Z" fill="none" stroke="#222" stroke-width="0.55" stroke-linejoin="round"/>
<path d="M154.3,220.1 153,220 151.8,219.4 150.8,218.5 149.8,217.2 148.9,215.6 148.3,213.8 147.8,211.8 147.6,209.6 147.7,208.6 148.1,207.6 148.8,206.6 149.6,205.8 150.6,205.1 151.8,204.6 153,204.3 154.6,204.2 155.8,204.3 157,204.6 158.1,205 159,205.7 159.8,206.3 160.5,207.3 160.9,208.3 161,209.3 160.8,211 160.3,213 159.7,214.8 158.8,216.6 157.8,218 156.7,219 155.6,219.7 154.3,220.1Z" fill="none" stroke="#222" stroke-width="0.55" stroke-linejoin="round"/>
<path d="M155,222.9 154.3,223 153.6,223 152.8,222.9 152,222.6 150.5,221.6 149,219.9 147.8,217.8 146.8,215.3 146.1,212.6 145.7,209.8 145.8,208.6 146.2,207.3 147,206 147.9,205 149,204.2 150.6,203.4 152,203 153.8,202.7 155.6,202.7 157,203 158.6,203.6 160,204.3 161.2,205.3 162.1,206.6 162.7,207.8 162.9,209 162.7,211 162.1,213.6 161.3,215.8 160.2,218 159,219.8 157.8,221.2 156.6,222.2 155,222.9Z" fill="none" stroke="#222" stroke-width="0.55" stroke-linejoin="round"/>
<path d="M155,225.8 154,226 153,225.9 152,225.6 151.3,225.3 150.3,224.6 149.6,223.9 148,222 147.2,220.8 146.4,219.3 145.2,216.3 144.3,213 143.9,209.6 144.1,208 144.6,206.6 145.6,205 146.9,203.8 148.3,202.8 150,202 152,201.4 154,201.2 156,201.3 158,201.7 159.8,202.4 161.4,203.3 162.8,204.5 163.7,205.8 164.4,207.3 164.7,209 164.4,211.6 163.6,214.6 162.6,217.5 161.3,220 159.8,222.2 158.3,223.9 156.8,225.1 156,225.5 155,225.8Z" fill="none" stroke="#222" stroke-width="0.55" stroke-linejoin="round"/>
<path d="M154.6,228.8 153.6,228.9 152.6,228.8 151.6,228.4 150.6,227.9 149.6,227.2 148.6,226.2 147.6,225.1 146.7,223.8 145.8,222.3 144.9,220.6 143.5,217 142.5,213.3 142,209.6 142.1,208.6 142.3,207.6 143,205.8 144.2,204 145.8,202.6 147.6,201.5 149.8,200.5 152,199.9 154.6,199.7 157,199.9 159.3,200.5 161.3,201.3 163.1,202.6 164.6,203.9 165.7,205.6 166.3,207.3 166.5,208.3 166.6,209.3 166,212.8 164.9,216.3 163.6,219.6 162,222.6 160.2,225 158.3,227 156.6,228.2 155.6,228.6 154.6,228.8Z" fill="none" stroke="#222" stroke-width="0.55" stroke-linejoin="round"/>
<path d="M154,231.8 152.8,231.8 151.8,231.5 150.6,231 149.6,230.3 148.6,229.5 147.4,228.3 146.4,227 145.4,225.6 144.4,223.8 143.4,221.8 141.9,217.8 141.2,215.6 140.7,213.3 140.3,211 140.1,209.3 140.2,208.3 140.5,207 141.4,205 142.1,204 142.9,203 143.8,202.1 144.8,201.3 147,200 148.3,199.4 149.8,198.9 152.6,198.4 155.3,198.3 158,198.6 160.6,199.3 162.8,200.4 164.8,201.8 165.6,202.6 166.5,203.6 167.6,205.3 168.3,207.3 168.5,209.3 168.2,211 167.7,213.3 166.4,217.3 164.7,221.3 162.8,224.8 160.8,227.6 159.7,228.8 158.6,229.8 157.3,230.7 156.3,231.2 155,231.7 154,231.8Z" fill="none" stroke="#222" stroke-width="0.55" stroke-linejoin="round"/>
<path d="M155,234.6 153.8,234.8 152.6,234.7 151.3,234.3 150,233.7 148.8,232.8 147.6,231.7 146.3,230.3 145,228.6 143.8,226.6 142.6,224.3 141.6,222 140.6,219.6 139.8,217 139.2,214.6 138.6,212 138.3,209.6 138.4,208.3 138.6,207 139,206 139.5,204.8 140.3,203.6 141.1,202.6 142,201.6 143,200.6 145.3,199.1 146.6,198.5 148,197.9 151,197.1 152.6,196.9 154.3,196.8 157.3,197 160.3,197.6 163,198.7 164.3,199.4 165.6,200.2 166.6,201.1 167.6,202.1 168.5,203.3 169.1,204.3 169.6,205.6 170,206.6 170.2,207.8 170.3,209 170.2,210 169.6,212.8 168.2,217.6 166.4,221.8 165.4,223.8 164.2,226 161.9,229.3 160.8,230.7 159.6,232 158.3,233 157.3,233.7 156.3,234.2 155,234.6Z" fill="none" stroke="#222" stroke-width="0.55" stroke-linejoin="round"/>
<path d="M154.8,237.6 153.3,237.7 152,237.5 150.8,237.1 149.6,236.4 148.3,235.5 146.8,234.1 145.5,232.6 144.1,230.6 142.7,228.3 141.4,225.8 140.2,223.3 139.2,220.6 138.2,217.8 137.5,215 136.9,212.3 136.4,209.6 136.5,208.3 136.8,206.8 137.2,205.6 137.9,204 138.7,202.8 139.7,201.6 140.7,200.6 141.8,199.6 143,198.7 144.6,197.8 146.3,196.9 147.8,196.4 149.3,196 151,195.6 152.8,195.4 154.6,195.3 156.3,195.4 158,195.6 159.8,195.9 161.3,196.3 162.8,196.9 164.3,197.6 165.8,198.4 167,199.3 168.2,200.3 169.1,201.3 170.1,202.6 170.8,203.8 171.4,205 171.8,206.3 172.1,207.8 172.2,209 172,210.6 171.3,213.3 170.5,216 169.6,218.6 167.5,223.6 165,228 163.7,230 162.4,231.8 161,233.5 159.8,234.7 158.6,235.8 157.3,236.6 156,237.2 154.8,237.6Z" fill="none" stroke="#222" stroke-width="0.55" stroke-linejoin="round"/>
<path d="M154.3,240.6 153,240.6 151.6,240.4 150.3,239.9 148.8,239 147.3,237.7 145.8,236.2 144.3,234.3 143,232.3 141.5,229.8 140.2,227.3 138.9,224.6 137.6,221.3 136.6,218.3 135.7,215 134.9,211.8 134.6,209.3 134.7,207.8 135,206.3 135.6,204.8 136.3,203.3 137.3,201.8 138.3,200.6 139.6,199.3 141,198.1 142.6,197.1 144,196.3 145.8,195.5 147.6,194.9 149.3,194.4 151.3,194.1 153.3,193.9 155.3,193.8 157,193.9 159,194.2 160.8,194.6 162.6,195.1 164,195.7 165.8,196.6 167.3,197.5 168.7,198.6 169.8,199.6 171,200.8 171.9,202 172.7,203.6 173.4,205 173.7,206.3 174,207.8 174.1,209.3 173.7,211.3 172.8,214.3 172,217 170.9,219.8 169.7,222.8 168.5,225.3 167.2,227.8 165.5,230.6 164.2,232.6 162.7,234.6 161.3,236.2 159.8,237.7 158.3,238.9 157,239.7 155.8,240.2 154.3,240.6Z" fill="none" stroke="#222" stroke-width="0.55" stroke-linejoin="round"/>
<path d="M153.8,243.6 152.3,243.5 151,243.2 149.6,242.5 148,241.4 146.6,240.1 145,238.4 143.4,236.3 141.9,234 140.5,231.6 138.9,228.6 137.4,225.3 136.1,222 134.9,218.6 133.9,215.3 133.2,212 132.7,209.3 132.9,207.6 133.3,205.8 133.9,204 134.7,202.6 135.7,201 137,199.6 138.3,198.2 139.8,197 141.6,195.9 143.3,194.9 145,194.2 147.3,193.4 149.3,192.9 151.6,192.5 153.6,192.4 155.8,192.4 157.8,192.5 160,192.9 162,193.4 163.8,193.9 165.6,194.7 167,195.4 168.6,196.4 170.1,197.6 171.5,198.8 172.6,200 173.7,201.6 174.5,203 175.1,204.6 175.6,206 175.9,207.8 175.9,209.3 175.4,211.6 174.4,215 173.4,218 172.1,221.3 170.7,224.6 169.2,227.6 167.7,230.3 166,233 164.4,235.3 162.7,237.6 161,239.4 159.6,240.8 158,242 156.6,242.8 155,243.4 153.8,243.6Z" fill="none" stroke="#222" stroke-width="0.55" stroke-linejoin="round"/>
<path d="M198.6,258.1 197.3,258.1 196,257.7 194.8,257 193.6,255.8 192.6,254.4 191.5,252.6 190.5,250.3 189.6,247.8 188.9,245 188.2,241.8 187.6,238.6 187.2,234.8 186.9,231 186.7,227.3 186.8,223.8 186.9,220 187.7,216.6 188.9,213 189.9,210.8 191.2,208.6 192.4,206.8 194.3,204.3 194.9,203.3 195.4,202 195.7,199.6 196,198.3 196.4,197 197.1,195.8 197.9,194.8 198.7,194 199.6,193.4 200.8,192.6 206.6,190.1 207.6,189.9 208.3,189.9 209,190 210,190.5 213.6,192.4 215.3,193.6 216.3,194.6 217.1,195.6 217.7,196.6 218.1,197.6 218.3,199 218.2,200.8 217.8,202.3 216.8,204.8 216.5,206.3 216.5,207.6 217,211 217.1,213.6 217,216.6 216.7,219.6 215.2,226.3 213.2,233.3 211.5,238.3 209.4,243 206,249.8 204.6,252.2 203.3,254.1 202,255.6 200.8,256.9 199.6,257.7 198.6,258.1Z" fill="none" stroke="#222" stroke-width="0.55" stroke-linejoin="round"/>
<path d="M199.6,252.3 198.6,252.4 197.3,252.1 196,251.4 195,250.5 194,249.2 193.1,247.6 192.3,245.7 191.6,243.6 190.9,241 190.3,238.6 189.9,235.6 189.5,232.6 189.3,229.6 189.3,226.3 189.3,223 189.5,220 189.9,218 190.4,216 191.2,214 192,212.3 193.8,209.3 196.6,205.8 197.1,204.8 197.3,204.3 197.3,203.6 196.9,200.8 196.9,199.3 197.2,197.8 197.9,196.3 198.6,195.3 199.6,194.4 200.6,193.7 201.8,193 203.6,192.2 206.3,191.2 207.6,191 208.6,191 209.8,191.4 211.6,192.2 213.3,193.2 214.8,194.2 215.7,195 216.4,196 217,197 217.3,198 217.4,199.6 217.1,201 216.5,202.6 215,205.1 214.8,205.8 214.6,206.6 214.6,207.6 215.1,211.6 215.3,214 215.2,217 214.9,220 213.9,225.3 212.7,230.3 211.4,234.3 209.8,238 208.6,240.6 206.2,244.8 203.8,248.6 202.6,250.2 201.6,251.2 200.6,251.9 199.6,252.3Z" fill="none" stroke="#222" stroke-width="0.55" stroke-linejoin="round"/>
<path d="M200.3,246.8 199.3,246.9 198.3,246.6 197.3,246.1 196.4,245.3 195.6,244.2 194.8,242.9 194.1,241.3 193.5,239.6 192.9,237.6 192.5,235.3 192.1,232.8 191.9,230.3 191.7,225 192,219.8 192.4,218 192.9,216.3 193.6,214.6 194.5,212.8 196.1,210.3 197.2,209 199.1,207 199.7,206 199.7,205.6 199.6,204.8 198.3,202 197.9,200.3 197.8,199.3 197.9,198.3 198.2,197.6 198.6,196.6 199.4,195.6 200.1,194.8 201,194.1 202.3,193.4 204,192.7 206.3,191.9 207.6,191.8 208.6,191.8 209.8,192.1 211,192.6 212.6,193.4 214,194.4 215,195.3 215.7,196.3 216.2,197.3 216.5,198.3 216.6,199.8 216.2,201.3 215.5,202.6 213.9,205 213.5,206.3 213.4,207.6 213.9,211.8 214,214.6 213.9,217.6 213.7,220.3 212.9,224.8 212,228.8 210.9,232 209.7,235 208.3,237.4 203.6,244.3 202.6,245.4 201.8,246.1 201,246.6 200.3,246.8Z" fill="none" stroke="#222" stroke-width="0.55" stroke-linejoin="round"/>
<path d="M201.8,237.1 200.8,237.1 199.8,236.7 198.8,235.8 198,234.7 197.3,233 196.8,231.3 196.4,229.3 196.2,227 196.1,224.3 196.2,221.6 196.4,219.6 196.9,217.8 197.6,216 198.5,214.6 199.4,213.3 201.3,211.2 202,210 202.8,208.3 203.1,207 203,206 202.7,205.3 200.4,202.8 199.5,201.3 199.1,200 199.1,198.6 199.5,197.3 200.1,196.3 201,195.3 202.3,194.4 204.3,193.5 206,192.9 207.6,192.7 208.8,192.8 209.8,193.1 211,193.6 212.3,194.3 213.3,195 214.1,195.8 214.7,196.6 215.2,197.6 215.4,198.6 215.4,199.8 215.1,201 214.4,202.3 212.7,204.6 212.4,205.3 212.2,206 212.2,207.3 212.5,211.6 212.6,215 212.5,218.6 212.1,221.6 211.5,225 210.7,227.8 209.9,230 208.9,231.8 208,232.9 207.3,233.6 204.9,235 202.8,236.6 201.8,237.1Z" fill="none" stroke="#222" stroke-width="0.55" stroke-linejoin="round"/>
<path d="M207,230.3 206.3,230.3 205.6,230 204.6,229.4 203.7,228.6 202.9,227.6 202.3,226.6 201.9,225.6 201.5,224.3 201.2,221.8 201.4,219.3 203.6,210.6 204.1,208 204.2,206.6 204,205.6 203.6,204.8 201.3,202.6 200.5,201.6 200,200.3 199.8,199 200,198 200.4,197 201.2,196 202,195.3 203.3,194.5 204.8,193.9 206.3,193.5 207.8,193.4 209,193.5 210.3,193.9 211.8,194.7 212.8,195.4 213.7,196.3 214.3,197.3 214.6,198.3 214.7,199.3 214.5,200.3 214.1,201.3 212,204.3 211.6,205 211.4,205.8 211.4,207.3 211.8,212.8 211.8,216.3 211.5,220.3 210.7,224.3 210,226.8 209,228.7 208.6,229.4 208,229.9 207.6,230.2 207,230.3Z" fill="none" stroke="#222" stroke-width="0.55" stroke-linejoin="round"/>
<path d="M207.3,227.8 206.8,227.7 206.2,227.3 205.6,226.6 205.1,225.8 204.3,223.6 203.8,220.8 203.7,218.6 203.7,216 204.1,212.3 204.9,207.6 204.9,206.6 204.8,205.8 204.6,205 204,204.3 202,202.5 201.1,201.3 200.6,200.3 200.5,199 200.6,198 201.1,197 201.7,196.3 202.6,195.5 203.8,194.8 205.3,194.2 206.6,193.9 207.8,193.8 208.8,193.9 210,194.3 211.3,194.9 212.3,195.6 213.2,196.6 213.7,197.3 214,198 214.1,199 214,200 213.6,201 213,202 211.5,204 211.1,204.8 210.9,205.6 210.8,206.8 211.2,211.6 211.3,215.3 211,219.3 210.4,222.6 209.8,224.7 209,226.4 208.3,227.3 207.8,227.7 207.3,227.8Z" fill="none" stroke="#222" stroke-width="0.55" stroke-linejoin="round"/>
<path d="M208,225.6 207.6,225.8 207,225.7 206.6,225.3 206,224.6 205.3,222.6 204.7,219.8 204.5,217.3 204.6,214.6 204.9,211.3 205.5,207 205.5,206.3 205.4,205.6 205.1,204.8 204.8,204.3 202.6,202.3 201.7,201.3 201.2,200.3 201,199.3 201.1,198.3 201.4,197.6 202,196.6 202.8,195.9 203.8,195.2 205,194.7 206.3,194.3 207.6,194.2 208.8,194.3 209.8,194.6 210.8,195.1 211.8,195.8 212.6,196.6 213.1,197.3 213.5,198 213.6,199 213.5,200 213.1,201 212.6,201.8 210.9,204 210.3,205.3 210.2,206.8 210.7,210.6 210.8,213.3 210.8,215.8 210.6,218.3 210.2,221 209.6,223.2 208.8,224.8 208,225.6Z" fill="none" stroke="#222" stroke-width="0.55" stroke-linejoin="round"/>
<path d="M208,223.8 207.6,224 207.1,223.8 206.8,223.5 206.3,222.8 205.7,221 205.3,218.6 205.1,216.3 205.2,213.6 205.5,210.8 206.1,206.8 206,205.6 205.7,204.8 205.2,204 203,202.2 202.2,201.3 201.7,200.3 201.4,199 201.6,198 202,197.3 202.6,196.6 203.3,196 204.3,195.4 205.3,195 206.6,194.6 207.6,194.6 208.6,194.6 209.6,194.9 210.6,195.4 211.6,196 212.3,196.8 212.8,197.6 213.1,198.3 213.2,199 213,200 212.6,201 210.4,204 209.9,204.8 209.7,205.6 209.7,206.8 210.2,210 210.4,212.3 210.4,214.8 210.3,217 209.9,219.6 209.4,221.6 208.8,223 208.6,223.4 208,223.8Z" fill="none" stroke="#222" stroke-width="0.55" stroke-linejoin="round"/>
<path d="M208,222.1 207.6,222.2 207.3,222.1 206.8,221.6 206.6,221.1 206,219.3 205.7,217 205.6,214.8 205.7,212.6 206.1,210 206.8,206.8 206.8,206 206.7,205.6 206.4,204.8 205.8,204 203.4,202 202.7,201.3 202.1,200.3 201.9,199.3 201.9,198.6 202.2,197.8 202.6,197 203.3,196.4 204,195.9 205,195.4 206.3,195 207.3,194.9 208.3,194.9 209.3,195.1 210.3,195.6 211,196.1 211.9,196.8 212.4,197.6 212.7,198.3 212.8,199 212.6,200 212.2,201 211.7,201.8 209.6,204.3 209.2,205 209.1,205.6 209,206.6 209.6,209.6 209.9,211.6 210,213.6 209.9,215.8 209.7,218 209.3,219.9 208.8,221.2 208.6,221.6 208,222.1Z" fill="none" stroke="#222" stroke-width="0.55" stroke-linejoin="round"/>
<path d="M208,205.1 207.8,205.1 207.3,204.8 203.6,201.8 202.8,200.8 202.5,200.3 202.3,199.6 202.3,198.8 202.5,198 202.9,197.3 203.3,196.8 204,196.2 204.8,195.8 205.8,195.4 206.8,195.2 207.8,195.2 208.8,195.3 209.8,195.7 210.5,196 211.3,196.7 211.8,197.3 212.2,198 212.4,198.8 212.3,200 211.7,201.3 210.8,202.4 209,204.2 208.6,204.7 208,205.1Z" fill="none" stroke="#222" stroke-width="0.55" stroke-linejoin="round"/>
<path d="M208,220.4 207.8,220.5 207.6,220.5 207.3,220.3 206.7,219.3 206.3,217.4 206.1,214.8 206.3,212 206.7,209.6 207.3,208 207.8,207.4 208,207.4 208.6,208 209.1,209.6 209.4,211.6 209.6,214 209.4,216.3 209.1,218.3 208.6,219.8 208,220.4Z" fill="none" stroke="#222" stroke-width="0.55" stroke-linejoin="round"/>
<path d="M208,204.1 207.6,204.1 206.8,203.8 204.3,202 203.2,200.8 202.9,200.3 202.7,199.6 202.6,198.8 202.7,198.3 203.1,197.6 203.5,197 204.1,196.6 204.8,196.1 205.6,195.8 206.6,195.5 207.6,195.4 208.3,195.5 209.3,195.7 210,196.1 210.7,196.6 211.3,197.1 211.8,197.8 212,198.6 212.1,199 212,199.8 211.7,200.6 211.3,201.3 210.6,202.2 209.6,203.2 208.8,203.8 208,204.1Z" fill="none" stroke="#222" stroke-width="0.55" stroke-linejoin="round"/>
<path d="M208,218.5 207.8,218.5 207.6,218.4 207.3,218.1 207.1,217.6 206.8,216.3 206.7,214.8 206.8,212.8 207,211.3 207.3,210.2 207.6,209.8 207.8,209.6 208,209.6 208.3,209.8 208.6,210.3 208.9,211.6 209,213.6 209,215 208.8,216.7 208.6,217.6 208.3,218.2 208,218.5Z" fill="none" stroke="#222" stroke-width="0.55" stroke-linejoin="round"/>
<path d="M207.8,203.6 207.3,203.5 206.6,203.2 205.3,202.4 204.3,201.6 203.4,200.6 203.1,200 203,199.3 203,198.6 203.2,198 203.5,197.6 204,196.9 204.8,196.4 205.5,196 207,195.7 208.6,195.8 209.3,196 210,196.4 210.8,197 211.3,197.6 211.5,198 211.7,198.8 211.8,199.3 211.6,200 211.3,200.8 210.7,201.6 209.8,202.5 209,203.1 208.3,203.5 207.8,203.6Z" fill="none" stroke="#222" stroke-width="0.55" stroke-linejoin="round"/>
<path d="M207.8,215.1 207.6,214 207.8,212.9 208,213.1 208.2,214 208,214.9 207.8,215.1Z" fill="none" stroke="#222" stroke-width="0.55" stroke-linejoin="round"/>
<path d="M208,203.1 207.6,203.1 206.8,202.9 205,201.9 203.9,200.8 203.6,200.3 203.3,199.6 203.4,198.6 203.9,197.6 204.8,196.7 205.6,196.3 206.3,196.1 207.3,195.9 208,195.9 208.8,196.1 209.6,196.4 210.2,196.8 210.7,197.3 211.1,197.8 211.4,198.6 211.4,199 211.4,199.8 210.8,201 210,201.9 209.3,202.5 208.6,203 208,203.1Z" fill="none" stroke="#222" stroke-width="0.55" stroke-linejoin="round"/>
<path d="M208.6,202.6 207.6,202.7 207,202.6 206.3,202.3 204.8,201.3 204,200.3 203.6,199.3 203.8,198.3 204.2,197.6 205.1,196.8 206,196.4 206.8,196.2 207.6,196.2 208.3,196.2 209,196.4 209.7,196.8 210.3,197.3 210.7,197.8 211,198.3 211.1,199 211.1,199.6 210.9,200.3 210.4,201 209.8,201.8 209.3,202.2 208.6,202.6Z" fill="none" stroke="#222" stroke-width="0.55" stroke-linejoin="round"/>
<path d="M208.3,202.3 207.3,202.4 206,201.9 204.9,201 204.2,200 203.9,199 204.1,198.3 204.6,197.6 205.7,196.8 207,196.4 207.8,196.4 208.6,196.5 209.2,196.8 209.8,197.2 210.3,197.7 210.7,198.3 210.8,199.3 210.7,200 210.4,200.6 209.6,201.6 208.9,202 208.3,202.3Z" fill="none" stroke="#222" stroke-width="0.55" stroke-linejoin="round"/>
<path d="M207.8,202.1 206.8,201.9 205.6,201.3 204.8,200.5 204.3,199.6 204.3,199 204.4,198.6 204.8,197.8 205.8,197 206.8,196.7 208,196.7 209.2,197 210.1,197.8 210.4,198.3 210.5,198.8 210.5,199.8 210.3,200.3 209.8,201 208.8,201.8 207.8,202.1Z" fill="none" stroke="#222" stroke-width="0.55" stroke-linejoin="round"/>
<path d="M208.6,201.6 207.8,201.8 206.8,201.6 205.8,201.1 205,200.4 204.7,199.6 204.6,198.8 205,198 205.5,197.6 206.6,197 207.8,196.9 208.5,197 209,197.3 209.8,197.9 210.2,198.8 210.3,199.3 210.2,199.8 209.9,200.3 209.6,200.8 209,201.3 208.6,201.6Z" fill="none" stroke="#222" stroke-width="0.55" stroke-linejoin="round"/>
<path d="M208.3,201.3 207.6,201.5 206.6,201.2 205.8,200.7 205.2,200 205,199.6 205,198.8 205.4,198 206,197.6 207,197.2 208,197.2 209,197.6 209.7,198.3 209.9,199 209.9,199.6 209.7,200 209.2,200.8 208.3,201.3Z" fill="none" stroke="#222" stroke-width="0.55" stroke-linejoin="round"/>
<path d="M208,201.1 207.3,201.1 206.6,200.9 205.8,200.3 205.5,199.8 205.3,199 205.4,198.6 205.8,198 206.3,197.7 207,197.5 208,197.5 208.8,197.8 209.1,198 209.5,198.6 209.6,199.3 209.4,200 208.8,200.7 208,201.1Z" fill="none" stroke="#222" stroke-width="0.55" stroke-linejoin="round"/>
<path d="M208.3,200.6 207.8,200.8 207,200.7 206.6,200.5 206,200.1 205.8,199.6 205.7,199 205.8,198.7 206.1,198.3 206.8,197.8 207.6,197.7 208.3,197.9 208.9,198.3 209.2,198.8 209.2,199.6 208.8,200.3 208.3,200.6Z" fill="none" stroke="#222" stroke-width="0.55" stroke-linejoin="round"/>
<path d="M207.8,200.4 207.3,200.4 206.8,200.2 206.2,199.6 206.2,199 206.2,198.8 206.4,198.6 206.8,198.3 207.3,198.1 207.8,198.1 208.3,198.3 208.7,198.8 208.8,199.3 208.6,199.8 208.3,200.2 207.8,200.4Z" fill="none" stroke="#222" stroke-width="0.55" stroke-linejoin="round"/>
<path d="M207.6,199.8 207,199.6 206.8,199.3 206.8,199 207,198.8 207.3,198.7 207.8,198.7 208.1,199 208.1,199.6 207.6,199.8Z" fill="none" stroke="#222" stroke-width="0.55" stroke-linejoin="round"/>
</g>
<rect x="15.0" y="179.3" width="103.9" height="104.59999999999997" fill="none" stroke="#111" stroke-width="1.2"/>
<line x1="70.10" y1="179.30" x2="70.10" y2="283.90" stroke="#111" stroke-width="1.1"/>
<line x1="15.00" y1="234.80" x2="118.90" y2="234.80" stroke="#111" stroke-width="1.1"/>
<line x1="12.50" y1="188.30" x2="15.00" y2="188.30" stroke="#222" stroke-width="0.8"/>
<line x1="12.50" y1="210.30" x2="15.00" y2="210.30" stroke="#222" stroke-width="0.8"/>
<line x1="12.50" y1="241.30" x2="15.00" y2="241.30" stroke="#222" stroke-width="0.8"/>
<line x1="12.50" y1="261.30" x2="15.00" y2="261.30" stroke="#222" stroke-width="0.8"/>
<line x1="12.50" y1="262.80" x2="15.00" y2="262.80" stroke="#222" stroke-width="0.8"/>
<line x1="12.50" y1="264.30" x2="15.00" y2="264.30" stroke="#222" stroke-width="0.8"/>
<line x1="12.50" y1="279.30" x2="15.00" y2="279.30" stroke="#222" stroke-width="0.8"/>
<line x1="30.00" y1="283.90" x2="30.00" y2="286.40" stroke="#222" stroke-width="0.8"/>
<line x1="50.00" y1="283.90" x2="50.00" y2="286.40" stroke="#222" stroke-width="0.8"/>
<line x1="51.00" y1="283.90" x2="51.00" y2="286.40" stroke="#222" stroke-width="0.8"/>
<line x1="52.00" y1="283.90" x2="52.00" y2="286.40" stroke="#222" stroke-width="0.8"/>
<line x1="53.00" y1="283.90" x2="53.00" y2="286.40" stroke="#222" stroke-width="0.8"/>
<line x1="75.00" y1="283.90" x2="75.00" y2="286.40" stroke="#222" stroke-width="0.8"/>
<line x1="105.00" y1="283.90" x2="105.00" y2="286.40" stroke="#222" stroke-width="0.8"/>
<rect x="123.3" y="179.3" width="104.50000000000001" height="104.59999999999997" fill="none" stroke="#111" stroke-width="1.2"/>
<line x1="178.40" y1="179.30" x2="178.40" y2="283.90" stroke="#111" stroke-width="1.1"/>
<line x1="123.30" y1="234.80" x2="227.80" y2="234.80" stroke="#111" stroke-width="1.1"/>
<line x1="120.80" y1="188.30" x2="123.30" y2="188.30" stroke="#222" stroke-width="0.8"/>
<line x1="120.80" y1="210.30" x2="123.30" y2="210.30" stroke="#222" stroke-width="0.8"/>
<line x1="120.80" y1="241.30" x2="123.30" y2="241.30" stroke="#222" stroke-width="0.8"/>
<line x1="120.80" y1="261.30" x2="123.30" y2="261.30" stroke="#222" stroke-width="0.8"/>
<line x1="120.80" y1="262.80" x2="123.30" y2="262.80" stroke="#222" stroke-width="0.8"/>
<line x1="120.80" y1="264.30" x2="123.30" y2="264.30" stroke="#222" stroke-width="0.8"/>
<line x1="120.80" y1="279.30" x2="123.30" y2="279.30" stroke="#222" stroke-width="0.8"/>
<line x1="138.30" y1="283.90" x2="138.30" y2="286.40" stroke="#222" stroke-width="0.8"/>
<line x1="158.30" y1="283.90" x2="158.30" y2="286.40" stroke="#222" stroke-width="0.8"/>
<line x1="159.30" y1="283.90" x2="159.30" y2="286.40" stroke="#222" stroke-width="0.8"/>
<line x1="160.30" y1="283.90" x2="160.30" y2="286.40" stroke="#222" stroke-width="0.8"/>
<line x1="161.30" y1="283.90" x2="161.30" y2="286.40" stroke="#222" stroke-width="0.8"/>
<line x1="183.30" y1="283.90" x2="183.30" y2="286.40" stroke="#222" stroke-width="0.8"/>
<line x1="213.30" y1="283.90" x2="213.30" y2="286.40" stroke="#222" stroke-width="0.8"/>
<text x="67.50" y="175.90" font-size="10.8" text-anchor="middle" textLength="13.50" lengthAdjust="spacingAndGlyphs">HC</text>
<text x="175.20" y="175.50" font-size="10.8" text-anchor="middle" textLength="13.50" lengthAdjust="spacingAndGlyphs">II-1</text>
<text x="30.50" y="189.60" font-size="7.6" textLength="21.50" lengthAdjust="spacingAndGlyphs">30.5%</text>
<text x="82.50" y="189.60" font-size="7.6" textLength="21.25" lengthAdjust="spacingAndGlyphs">58.4%</text>
<text x="30.50" y="279.10" font-size="7.6" textLength="21.50" lengthAdjust="spacingAndGlyphs">6.35%</text>
<text x="83.00" y="279.10" font-size="7.6" textLength="20.75" lengthAdjust="spacingAndGlyphs">4.75%</text>
<text x="138.70" y="189.30" font-size="7.6" textLength="21.50" lengthAdjust="spacingAndGlyphs">30.1%</text>
<text x="190.80" y="189.30" font-size="7.6" textLength="21.80" lengthAdjust="spacingAndGlyphs">55.0%</text>
<text x="138.70" y="278.70" font-size="7.6" textLength="20.90" lengthAdjust="spacingAndGlyphs">4.98%</text>
<text x="191.70" y="278.70" font-size="7.6" textLength="20.90" lengthAdjust="spacingAndGlyphs">9.90%</text>
<line x1="7.30" y1="220.20" x2="7.30" y2="181.50" stroke="#111" stroke-width="0.8"/>
<path d="M7.3,179.0 L5.6,183.6 L9.0,183.6 Z" fill="#111" stroke="none" stroke-width="1"/>
<text x="9.90" y="233.00" font-size="8.4" text-anchor="middle" textLength="22.90" lengthAdjust="spacingAndGlyphs" transform="rotate(-90 9.90 233.00)">BV421</text>
<text x="9.90" y="267.80" font-size="8.4" text-anchor="middle" textLength="31.20" lengthAdjust="spacingAndGlyphs" transform="rotate(-90 9.90 267.80)">CD45RA</text>
<text x="13.90" y="295.80" font-size="8.4" textLength="18.60" lengthAdjust="spacingAndGlyphs">CD27</text>
<text x="45.00" y="295.80" font-size="8.4" textLength="22.40" lengthAdjust="spacingAndGlyphs">BV605</text>
<line x1="72.50" y1="292.80" x2="227.00" y2="292.80" stroke="#111" stroke-width="0.8"/>
<path d="M229.3,292.8 L224.6,291.1 L224.6,294.5 Z" fill="#111" stroke="none" stroke-width="1"/>
<text x="229.00" y="186.40" font-size="5.6" textLength="18.30" lengthAdjust="spacingAndGlyphs">EMRA</text>
<text x="250.00" y="186.40" font-size="5.6" textLength="3.90" lengthAdjust="spacingAndGlyphs">N</text>
<text x="237.80" y="194.60" font-size="5.6" textLength="9.90" lengthAdjust="spacingAndGlyphs">EM</text>
<text x="249.60" y="194.60" font-size="5.6" textLength="10.20" lengthAdjust="spacingAndGlyphs">CM</text>
<line x1="248.80" y1="180.00" x2="248.80" y2="194.80" stroke="#000" stroke-width="1.0"/>
<line x1="238.00" y1="188.30" x2="258.80" y2="188.30" stroke="#000" stroke-width="1.0"/>
<line x1="41.60" y1="326.30" x2="41.60" y2="435.60" stroke="#111" stroke-width="1.1"/>
<line x1="41.10" y1="435.60" x2="201.30" y2="435.60" stroke="#111" stroke-width="1.1"/>
<line x1="38.60" y1="435.00" x2="41.60" y2="435.00" stroke="#111" stroke-width="1"/>
<text x="36.80" y="437.90" font-size="8.2" text-anchor="end">0</text>
<line x1="38.60" y1="413.76" x2="41.60" y2="413.76" stroke="#111" stroke-width="1"/>
<text x="36.80" y="416.66" font-size="8.2" text-anchor="end">20</text>
<line x1="38.60" y1="392.52" x2="41.60" y2="392.52" stroke="#111" stroke-width="1"/>
<text x="36.80" y="395.42" font-size="8.2" text-anchor="end">40</text>
<line x1="38.60" y1="371.28" x2="41.60" y2="371.28" stroke="#111" stroke-width="1"/>
<text x="36.80" y="374.18" font-size="8.2" text-anchor="end">60</text>
<line x1="38.60" y1="350.04" x2="41.60" y2="350.04" stroke="#111" stroke-width="1"/>
<text x="36.80" y="352.94" font-size="8.2" text-anchor="end">80</text>
<line x1="38.60" y1="328.80" x2="41.60" y2="328.80" stroke="#111" stroke-width="1"/>
<text x="36.80" y="331.70" font-size="8.2" text-anchor="end">100</text>
<line x1="60.30" y1="435.60" x2="60.30" y2="438.50" stroke="#111" stroke-width="1"/>
<line x1="100.30" y1="435.60" x2="100.30" y2="438.50" stroke="#111" stroke-width="1"/>
<line x1="140.60" y1="435.60" x2="140.60" y2="438.50" stroke="#111" stroke-width="1"/>
<line x1="182.00" y1="435.60" x2="182.00" y2="438.50" stroke="#111" stroke-width="1"/>
<text x="60.40" y="447.30" font-size="8.2" text-anchor="middle" textLength="20.80" lengthAdjust="spacingAndGlyphs">Naive</text>
<text x="93.80" y="447.30" font-size="8.2">T<tspan font-size="5.8" dy="1.8">CM</tspan></text>
<text x="135.00" y="447.30" font-size="8.2">T<tspan font-size="5.8" dy="1.8">EM</tspan></text>
<text x="182.50" y="447.30" font-size="8.2" text-anchor="middle" textLength="27.50" lengthAdjust="spacingAndGlyphs">TEMRA</text>
<text x="20.30" y="380.70" font-size="9" text-anchor="middle" textLength="64.50" lengthAdjust="spacingAndGlyphs" transform="rotate(-90 20.30 380.70)">% (in CD8<tspan font-size="6" dy="-2.8">+</tspan><tspan dy="2.8"> T cells)</tspan></text>
<circle cx="179.00" cy="335.20" r="1.6" fill="#c0102e"/>
<text x="184.00" y="337.90" font-size="8.2" textLength="9.00" lengthAdjust="spacingAndGlyphs">II-1</text>
<circle cx="179.00" cy="344.20" r="1.6" fill="#1d4f86"/>
<text x="184.00" y="346.90" font-size="8.2" textLength="14.00" lengthAdjust="spacingAndGlyphs">Het.</text>
<circle cx="179.00" cy="352.30" r="1.6" fill="#3aa84a"/>
<text x="184.00" y="355.10" font-size="8.2" textLength="10.30" lengthAdjust="spacingAndGlyphs">HC</text>
<circle cx="49.70" cy="340.20" r="1.4" fill="#3aa84a"/>
<circle cx="48.60" cy="344.10" r="1.4" fill="#3aa84a"/>
<circle cx="49.30" cy="349.80" r="1.4" fill="#3aa84a"/>
<circle cx="49.30" cy="364.60" r="1.4" fill="#3aa84a"/>
<circle cx="47.30" cy="382.60" r="1.4" fill="#3aa84a"/>
<circle cx="50.70" cy="384.00" r="1.4" fill="#3aa84a"/>
<circle cx="49.30" cy="386.50" r="1.4" fill="#3aa84a"/>
<circle cx="49.30" cy="391.10" r="1.4" fill="#3aa84a"/>
<line x1="46.00" y1="373.60" x2="52.70" y2="373.60" stroke="#222" stroke-width="1.2"/>
<rect x="59.00" y="357.90" width="2.60" height="2.60" fill="#1d4f86"/>
<circle cx="60.30" cy="376.70" r="1.3" fill="#1d4f86"/>
<path d="M60.30,380.41 L61.86,383.27 L58.74,383.27 Z" fill="#1d4f86" stroke="none" stroke-width="1"/>
<path d="M60.30,392.79 L61.86,389.93 L58.74,389.93 Z" fill="#1d4f86" stroke="none" stroke-width="1"/>
<line x1="57.00" y1="379.20" x2="63.90" y2="379.20" stroke="#222" stroke-width="1.2"/>
<path d="M71.40,374.75 L72.96,376.50 L71.40,378.25 L69.84,376.50 Z" fill="#c0102e" stroke="none" stroke-width="1"/>
<path d="M71.40,380.64 L72.96,382.40 L71.40,384.15 L69.84,382.40 Z" fill="#c0102e" stroke="none" stroke-width="1"/>
<path d="M69.70,392.35 L71.26,394.10 L69.70,395.86 L68.14,394.10 Z" fill="#c0102e" stroke="none" stroke-width="1"/>
<path d="M73.10,392.35 L74.66,394.10 L73.10,395.86 L71.54,394.10 Z" fill="#c0102e" stroke="none" stroke-width="1"/>
<line x1="68.20" y1="388.20" x2="74.90" y2="388.20" stroke="#222" stroke-width="1.2"/>
<circle cx="89.50" cy="412.50" r="1.4" fill="#3aa84a"/>
<circle cx="88.00" cy="414.50" r="1.4" fill="#3aa84a"/>
<circle cx="91.00" cy="415.30" r="1.4" fill="#3aa84a"/>
<circle cx="89.50" cy="417.80" r="1.4" fill="#3aa84a"/>
<circle cx="88.50" cy="422.50" r="1.4" fill="#3aa84a"/>
<circle cx="90.50" cy="423.00" r="1.4" fill="#3aa84a"/>
<circle cx="89.50" cy="426.00" r="1.4" fill="#3aa84a"/>
<circle cx="89.50" cy="430.00" r="1.4" fill="#3aa84a"/>
<line x1="86.30" y1="420.50" x2="92.60" y2="420.50" stroke="#222" stroke-width="1.2"/>
<path d="M100.20,411.89 L101.76,409.03 L98.64,409.03 Z" fill="#1d4f86" stroke="none" stroke-width="1"/>
<circle cx="100.20" cy="415.00" r="1.3" fill="#1d4f86"/>
<path d="M100.20,420.81 L101.76,423.67 L98.64,423.67 Z" fill="#1d4f86" stroke="none" stroke-width="1"/>
<rect x="98.90" y="424.20" width="2.60" height="2.60" fill="#1d4f86"/>
<line x1="97.00" y1="419.50" x2="104.50" y2="419.50" stroke="#222" stroke-width="1.2"/>
<path d="M110.50,412.75 L112.06,414.50 L110.50,416.25 L108.94,414.50 Z" fill="#c0102e" stroke="none" stroke-width="1"/>
<path d="M113.50,412.75 L115.06,414.50 L113.50,416.25 L111.94,414.50 Z" fill="#c0102e" stroke="none" stroke-width="1"/>
<path d="M112.00,415.55 L113.56,417.30 L112.00,419.06 L110.44,417.30 Z" fill="#c0102e" stroke="none" stroke-width="1"/>
<path d="M112.00,420.75 L113.56,422.50 L112.00,424.25 L110.44,422.50 Z" fill="#c0102e" stroke="none" stroke-width="1"/>
<line x1="108.50" y1="416.30" x2="115.50" y2="416.30" stroke="#222" stroke-width="1.2"/>
<circle cx="130.75" cy="421.25" r="1.4" fill="#3aa84a"/>
<circle cx="129.50" cy="423.75" r="1.4" fill="#3aa84a"/>
<circle cx="132.00" cy="427.00" r="1.4" fill="#3aa84a"/>
<circle cx="130.75" cy="430.00" r="1.4" fill="#3aa84a"/>
<circle cx="129.00" cy="432.50" r="1.4" fill="#3aa84a"/>
<circle cx="132.50" cy="432.50" r="1.4" fill="#3aa84a"/>
<line x1="127.00" y1="429.30" x2="133.80" y2="429.30" stroke="#222" stroke-width="1.2"/>
<circle cx="140.75" cy="425.00" r="1.3" fill="#1d4f86"/>
<path d="M139.50,425.51 L141.06,428.37 L137.94,428.37 Z" fill="#1d4f86" stroke="none" stroke-width="1"/>
<rect x="140.70" y="427.50" width="2.60" height="2.60" fill="#1d4f86"/>
<path d="M140.75,432.19 L142.31,429.33 L139.19,429.33 Z" fill="#1d4f86" stroke="none" stroke-width="1"/>
<line x1="137.50" y1="427.50" x2="144.00" y2="427.50" stroke="#222" stroke-width="1.2"/>
<path d="M152.00,415.25 L153.56,417.00 L152.00,418.75 L150.44,417.00 Z" fill="#c0102e" stroke="none" stroke-width="1"/>
<path d="M150.50,420.75 L152.06,422.50 L150.50,424.25 L148.94,422.50 Z" fill="#c0102e" stroke="none" stroke-width="1"/>
<path d="M153.50,423.25 L155.06,425.00 L153.50,426.75 L151.94,425.00 Z" fill="#c0102e" stroke="none" stroke-width="1"/>
<path d="M152.00,426.25 L153.56,428.00 L152.00,429.75 L150.44,428.00 Z" fill="#c0102e" stroke="none" stroke-width="1"/>
<line x1="148.50" y1="423.80" x2="155.50" y2="423.80" stroke="#222" stroke-width="1.2"/>
<circle cx="171.25" cy="400.50" r="1.4" fill="#3aa84a"/>
<circle cx="170.00" cy="408.75" r="1.4" fill="#3aa84a"/>
<circle cx="172.50" cy="410.00" r="1.4" fill="#3aa84a"/>
<circle cx="171.25" cy="420.50" r="1.4" fill="#3aa84a"/>
<circle cx="170.00" cy="431.25" r="1.4" fill="#3aa84a"/>
<circle cx="172.50" cy="433.00" r="1.4" fill="#3aa84a"/>
<line x1="167.00" y1="415.50" x2="174.50" y2="415.50" stroke="#222" stroke-width="1.2"/>
<path d="M182.00,397.81 L183.56,400.67 L180.44,400.67 Z" fill="#1d4f86" stroke="none" stroke-width="1"/>
<circle cx="182.00" cy="403.00" r="1.3" fill="#1d4f86"/>
<path d="M182.00,416.69 L183.56,413.83 L180.44,413.83 Z" fill="#1d4f86" stroke="none" stroke-width="1"/>
<rect x="180.70" y="423.20" width="2.60" height="2.60" fill="#1d4f86"/>
<line x1="178.80" y1="409.50" x2="186.30" y2="409.50" stroke="#222" stroke-width="1.2"/>
<path d="M193.75,397.75 L195.31,399.50 L193.75,401.25 L192.19,399.50 Z" fill="#c0102e" stroke="none" stroke-width="1"/>
<path d="M192.50,402.00 L194.06,403.75 L192.50,405.50 L190.94,403.75 Z" fill="#c0102e" stroke="none" stroke-width="1"/>
<path d="M195.00,405.75 L196.56,407.50 L195.00,409.25 L193.44,407.50 Z" fill="#c0102e" stroke="none" stroke-width="1"/>
<path d="M193.75,413.25 L195.31,415.00 L193.75,416.75 L192.19,415.00 Z" fill="#c0102e" stroke="none" stroke-width="1"/>
<line x1="190.30" y1="407.00" x2="197.30" y2="407.00" stroke="#222" stroke-width="1.2"/>
<clipPath id="cb5"><rect x="292.1" y="350.8" width="111.79999999999995" height="81.5"/></clipPath>
<g clip-path="url(#cb5)">
<line x1="292.10" y1="375.30" x2="403.90" y2="375.30" stroke="#d2385c" stroke-width="1.3"/>
<path d="M318.00,375.30 L318.00,375.27 L318.50,375.25 L319.00,375.22 L319.50,375.16 L320.00,375.07 L320.50,374.92 L321.00,374.70 L321.50,374.38 L322.00,373.92 L322.50,373.29 L323.00,372.46 L323.50,371.39 L324.00,370.06 L324.50,368.48 L325.00,366.67 L325.50,364.67 L326.00,362.56 L326.50,360.46 L327.00,358.48 L327.50,356.77 L328.00,355.43 L328.50,354.59 L329.00,354.30 L329.50,354.55 L330.00,355.30 L330.50,356.48 L331.00,358.03 L331.50,359.82 L332.00,361.77 L332.50,363.75 L333.00,365.69 L333.50,367.49 L334.00,369.10 L334.50,370.51 L335.00,371.68 L335.50,372.63 L336.00,373.38 L336.50,373.95 L337.00,374.38 L337.50,374.68 L338.00,374.90 L338.50,375.04 L339.00,375.14 L339.50,375.20 L340.00,375.24 L340.00,375.30" fill="#f2c2cc" stroke="#d2385c" stroke-width="0.9" fill-opacity="0.8" stroke-linejoin="round"/>
<line x1="292.10" y1="386.30" x2="403.90" y2="386.30" stroke="#5a3a6c" stroke-width="1.3"/>
<path d="M318.00,386.30 L318.00,386.29 L318.50,386.29 L319.00,386.28 L319.50,386.27 L320.00,386.26 L320.50,386.24 L321.00,386.21 L321.50,386.17 L322.00,386.12 L322.50,386.05 L323.00,385.98 L323.50,385.87 L324.00,385.74 L324.50,385.54 L325.00,385.34 L325.50,385.14 L326.00,384.79 L326.50,384.46 L327.00,384.14 L327.50,383.76 L328.00,383.44 L328.50,383.06 L329.00,382.54 L329.50,382.26 L330.00,381.86 L330.50,381.52 L331.00,381.31 L331.50,380.97 L332.00,380.84 L332.50,380.65 L333.00,380.79 L333.50,380.85 L334.00,381.07 L334.50,381.24 L335.00,381.57 L335.50,381.90 L336.00,381.99 L336.50,382.25 L337.00,382.50 L337.50,382.67 L338.00,382.80 L338.50,382.75 L339.00,382.55 L339.50,382.28 L340.00,381.64 L340.50,381.13 L341.00,380.21 L341.50,379.50 L342.00,378.23 L342.50,377.16 L343.00,376.49 L343.50,375.20 L344.00,373.51 L344.50,372.71 L345.00,371.23 L345.50,370.84 L346.00,370.43 L346.50,369.35 L347.00,368.88 L347.50,369.34 L348.00,369.67 L348.50,369.75 L349.00,369.66 L349.50,370.56 L350.00,371.97 L350.50,372.80 L351.00,373.94 L351.50,375.04 L352.00,375.68 L352.50,377.18 L353.00,378.07 L353.50,379.18 L354.00,380.27 L354.50,381.00 L355.00,382.00 L355.50,382.62 L356.00,383.37 L356.50,383.88 L357.00,384.38 L357.50,384.78 L358.00,385.06 L358.50,385.35 L359.00,385.59 L359.50,385.75 L360.00,385.90 L360.50,386.00 L361.00,386.08 L361.50,386.14 L362.00,386.19 L362.50,386.22 L363.00,386.25 L363.50,386.26 L364.00,386.27 L364.50,386.28 L365.00,386.29 L365.50,386.29 L366.00,386.30 L366.50,386.30 L367.00,386.30 L367.50,386.30 L368.00,386.30 L368.00,386.30" fill="#d3c0dc" stroke="#5a3a6c" stroke-width="0.9" fill-opacity="0.8" stroke-linejoin="round"/>
<line x1="292.10" y1="397.60" x2="403.90" y2="397.60" stroke="#2c4a7e" stroke-width="1.3"/>
<path d="M318.00,397.60 L318.00,397.43 L318.50,397.37 L319.00,397.31 L319.50,397.25 L320.00,397.16 L320.50,397.04 L321.00,396.91 L321.50,396.72 L322.00,396.55 L322.50,396.35 L323.00,396.12 L323.50,395.85 L324.00,395.64 L324.50,395.28 L325.00,395.01 L325.50,394.47 L326.00,394.31 L326.50,393.69 L327.00,393.51 L327.50,392.87 L328.00,392.57 L328.50,392.10 L329.00,391.44 L329.50,391.40 L330.00,390.94 L330.50,390.00 L331.00,389.78 L331.50,389.59 L332.00,388.51 L332.50,388.05 L333.00,388.19 L333.50,387.44 L334.00,387.17 L334.50,386.49 L335.00,385.65 L335.50,385.53 L336.00,384.41 L336.50,384.51 L337.00,383.81 L337.50,382.50 L338.00,382.44 L338.50,381.91 L339.00,381.21 L339.50,380.96 L340.00,380.75 L340.50,380.99 L341.00,379.86 L341.50,379.46 L342.00,379.49 L342.50,380.18 L343.00,381.15 L343.50,381.97 L344.00,382.64 L344.50,383.92 L345.00,385.86 L345.50,387.15 L346.00,388.48 L346.50,389.77 L347.00,390.93 L347.50,392.29 L348.00,393.51 L348.50,394.17 L349.00,395.04 L349.50,395.65 L350.00,396.19 L350.50,396.56 L351.00,396.86 L351.50,397.06 L352.00,397.25 L352.50,397.36 L353.00,397.44 L353.50,397.49 L354.00,397.54 L354.50,397.56 L355.00,397.58 L355.50,397.58 L356.00,397.59 L356.50,397.59 L357.00,397.60 L357.50,397.60 L358.00,397.60 L358.50,397.60 L359.00,397.60 L359.50,397.60 L360.00,397.60 L360.00,397.60" fill="#a3bfe0" stroke="#2c4a7e" stroke-width="0.9" fill-opacity="0.8" stroke-linejoin="round"/>
<line x1="292.10" y1="407.90" x2="403.90" y2="407.90" stroke="#47a3cc" stroke-width="1.3"/>
<path d="M316.00,407.90 L316.00,407.74 L316.50,407.70 L317.00,407.66 L317.50,407.61 L318.00,407.59 L318.50,407.53 L319.00,407.48 L319.50,407.40 L320.00,407.26 L320.50,407.23 L321.00,407.07 L321.50,406.99 L322.00,406.84 L322.50,406.65 L323.00,406.38 L323.50,406.22 L324.00,406.17 L324.50,405.84 L325.00,405.61 L325.50,404.99 L326.00,404.64 L326.50,404.22 L327.00,403.73 L327.50,403.27 L328.00,402.53 L328.50,402.03 L329.00,401.89 L329.50,400.56 L330.00,400.24 L330.50,399.14 L331.00,398.63 L331.50,398.09 L332.00,397.48 L332.50,396.68 L333.00,396.27 L333.50,396.08 L334.00,394.10 L334.50,393.63 L335.00,392.74 L335.50,392.98 L336.00,392.92 L336.50,392.09 L337.00,393.27 L337.50,391.59 L338.00,391.88 L338.50,392.30 L339.00,391.98 L339.50,390.89 L340.00,391.42 L340.50,390.69 L341.00,390.17 L341.50,390.69 L342.00,391.41 L342.50,390.54 L343.00,391.60 L343.50,392.17 L344.00,393.04 L344.50,393.55 L345.00,395.27 L345.50,395.23 L346.00,395.97 L346.50,398.22 L347.00,398.98 L347.50,399.96 L348.00,402.05 L348.50,402.92 L349.00,403.32 L349.50,404.15 L350.00,404.98 L350.50,405.77 L351.00,406.16 L351.50,406.46 L352.00,406.81 L352.50,407.09 L353.00,407.36 L353.50,407.46 L354.00,407.61 L354.50,407.68 L355.00,407.76 L355.50,407.79 L356.00,407.83 L356.50,407.85 L357.00,407.87 L357.50,407.88 L358.00,407.89 L358.50,407.89 L359.00,407.90 L359.50,407.90 L360.00,407.90 L360.50,407.90 L361.00,407.90 L361.50,407.90 L362.00,407.90 L362.00,407.90" fill="#b5e0f4" stroke="#47a3cc" stroke-width="0.9" fill-opacity="0.8" stroke-linejoin="round"/>
<line x1="292.10" y1="420.60" x2="403.90" y2="420.60" stroke="#24685a" stroke-width="1.3"/>
<path d="M330.00,420.60 L330.00,420.60 L330.50,420.60 L331.00,420.60 L331.50,420.60 L332.00,420.60 L332.50,420.60 L333.00,420.60 L333.50,420.60 L334.00,420.60 L334.50,420.60 L335.00,420.60 L335.50,420.59 L336.00,420.59 L336.50,420.59 L337.00,420.58 L337.50,420.57 L338.00,420.55 L338.50,420.52 L339.00,420.49 L339.50,420.45 L340.00,420.38 L340.50,420.28 L341.00,420.19 L341.50,420.00 L342.00,419.84 L342.50,419.57 L343.00,419.29 L343.50,418.89 L344.00,418.21 L344.50,417.79 L345.00,416.87 L345.50,416.32 L346.00,415.33 L346.50,414.13 L347.00,413.17 L347.50,412.57 L348.00,410.87 L348.50,409.56 L349.00,408.98 L349.50,407.98 L350.00,405.58 L350.50,405.22 L351.00,405.01 L351.50,403.86 L352.00,403.91 L352.50,402.49 L353.00,403.13 L353.50,404.15 L354.00,403.03 L354.50,405.00 L355.00,405.27 L355.50,406.48 L356.00,406.11 L356.50,408.07 L357.00,408.43 L357.50,410.04 L358.00,410.55 L358.50,411.31 L359.00,412.42 L359.50,413.36 L360.00,414.11 L360.50,414.81 L361.00,415.25 L361.50,415.98 L362.00,416.07 L362.50,416.40 L363.00,416.20 L363.50,416.21 L364.00,416.65 L364.50,416.61 L365.00,416.34 L365.50,416.45 L366.00,416.82 L366.50,416.67 L367.00,416.80 L367.50,417.32 L368.00,417.69 L368.50,417.99 L369.00,418.27 L369.50,418.82 L370.00,419.15 L370.50,419.48 L371.00,419.69 L371.50,419.94 L372.00,420.13 L372.50,420.26 L373.00,420.38 L373.50,420.45 L374.00,420.49 L374.50,420.53 L375.00,420.56 L375.50,420.57 L376.00,420.59 L376.50,420.59 L377.00,420.60 L377.50,420.60 L378.00,420.60 L378.00,420.60" fill="#a4cdbd" stroke="#24685a" stroke-width="0.9" fill-opacity="0.8" stroke-linejoin="round"/>
<path d="M322.00,432.20 L322.00,432.20 L322.50,432.20 L323.00,432.20 L323.50,432.20 L324.00,432.20 L324.50,432.20 L325.00,432.20 L325.50,432.20 L326.00,432.20 L326.50,432.20 L327.00,432.20 L327.50,432.20 L328.00,432.20 L328.50,432.20 L329.00,432.20 L329.50,432.20 L330.00,432.20 L330.50,432.20 L331.00,432.20 L331.50,432.20 L332.00,432.20 L332.50,432.20 L333.00,432.19 L333.50,432.18 L334.00,432.16 L334.50,432.12 L335.00,432.03 L335.50,431.90 L336.00,431.66 L336.50,431.25 L337.00,430.80 L337.50,430.23 L338.00,429.18 L338.50,428.09 L339.00,427.47 L339.50,425.98 L340.00,426.28 L340.50,425.56 L341.00,425.23 L341.50,424.09 L342.00,424.75 L342.50,425.20 L343.00,426.32 L343.50,426.57 L344.00,426.53 L344.50,427.50 L345.00,427.39 L345.50,427.13 L346.00,426.08 L346.50,424.78 L347.00,424.24 L347.50,423.49 L348.00,422.26 L348.50,421.94 L349.00,419.19 L349.50,419.77 L350.00,419.40 L350.50,418.68 L351.00,416.88 L351.50,418.23 L352.00,416.62 L352.50,418.52 L353.00,418.64 L353.50,420.18 L354.00,418.76 L354.50,419.90 L355.00,421.54 L355.50,423.18 L356.00,423.42 L356.50,424.57 L357.00,424.86 L357.50,425.73 L358.00,426.84 L358.50,428.06 L359.00,428.92 L359.50,428.98 L360.00,429.55 L360.50,430.37 L361.00,430.64 L361.50,430.98 L362.00,431.16 L362.50,431.54 L363.00,431.69 L363.50,431.76 L364.00,431.89 L364.50,431.98 L365.00,432.03 L365.50,432.08 L366.00,432.12 L366.50,432.15 L367.00,432.16 L367.50,432.18 L368.00,432.18 L368.50,432.19 L369.00,432.19 L369.50,432.20 L370.00,432.20 L370.50,432.20 L371.00,432.20 L371.50,432.20 L372.00,432.20 L372.50,432.20 L373.00,432.20 L373.50,432.20 L374.00,432.20 L374.00,432.20" fill="#c2eabb" stroke="#55bb5a" stroke-width="0.9" fill-opacity="0.8" stroke-linejoin="round"/>
</g>
<rect x="292.1" y="350.8" width="111.79999999999995" height="81.5" fill="none" stroke="#111" stroke-width="1.2"/>
<text x="399.40" y="373.10" font-size="7.8" text-anchor="end">4142</text>
<text x="399.40" y="384.10" font-size="7.8" text-anchor="end">8122</text>
<text x="399.40" y="395.40" font-size="7.8" text-anchor="end">6970</text>
<text x="399.40" y="405.70" font-size="7.8" text-anchor="end">6790</text>
<text x="399.40" y="418.40" font-size="7.8" text-anchor="end">10305</text>
<text x="399.40" y="430.00" font-size="7.8" text-anchor="end">10336</text>
<clipPath id="cb6"><rect x="407.0" y="350.8" width="111.20000000000005" height="81.5"/></clipPath>
<g clip-path="url(#cb6)">
<line x1="407.00" y1="375.30" x2="518.20" y2="375.30" stroke="#d2385c" stroke-width="1.3"/>
<path d="M430.00,375.30 L430.00,375.30 L430.50,375.30 L431.00,375.30 L431.50,375.29 L432.00,375.29 L432.50,375.27 L433.00,375.25 L433.50,375.20 L434.00,375.12 L434.50,374.98 L435.00,374.75 L435.50,374.39 L436.00,373.85 L436.50,373.08 L437.00,372.03 L437.50,370.65 L438.00,368.93 L438.50,366.89 L439.00,364.61 L439.50,362.20 L440.00,359.83 L440.50,357.69 L441.00,355.98 L441.50,354.88 L442.00,354.50 L442.50,354.79 L443.00,355.62 L443.50,356.94 L444.00,358.64 L444.50,360.60 L445.00,362.68 L445.50,364.77 L446.00,366.75 L446.50,368.55 L447.00,370.11 L447.50,371.43 L448.00,372.49 L448.50,373.31 L449.00,373.93 L449.50,374.39 L450.00,374.71 L450.50,374.92 L451.00,375.07 L451.50,375.16 L452.00,375.22 L452.00,375.30" fill="#f2c2cc" stroke="#d2385c" stroke-width="0.9" fill-opacity="0.8" stroke-linejoin="round"/>
<line x1="407.00" y1="386.30" x2="518.20" y2="386.30" stroke="#5a3a6c" stroke-width="1.3"/>
<path d="M453.00,386.30 L453.00,386.30 L453.50,386.30 L454.00,386.30 L454.50,386.30 L455.00,386.30 L455.50,386.30 L456.00,386.29 L456.50,386.29 L457.00,386.26 L457.50,386.21 L458.00,386.10 L458.50,385.88 L459.00,385.47 L459.50,384.83 L460.00,383.68 L460.50,382.26 L461.00,380.30 L461.50,378.07 L462.00,375.00 L462.50,372.80 L463.00,370.83 L463.50,370.01 L464.00,370.40 L464.50,370.66 L465.00,371.46 L465.50,372.76 L466.00,372.73 L466.50,373.28 L467.00,373.00 L467.50,371.62 L468.00,371.33 L468.50,369.94 L469.00,370.27 L469.50,370.73 L470.00,372.13 L470.50,373.77 L471.00,376.04 L471.50,378.24 L472.00,379.93 L472.50,381.91 L473.00,383.22 L473.50,384.38 L474.00,385.07 L474.50,385.59 L475.00,385.91 L475.50,386.10 L476.00,386.20 L476.50,386.25 L477.00,386.28 L477.50,386.29 L478.00,386.30 L478.50,386.30 L479.00,386.30 L479.50,386.30 L480.00,386.30 L480.50,386.30 L481.00,386.30 L481.00,386.30" fill="#d3c0dc" stroke="#5a3a6c" stroke-width="0.9" fill-opacity="0.8" stroke-linejoin="round"/>
<line x1="407.00" y1="397.60" x2="518.20" y2="397.60" stroke="#2c4a7e" stroke-width="1.3"/>
<path d="M451.00,397.60 L451.00,397.60 L451.50,397.60 L452.00,397.60 L452.50,397.59 L453.00,397.59 L453.50,397.58 L454.00,397.57 L454.50,397.55 L455.00,397.52 L455.50,397.48 L456.00,397.41 L456.50,397.33 L457.00,397.19 L457.50,396.98 L458.00,396.73 L458.50,396.36 L459.00,395.92 L459.50,395.45 L460.00,394.57 L460.50,393.75 L461.00,392.81 L461.50,391.68 L462.00,389.96 L462.50,388.61 L463.00,386.71 L463.50,385.18 L464.00,383.31 L464.50,382.20 L465.00,380.62 L465.50,379.56 L466.00,379.20 L466.50,377.58 L467.00,378.39 L467.50,377.85 L468.00,378.16 L468.50,379.51 L469.00,381.37 L469.50,381.88 L470.00,383.64 L470.50,385.75 L471.00,387.46 L471.50,388.65 L472.00,390.45 L472.50,391.32 L473.00,392.74 L473.50,393.77 L474.00,394.68 L474.50,395.35 L475.00,395.89 L475.50,396.42 L476.00,396.75 L476.50,397.00 L477.00,397.20 L477.50,397.32 L478.00,397.42 L478.50,397.48 L479.00,397.52 L479.50,397.55 L480.00,397.57 L480.50,397.58 L481.00,397.59 L481.50,397.59 L482.00,397.60 L482.00,397.60" fill="#a3bfe0" stroke="#2c4a7e" stroke-width="0.9" fill-opacity="0.8" stroke-linejoin="round"/>
<line x1="407.00" y1="407.90" x2="518.20" y2="407.90" stroke="#47a3cc" stroke-width="1.3"/>
<path d="M451.00,407.90 L451.00,407.90 L451.50,407.90 L452.00,407.90 L452.50,407.90 L453.00,407.90 L453.50,407.90 L454.00,407.90 L454.50,407.90 L455.00,407.90 L455.50,407.90 L456.00,407.89 L456.50,407.88 L457.00,407.87 L457.50,407.82 L458.00,407.73 L458.50,407.57 L459.00,407.28 L459.50,406.77 L460.00,406.08 L460.50,405.11 L461.00,403.40 L461.50,401.65 L462.00,399.47 L462.50,397.26 L463.00,394.68 L463.50,393.70 L464.00,391.87 L464.50,391.90 L465.00,391.56 L465.50,391.84 L466.00,392.97 L466.50,393.80 L467.00,393.46 L467.50,393.00 L468.00,392.81 L468.50,392.57 L469.00,391.95 L469.50,392.71 L470.00,393.24 L470.50,394.06 L471.00,394.95 L471.50,397.52 L472.00,399.52 L472.50,401.39 L473.00,403.10 L473.50,404.42 L474.00,405.48 L474.50,406.30 L475.00,406.96 L475.50,407.35 L476.00,407.59 L476.50,407.74 L477.00,407.81 L477.50,407.86 L478.00,407.88 L478.50,407.89 L479.00,407.90 L479.50,407.90 L480.00,407.90 L480.50,407.90 L481.00,407.90 L481.00,407.90" fill="#b5e0f4" stroke="#47a3cc" stroke-width="0.9" fill-opacity="0.8" stroke-linejoin="round"/>
<line x1="407.00" y1="420.60" x2="518.20" y2="420.60" stroke="#24685a" stroke-width="1.3"/>
<path d="M469.00,420.60 L469.00,420.60 L469.50,420.59 L470.00,420.59 L470.50,420.57 L471.00,420.55 L471.50,420.51 L472.00,420.45 L472.50,420.34 L473.00,420.21 L473.50,419.96 L474.00,419.62 L474.50,419.14 L475.00,418.57 L475.50,417.64 L476.00,416.52 L476.50,415.65 L477.00,413.97 L477.50,411.92 L478.00,410.25 L478.50,408.69 L479.00,407.06 L479.50,404.40 L480.00,404.37 L480.50,402.09 L481.00,401.22 L481.50,402.22 L482.00,401.91 L482.50,402.21 L483.00,402.21 L483.50,403.06 L484.00,402.75 L484.50,403.38 L485.00,405.08 L485.50,405.01 L486.00,407.18 L486.50,408.27 L487.00,408.94 L487.50,410.37 L488.00,412.04 L488.50,413.60 L489.00,415.27 L489.50,416.88 L490.00,417.85 L490.50,418.71 L491.00,419.48 L491.50,419.88 L492.00,420.19 L492.50,420.37 L493.00,420.47 L493.50,420.53 L494.00,420.56 L494.50,420.58 L495.00,420.59 L495.50,420.60 L496.00,420.60 L496.50,420.60 L497.00,420.60 L497.00,420.60" fill="#a4cdbd" stroke="#24685a" stroke-width="0.9" fill-opacity="0.8" stroke-linejoin="round"/>
<path d="M458.00,432.20 L458.00,432.18 L458.50,432.17 L459.00,432.15 L459.50,432.14 L460.00,432.09 L460.50,432.05 L461.00,432.01 L461.50,431.89 L462.00,431.82 L462.50,431.68 L463.00,431.49 L463.50,431.24 L464.00,431.07 L464.50,430.59 L465.00,430.12 L465.50,429.78 L466.00,429.09 L466.50,428.59 L467.00,427.78 L467.50,427.67 L468.00,426.81 L468.50,425.97 L469.00,425.76 L469.50,423.76 L470.00,423.59 L470.50,423.90 L471.00,422.43 L471.50,422.22 L472.00,422.21 L472.50,421.85 L473.00,420.75 L473.50,421.27 L474.00,419.66 L474.50,419.34 L475.00,419.91 L475.50,417.42 L476.00,419.28 L476.50,418.46 L477.00,416.09 L477.50,417.53 L478.00,416.58 L478.50,415.92 L479.00,416.19 L479.50,415.99 L480.00,416.04 L480.50,416.29 L481.00,417.87 L481.50,415.81 L482.00,417.78 L482.50,418.81 L483.00,418.09 L483.50,417.29 L484.00,418.16 L484.50,418.97 L485.00,419.27 L485.50,420.32 L486.00,419.77 L486.50,420.95 L487.00,422.26 L487.50,422.90 L488.00,423.86 L488.50,423.86 L489.00,424.70 L489.50,425.99 L490.00,427.58 L490.50,428.52 L491.00,428.79 L491.50,429.84 L492.00,430.50 L492.50,430.84 L493.00,431.21 L493.50,431.52 L494.00,431.74 L494.50,431.90 L495.00,432.00 L495.50,432.07 L496.00,432.12 L496.50,432.15 L497.00,432.17 L497.00,432.20" fill="#c2eabb" stroke="#55bb5a" stroke-width="0.9" fill-opacity="0.8" stroke-linejoin="round"/>
</g>
<rect x="407.0" y="350.8" width="111.20000000000005" height="81.5" fill="none" stroke="#111" stroke-width="1.2"/>
<text x="516.30" y="373.10" font-size="7.8" text-anchor="end">3825</text>
<text x="516.30" y="384.10" font-size="7.8" text-anchor="end">11181</text>
<text x="516.30" y="395.40" font-size="7.8" text-anchor="end">10473</text>
<text x="516.30" y="405.70" font-size="7.8" text-anchor="end">10395</text>
<text x="516.30" y="418.40" font-size="7.8" text-anchor="end">18267</text>
<text x="516.30" y="430.00" font-size="7.8" text-anchor="end">16565</text>
<text x="287.90" y="374.50" font-size="9.0" text-anchor="end" textLength="10.48" lengthAdjust="spacingAndGlyphs">II-1</text>
<text x="287.90" y="385.50" font-size="9.0" text-anchor="end" textLength="8.46" lengthAdjust="spacingAndGlyphs">I-1</text>
<text x="287.90" y="396.50" font-size="9.0" text-anchor="end" textLength="8.46" lengthAdjust="spacingAndGlyphs">I-2</text>
<text x="287.90" y="407.60" font-size="9.0" text-anchor="end" textLength="10.48" lengthAdjust="spacingAndGlyphs">II-2</text>
<text x="287.90" y="418.80" font-size="9.0" text-anchor="end" textLength="14.51" lengthAdjust="spacingAndGlyphs">HC1</text>
<text x="287.90" y="430.10" font-size="9.0" text-anchor="end" textLength="14.51" lengthAdjust="spacingAndGlyphs">HC2</text>
<text x="348.00" y="346.40" font-size="10.5" text-anchor="middle" fill="#111" textLength="24.20" lengthAdjust="spacingAndGlyphs">Naive</text>
<text x="463.40" y="346.40" font-size="10.5" text-anchor="middle" fill="#111" textLength="35.70" lengthAdjust="spacingAndGlyphs">Memory</text>
<line x1="299.50" y1="432.30" x2="299.50" y2="434.50" stroke="#222" stroke-width="0.8"/>
<line x1="300.50" y1="432.30" x2="300.50" y2="434.50" stroke="#222" stroke-width="0.8"/>
<line x1="301.50" y1="432.30" x2="301.50" y2="434.50" stroke="#222" stroke-width="0.8"/>
<line x1="303.00" y1="432.30" x2="303.00" y2="434.50" stroke="#222" stroke-width="0.8"/>
<line x1="306.00" y1="432.30" x2="306.00" y2="434.50" stroke="#222" stroke-width="0.8"/>
<line x1="309.00" y1="432.30" x2="309.00" y2="434.50" stroke="#222" stroke-width="0.8"/>
<line x1="312.50" y1="432.30" x2="312.50" y2="434.50" stroke="#222" stroke-width="0.8"/>
<line x1="331.00" y1="432.30" x2="331.00" y2="434.50" stroke="#222" stroke-width="0.8"/>
<line x1="351.00" y1="432.30" x2="351.00" y2="434.50" stroke="#222" stroke-width="0.8"/>
<line x1="372.00" y1="432.30" x2="372.00" y2="434.50" stroke="#222" stroke-width="0.8"/>
<line x1="414.50" y1="432.30" x2="414.50" y2="434.50" stroke="#222" stroke-width="0.8"/>
<line x1="415.50" y1="432.30" x2="415.50" y2="434.50" stroke="#222" stroke-width="0.8"/>
<line x1="416.50" y1="432.30" x2="416.50" y2="434.50" stroke="#222" stroke-width="0.8"/>
<line x1="418.00" y1="432.30" x2="418.00" y2="434.50" stroke="#222" stroke-width="0.8"/>
<line x1="421.00" y1="432.30" x2="421.00" y2="434.50" stroke="#222" stroke-width="0.8"/>
<line x1="424.00" y1="432.30" x2="424.00" y2="434.50" stroke="#222" stroke-width="0.8"/>
<line x1="427.50" y1="432.30" x2="427.50" y2="434.50" stroke="#222" stroke-width="0.8"/>
<line x1="446.00" y1="432.30" x2="446.00" y2="434.50" stroke="#222" stroke-width="0.8"/>
<line x1="466.00" y1="432.30" x2="466.00" y2="434.50" stroke="#222" stroke-width="0.8"/>
<line x1="487.00" y1="432.30" x2="487.00" y2="434.50" stroke="#222" stroke-width="0.8"/>
<text x="291.90" y="445.10" font-size="8.4" textLength="23.30" lengthAdjust="spacingAndGlyphs">NFAT1</text>
<text x="338.20" y="445.10" font-size="8.4" textLength="23.80" lengthAdjust="spacingAndGlyphs">AF647</text>
<line x1="365.40" y1="442.30" x2="516.00" y2="442.30" stroke="#111" stroke-width="0.8"/>
<path d="M519.6,442.3 L514.6,440.5 L514.6,444.1 Z" fill="#111" stroke="none" stroke-width="1"/>
<clipPath id="cb7"><rect x="17.2" y="479.5" width="105.1" height="104.39999999999998"/></clipPath>
<g clip-path="url(#cb7)">
<path d="M20.5 546.3h0M77.4 576.0h0M75.5 575.4h0M66.5 533.5h0M46.8 528.0h0M115.7 530.4h0M17.4 516.4h0M38.0 544.6h0M70.7 529.2h0M114.6 559.1h0M26.4 482.7h0M90.8 541.8h0M85.8 531.7h0M21.0 526.7h0M105.0 542.3h0M21.8 492.5h0M112.3 536.4h0M34.5 553.3h0M114.4 569.8h0M85.0 563.8h0M26.4 527.9h0M102.4 515.1h0M32.3 569.9h0M91.3 480.3h0M23.9 537.7h0M117.5 544.0h0M109.3 490.5h0M77.7 498.5h0M52.1 495.1h0M65.9 484.3h0M86.2 547.0h0M112.3 559.7h0M25.1 570.2h0M74.3 577.2h0M68.9 488.0h0M91.2 497.6h0M120.6 535.8h0M112.0 530.9h0M51.5 548.6h0M91.8 527.5h0M46.2 523.4h0M92.3 503.3h0M33.8 530.0h0M86.4 486.5h0M45.7 580.9h0M45.3 560.1h0M49.3 488.5h0M68.3 570.3h0M98.9 484.5h0M91.1 544.3h0M67.9 548.9h0M72.0 498.6h0M90.3 493.0h0M49.8 568.4h0M76.9 532.9h0M91.8 530.9h0M57.6 537.2h0M19.5 516.2h0M21.3 583.5h0M112.6 547.8h0M33.8 568.8h0M46.9 563.5h0M85.6 542.7h0M95.1 507.4h0M104.9 536.1h0M96.8 567.2h0M44.0 522.4h0M55.2 487.5h0M109.2 551.1h0M68.7 536.4h0M109.7 486.8h0M54.8 551.2h0M73.4 531.4h0M44.4 502.8h0M87.6 515.1h0M115.7 573.7h0M119.2 508.4h0M71.3 490.4h0M55.0 487.3h0M69.9 579.4h0M97.3 517.5h0M46.2 576.7h0M22.7 567.7h0M107.2 486.7h0M117.2 547.0h0M58.1 523.9h0M81.2 534.5h0M108.4 573.0h0M51.5 480.4h0M99.0 547.1h0M86.0 487.3h0M25.2 573.3h0M55.4 528.9h0M119.5 499.9h0M84.0 485.9h0M76.2 556.6h0M33.7 558.8h0M119.0 565.7h0M100.3 578.4h0M92.5 536.7h0M103.8 563.7h0M83.3 549.3h0M35.9 514.8h0M51.4 569.2h0M99.3 509.8h0M121.7 485.7h0M23.7 513.7h0M25.3 578.7h0M54.9 520.0h0M107.1 535.1h0M83.5 525.4h0M65.6 579.4h0M46.3 534.4h0M67.5 494.2h0M32.6 532.4h0M101.1 524.6h0M23.4 577.1h0M31.7 571.8h0M21.9 547.3h0M32.6 506.7h0" stroke="#999" stroke-width="0.60" stroke-linecap="round" stroke-opacity="0.5" fill="none"/>
</g>
<clipPath id="cb8"><rect x="129.2" y="479.5" width="104.5" height="104.39999999999998"/></clipPath>
<g clip-path="url(#cb8)">
<path d="M173.3 558.4h0M174.7 523.2h0M171.2 533.9h0M158.5 579.0h0M149.1 493.3h0M186.5 516.2h0M204.6 483.6h0M199.9 517.5h0M226.1 510.8h0M174.4 512.6h0M184.9 508.8h0M199.2 522.5h0M203.2 509.9h0M176.9 537.7h0M204.3 547.6h0M174.0 488.5h0M140.9 494.8h0M148.4 498.6h0M198.4 515.1h0M224.1 503.9h0M154.9 498.6h0M144.3 550.7h0M189.6 505.7h0M213.9 550.0h0M174.0 543.0h0M197.8 525.5h0M138.8 517.6h0M228.1 518.5h0M196.0 488.7h0M210.1 569.7h0M168.2 518.3h0M182.8 505.8h0M151.1 492.9h0M201.0 532.7h0M229.1 580.0h0M220.6 578.1h0M216.8 482.1h0M142.7 581.4h0M220.5 543.8h0M193.9 525.1h0M173.6 494.7h0M186.5 508.2h0M141.9 570.4h0M189.3 571.0h0M159.9 539.7h0M158.1 566.2h0M151.0 547.1h0M187.2 513.5h0M137.6 530.3h0M183.9 564.9h0M150.4 498.9h0M161.1 563.3h0M153.5 545.7h0M132.6 488.1h0M203.2 531.4h0M141.0 528.9h0M227.5 520.3h0M187.4 523.4h0M182.0 484.0h0M221.5 540.0h0M165.5 509.2h0M148.7 577.0h0M217.1 519.0h0M192.2 537.2h0M150.1 483.0h0M206.0 496.5h0M188.2 481.3h0M131.5 496.6h0M197.5 543.5h0M232.8 548.4h0M183.8 480.9h0M229.3 530.5h0M218.9 483.9h0M216.5 529.2h0M151.9 521.9h0M137.1 540.1h0M152.1 552.8h0M147.4 551.5h0M193.7 553.8h0M228.5 510.3h0M200.6 521.0h0M222.6 565.7h0M209.0 542.1h0M156.5 574.3h0M230.4 578.7h0M164.5 565.3h0M200.1 567.2h0M213.0 527.0h0M170.5 562.6h0M197.6 535.8h0M220.5 482.8h0M130.6 528.0h0M139.4 567.4h0M138.4 571.6h0M152.7 493.5h0M208.0 550.2h0M172.1 541.7h0M187.0 578.5h0M182.2 535.8h0M177.5 522.5h0M201.3 491.1h0M201.5 576.4h0M208.7 536.2h0M166.1 489.7h0M138.8 535.8h0M221.2 569.9h0M148.4 557.7h0M213.5 529.6h0M218.9 499.0h0M164.3 533.2h0M205.1 526.4h0M160.8 570.0h0M170.2 523.3h0M152.6 529.9h0M203.0 517.3h0M198.4 531.0h0M130.4 580.0h0M159.3 536.5h0M229.4 501.1h0M135.9 500.9h0" stroke="#999" stroke-width="0.60" stroke-linecap="round" stroke-opacity="0.5" fill="none"/>
</g>
<clipPath id="cb9"><rect x="17.2" y="479.5" width="105.1" height="104.39999999999998"/></clipPath>
<g clip-path="url(#cb9)">
<path d="M86.5 560.8h0M68.2 547.7h0M69.9 557.5h0M77.1 554.1h0M83.6 543.1h0M73.8 558.7h0M84.0 554.3h0M68.6 545.2h0M61.3 545.9h0M71.4 536.9h0M87.0 542.1h0M75.4 552.7h0M65.2 534.0h0M84.5 551.2h0M69.0 556.8h0M83.6 540.6h0M71.2 534.4h0M68.9 558.9h0M61.6 554.4h0M53.1 545.7h0M84.2 561.3h0M78.0 553.9h0M94.0 529.1h0M50.5 562.6h0M103.5 552.6h0M73.1 550.0h0M72.6 543.3h0M72.0 547.1h0M80.7 553.3h0M84.7 552.6h0M59.9 558.8h0M38.3 548.9h0M76.4 543.9h0M96.0 539.6h0M57.4 544.1h0M77.5 554.2h0M73.6 553.2h0M63.3 543.3h0M73.9 537.6h0M74.6 545.0h0M80.9 540.2h0M65.5 543.6h0M67.6 540.3h0M68.9 537.6h0M79.0 553.2h0M72.0 546.6h0M61.0 540.6h0M69.4 541.0h0M57.4 549.3h0M72.0 544.9h0M61.9 547.6h0M63.5 544.7h0M74.6 553.6h0M81.8 543.3h0M87.5 539.1h0M70.0 558.1h0M102.2 549.0h0M67.7 545.1h0M56.9 546.9h0M66.9 542.2h0M87.3 542.0h0M93.6 554.5h0M80.3 543.5h0M65.8 532.6h0M75.7 545.9h0M77.1 542.8h0M78.3 536.5h0M44.6 551.7h0M85.7 523.7h0M88.4 545.3h0M70.2 536.1h0M59.6 553.5h0M62.9 547.7h0M70.3 563.4h0M83.4 537.8h0M66.2 539.1h0M54.7 542.7h0M86.1 548.4h0M80.7 547.0h0M66.9 548.7h0M71.2 562.9h0M94.8 550.9h0M79.8 532.6h0M70.7 566.5h0M62.2 554.3h0M87.5 544.9h0M69.4 544.5h0M82.2 548.2h0M91.1 557.2h0M72.1 568.1h0M68.3 543.3h0M69.2 541.2h0M66.9 547.5h0M83.4 535.8h0M54.6 542.0h0M68.4 551.5h0M62.3 559.7h0M65.5 546.3h0M72.9 557.1h0M75.9 548.2h0M65.4 549.3h0M77.2 545.3h0M71.9 533.8h0M65.5 557.2h0M90.0 547.4h0M45.1 562.2h0M70.0 567.9h0M67.0 555.8h0M64.4 558.6h0M86.7 539.8h0M88.4 570.2h0M69.4 538.6h0M75.6 544.9h0M53.4 539.9h0M75.2 536.2h0M85.7 551.5h0M69.9 558.9h0M60.6 553.3h0M55.2 545.5h0M80.2 543.9h0M70.7 553.0h0M91.2 558.1h0M77.9 546.0h0M54.0 561.3h0M95.6 531.3h0M83.0 547.7h0M81.0 550.5h0M69.7 548.0h0M71.7 557.1h0M68.9 543.8h0M80.3 553.0h0M77.6 550.2h0M90.6 556.7h0M74.8 546.4h0M80.4 533.5h0M65.6 542.5h0M74.3 545.0h0M103.0 553.7h0M77.2 565.5h0M72.1 545.5h0M87.5 554.4h0M83.7 557.4h0M67.6 542.9h0M63.1 548.8h0M84.7 539.8h0M65.4 537.6h0M97.1 554.2h0M74.9 538.5h0M59.2 543.0h0M72.5 538.1h0M69.3 557.5h0M72.3 548.8h0M45.9 545.9h0M70.3 542.6h0M54.8 547.4h0M59.3 543.8h0M52.2 547.3h0M83.5 541.5h0M76.2 536.2h0M79.4 552.2h0M67.3 554.9h0M61.2 548.4h0M93.2 547.8h0M58.1 557.0h0M78.8 545.8h0M49.4 533.3h0M53.1 559.6h0M75.8 541.4h0M86.5 559.4h0M61.6 551.8h0M51.6 550.9h0M94.8 537.0h0M72.8 543.1h0M71.0 548.7h0M75.6 554.9h0M78.5 556.2h0M84.8 556.6h0M63.7 551.2h0M67.5 541.4h0M96.5 550.3h0M72.7 531.6h0M69.2 554.0h0M69.6 543.8h0M90.5 545.6h0M68.0 547.2h0M69.2 556.2h0M79.2 547.5h0M67.6 546.2h0M93.2 545.6h0M80.3 535.7h0M76.1 553.4h0M88.0 550.5h0M79.3 550.5h0M85.4 564.0h0M74.6 541.6h0M79.5 547.1h0M80.1 554.1h0M74.0 544.6h0M75.9 538.3h0M75.5 541.1h0M77.7 549.0h0M69.4 538.6h0M72.7 542.7h0M70.4 553.4h0M84.0 537.9h0M83.8 558.6h0M86.1 550.2h0M71.0 561.6h0M68.1 536.1h0M73.3 550.2h0M59.2 538.5h0M96.8 548.9h0M81.8 543.4h0M53.3 546.6h0M88.8 542.8h0M49.9 546.7h0M68.6 548.1h0M59.2 545.6h0M65.4 554.9h0M74.0 554.8h0M71.5 531.3h0M47.8 552.2h0M83.0 554.8h0M71.2 534.1h0M66.0 551.2h0M89.3 545.3h0M65.2 542.0h0M84.8 554.8h0M49.4 557.5h0M60.7 536.5h0M52.3 542.3h0M101.0 567.9h0M56.7 542.8h0M74.1 551.2h0M66.2 535.6h0M67.0 542.7h0M49.9 549.1h0M53.9 534.4h0M91.0 555.3h0M90.1 548.9h0M67.0 547.3h0M55.1 553.8h0M75.5 545.6h0M48.9 547.1h0M92.4 559.3h0M83.0 545.3h0M73.9 552.3h0M74.6 556.2h0M63.9 529.9h0M42.0 540.9h0M54.9 553.2h0M85.5 548.0h0M78.9 548.6h0M74.3 544.3h0M67.1 557.3h0M68.8 547.7h0M87.0 555.7h0M67.3 550.0h0M59.6 549.0h0M76.1 548.0h0M74.2 550.9h0M40.6 541.6h0M73.1 544.2h0M60.1 546.1h0M92.2 546.2h0M64.1 544.3h0M57.3 551.8h0M59.9 555.1h0M83.5 552.5h0M85.1 547.3h0M50.3 547.5h0M80.1 535.9h0M56.9 556.6h0M77.6 558.5h0M80.5 548.5h0M77.5 554.6h0M71.8 546.4h0M76.1 545.5h0M102.2 542.0h0M53.3 537.9h0M85.2 544.8h0M74.1 546.3h0M75.6 536.7h0M73.2 543.5h0M85.7 552.9h0M56.4 540.4h0M79.3 557.4h0M81.7 546.8h0M86.0 529.6h0M65.5 540.4h0M59.3 552.4h0M75.6 550.2h0M70.5 552.9h0M82.0 543.5h0M83.9 540.7h0M94.2 537.8h0M68.6 539.5h0M72.7 558.3h0M62.8 561.9h0M89.8 551.0h0M64.8 555.1h0M36.4 542.0h0M84.2 547.7h0M103.3 542.7h0M55.5 546.3h0M79.4 561.4h0M50.1 549.2h0M88.0 542.7h0M66.4 538.5h0M81.8 554.5h0M79.6 549.9h0M84.6 547.0h0M81.2 554.4h0M88.5 552.0h0M73.2 553.6h0M52.7 534.2h0M92.5 549.1h0M58.9 543.4h0M70.3 548.6h0M62.6 555.8h0M50.7 570.0h0M58.5 561.0h0M80.6 534.8h0M56.7 548.5h0M75.6 544.7h0M72.3 549.3h0M57.7 548.5h0M100.9 542.9h0M59.4 553.2h0M89.2 556.2h0" stroke="#555" stroke-width="0.66" stroke-linecap="round" stroke-opacity="0.7" fill="none"/>
<path d="M58.0 519.1h0M74.2 517.5h0M78.0 532.8h0M80.9 519.9h0M66.3 541.1h0M46.3 543.7h0M84.6 521.0h0M55.7 541.7h0M94.0 530.8h0M111.0 498.8h0M72.2 516.4h0M56.0 520.9h0M80.8 526.2h0M67.6 504.4h0M81.2 527.2h0M111.8 531.0h0M70.6 506.4h0M74.1 528.9h0M80.1 535.7h0M50.0 511.8h0M73.7 505.4h0M58.2 536.4h0M76.1 518.8h0M59.1 520.6h0M69.6 507.2h0M85.8 504.9h0M95.5 516.0h0M25.3 501.6h0M75.9 509.7h0M105.9 536.4h0M111.7 530.6h0M96.9 512.8h0M95.9 514.8h0M69.3 503.9h0M71.4 524.8h0M69.0 506.9h0M88.1 530.8h0M68.5 529.3h0M89.8 508.3h0M69.6 497.9h0M49.8 525.1h0M52.9 524.7h0M77.4 495.5h0M60.6 538.1h0M70.5 521.5h0M56.3 500.9h0M38.7 554.2h0M66.6 509.6h0M72.5 496.9h0M98.0 540.4h0M55.3 523.9h0M52.4 530.2h0M53.5 518.3h0M96.2 526.2h0M63.8 501.9h0M38.6 534.3h0M80.5 520.7h0M95.3 521.8h0M55.8 518.8h0M68.3 519.8h0M119.9 526.9h0M75.7 517.0h0M56.7 508.1h0M32.8 514.5h0M40.0 497.9h0M51.5 495.8h0M97.7 534.9h0M50.9 544.5h0M83.4 489.8h0M70.7 508.1h0M35.5 516.9h0M93.3 525.3h0M41.0 512.1h0M55.1 533.7h0M68.3 508.3h0M52.0 496.4h0M53.3 530.7h0M32.0 522.3h0M67.9 529.8h0M47.3 530.9h0M101.3 547.4h0M37.6 519.6h0M66.0 521.5h0M50.4 530.3h0M117.2 538.1h0M51.1 513.1h0M84.8 521.6h0M54.9 534.8h0M80.6 532.3h0M66.7 535.3h0M60.8 506.6h0M70.0 503.2h0M95.3 528.8h0M36.4 522.1h0M87.2 515.7h0M78.5 513.0h0M68.8 519.0h0M79.9 508.4h0M47.5 524.0h0M59.9 526.2h0M60.0 504.2h0M85.0 523.2h0M84.8 515.9h0M62.9 535.2h0M36.2 540.9h0M80.5 519.3h0M71.9 527.3h0M54.6 523.3h0M50.9 497.8h0M74.2 521.2h0M83.1 526.7h0M84.2 529.5h0M48.9 534.6h0M44.8 528.2h0M88.5 532.2h0M101.0 503.3h0M77.7 525.6h0M95.2 509.3h0M70.6 515.5h0M66.8 518.3h0M67.0 498.7h0M69.3 520.8h0M56.1 512.1h0M52.6 539.3h0M88.7 517.8h0M82.2 559.6h0M50.6 525.7h0M58.0 537.9h0M92.4 518.5h0M82.4 510.4h0M38.2 530.2h0M103.0 516.3h0M59.5 498.4h0M113.3 505.5h0M50.6 517.7h0M94.4 520.6h0M69.7 520.3h0M87.1 519.6h0M73.2 519.1h0M47.7 536.2h0M56.1 504.1h0M61.3 520.4h0M86.6 502.3h0M44.6 522.1h0M77.8 506.8h0M47.2 522.1h0M67.2 500.5h0" stroke="#555" stroke-width="0.66" stroke-linecap="round" stroke-opacity="0.65" fill="none"/>
<path d="M44.4,545 43.7,545 43,544.9 41.7,544.2 40.4,542.9 39.3,541 38.4,538.8 37.7,536.2 37.2,533.5 36.9,530.2 36.9,527 37.1,524 37.5,521 38.1,518.8 38.9,516.5 40,514.5 41.3,513 42.7,511.8 44,511.2 48,509.7 53.7,507.1 55.7,506.4 57.7,505.8 60.7,505.1 64,504.6 67.2,504.4 70.2,504.5 74,504.8 77.2,505.3 80.4,506.2 83.7,507.4 86.2,508.6 88.7,510.3 90.7,512 92.3,514 93,515.2 93.5,516.5 93.9,517.8 94.1,519 94.2,520.2 94.1,521.8 93.9,523 93.5,524.2 93,525.5 92.4,526.8 91.6,528 90.7,529.2 89.5,530.5 88.4,531.5 86,533.3 84.2,534.4 82.7,535.1 80.7,535.9 78.7,536.6 74.7,537.6 70.7,538.1 66.7,538.2 62.7,538 59,537.3 53.7,535.9 52.7,535.8 52,535.9 51.2,536.4 50.5,537.2 48.6,541.2 48,542.3 47.2,543.2 46,544.4 45.2,544.8 44.4,545Z" fill="none" stroke="#222" stroke-width="0.5" stroke-linejoin="round"/>
<path d="M45,544.1 44.2,544.2 43.4,544.2 42.7,544 42.2,543.7 41,542.6 39.9,541 38.9,538.8 38.1,536.2 37.6,533.5 37.3,530.5 37.2,527.5 37.4,524.5 37.8,521.8 38.3,519.2 39.2,517 40.3,515 41.5,513.5 43,512.3 44.4,511.6 48.4,510 53.4,507.7 55.4,506.9 57.7,506.2 61,505.4 63.7,505 67,504.8 70.2,504.8 73.7,505.1 77,505.6 80.4,506.6 83.4,507.7 86.2,509.1 88.4,510.6 90.3,512.2 91.9,514.2 92.6,515.5 93,516.5 93.4,517.8 93.6,519 93.7,520.2 93.6,521.5 93.3,523 93,524.2 92.5,525.5 91.8,526.8 91,528 90.1,529.2 88,531.3 85.4,533.2 83.7,534.2 82.2,534.9 80.4,535.6 78.2,536.4 74.2,537.3 70.2,537.8 66.4,537.9 62.7,537.6 58.7,536.9 53.4,535.4 52.4,535.3 51.7,535.4 51,535.9 50.2,536.8 48.3,540.8 47.2,542.4 46.2,543.4 45,544.1Z" fill="none" stroke="#222" stroke-width="0.5" stroke-linejoin="round"/>
<path d="M44.7,543.3 44.2,543.4 43.4,543.3 42.7,543.1 42.2,542.8 41.5,542.2 41,541.6 40,540 39.1,538 38.4,535.5 37.9,532.8 37.7,530 37.6,527 37.8,524.2 38.2,521.8 38.8,519.2 39.6,517.2 40.6,515.5 41.7,514.1 43.2,512.9 44.7,512.1 48.2,510.7 53.4,508.1 55.2,507.4 57.4,506.6 60.4,505.9 63.4,505.4 66.7,505.1 70,505.1 73.4,505.4 77.2,506.1 80.4,506.9 83.4,508.1 86.2,509.6 88.4,511.2 90.3,513 91.6,514.8 92.1,515.8 92.6,517 92.9,518.2 93.1,519.5 93.1,520.8 93,522 92.7,523.2 92.3,524.5 91.8,525.8 91.1,527 89.4,529.2 87.2,531.4 84.7,533.1 83,534.1 81.2,534.9 77.7,536.1 73.7,537 69.7,537.5 65.7,537.5 62,537.1 58.2,536.4 53.4,535 52.4,534.8 51.7,534.9 50.8,535.2 50.1,536 49.4,537.1 48.1,540 47,541.7 46,542.7 45.2,543.1 44.7,543.3Z" fill="none" stroke="#222" stroke-width="0.5" stroke-linejoin="round"/>
<path d="M45,542.3 44.4,542.4 43.7,542.5 43.2,542.4 42.4,542 41.3,541 40.3,539.5 39.4,537.5 38.8,535.2 38.3,532.8 38,529.8 38,526.8 38.2,524 38.6,521.5 39.3,519.2 40.1,517.2 41.1,515.8 42.2,514.4 43.7,513.3 48.2,511.3 53.2,508.7 55.2,507.8 57.4,507 60.2,506.3 63.2,505.8 66.4,505.5 69.7,505.5 73,505.7 76.7,506.3 80,507.2 83,508.3 85.4,509.6 87.8,511.2 89.7,513 91.1,515 91.6,516 92.1,517.2 92.3,518.2 92.5,519.5 92.5,520.8 92.4,522 92.1,523.2 91.7,524.5 90.6,526.8 89,529 88,530 86.7,531.1 84.2,532.9 82.4,533.8 80.7,534.6 77.2,535.8 73.4,536.7 69.2,537.1 65.4,537.1 61.7,536.7 58,535.9 53.2,534.4 52.2,534.2 51.4,534.3 50.7,534.6 50,535.3 49.3,536.2 48,539 47.2,540.3 46.2,541.5 45.7,541.9 45,542.3Z" fill="none" stroke="#222" stroke-width="0.5" stroke-linejoin="round"/>
<path d="M45,541.3 44.4,541.5 43.7,541.5 43.2,541.4 42.4,541 41.4,540.1 40.4,538.5 39.6,536.5 39,534.2 38.6,531.8 38.4,529 38.5,526.2 38.7,523.5 39.2,521.2 39.8,519.2 40.6,517.5 41.6,516 42.7,514.9 44.2,513.8 48,512 53.2,509.2 55.4,508.2 57.7,507.4 60.7,506.6 63.4,506.2 66.4,505.9 69.7,505.9 73.2,506.1 76.4,506.7 80,507.6 82.7,508.7 85.2,510 87.4,511.5 89.2,513.2 90,514.2 90.6,515.2 91.1,516.2 91.6,517.5 91.8,518.5 91.9,519.8 91.9,521 91.8,522.2 91.4,523.5 91,524.8 89.8,527 88.9,528.2 88,529.2 85.8,531.2 83.2,532.9 80.2,534.4 78.2,535.1 76.4,535.6 72.4,536.4 68.4,536.7 64.7,536.6 61.2,536.2 57.7,535.4 53,533.8 52,533.6 51.2,533.7 50.4,534 49.7,534.6 49.1,535.5 47.7,538.3 47,539.6 46,540.7 45,541.3Z" fill="none" stroke="#222" stroke-width="0.5" stroke-linejoin="round"/>
<path d="M44.7,540.3 44,540.4 43.2,540.3 42.4,539.9 42,539.4 41.2,538.5 40.7,537.6 40.2,536.4 39.7,535 39.1,531.8 38.9,528.2 39,524.8 39.6,521.5 40.3,519.5 41,518 42,516.6 43,515.6 44.4,514.5 48,512.7 52.4,510.1 55,508.9 57.4,507.9 60.2,507.2 62.7,506.7 65.4,506.4 68.2,506.2 71.2,506.3 74,506.6 76.7,507.1 79.4,507.9 82,508.8 84.2,509.9 86.2,511.2 87.8,512.5 89.1,514 90.1,515.5 90.6,516.5 91,517.8 91.2,519 91.3,520 91.3,521.2 91.1,522.5 90.3,524.8 89.1,527 88.1,528.2 87.2,529.2 85,531.2 82.4,532.8 80.7,533.6 79,534.4 75.4,535.4 71.4,536.1 67.7,536.3 64.2,536.2 60.7,535.6 57.4,534.8 52.7,533.2 51.7,533 51,533 50.2,533.3 49.4,533.9 48.7,535 47.4,537.5 46.7,538.7 45.7,539.8 44.7,540.3Z" fill="none" stroke="#222" stroke-width="0.5" stroke-linejoin="round"/>
<path d="M44.2,539.3 43.4,539.2 43,539 42.3,538.5 41.7,537.8 41.2,537 40.6,535.8 39.9,533.2 39.5,530.2 39.4,527 39.7,523.8 40.4,521 40.9,519.5 41.6,518.2 42.4,517.1 43.4,516.1 44.4,515.4 47.7,513.6 51.7,511.1 53.4,510.1 55.7,509.1 58.2,508.2 60.4,507.6 63.2,507 66.2,506.7 69,506.6 72,506.8 74.4,507.1 77.2,507.7 79.7,508.4 82,509.3 84,510.3 85.7,511.4 87.3,512.8 88.6,514.2 89.6,515.8 90,516.8 90.4,518 90.6,519 90.7,520.2 90.6,521.5 90.3,522.8 89.5,525 88.2,527.2 86.4,529.2 84.2,531.1 81.7,532.6 80,533.4 78.2,534.1 74.7,535.1 71,535.7 67.2,535.9 63.7,535.6 60.4,535.1 57,534.2 52.4,532.5 51.4,532.3 50.7,532.3 50.2,532.4 49.7,532.7 49,533.4 48.4,534.2 46.9,537 46,538.3 45.2,538.9 44.2,539.3Z" fill="none" stroke="#222" stroke-width="0.5" stroke-linejoin="round"/>
<path d="M44.7,537.8 44,537.9 43.4,537.9 42.7,537.4 42.2,536.9 41.7,536.2 41.2,535.3 40.4,532.9 40,530 39.9,526.8 40.3,523.8 41,521.2 41.5,520 42.2,518.8 42.9,517.8 43.7,517 45,516.1 48,514.4 52,511.6 54.7,510.1 57,509.1 59.2,508.4 61.4,507.8 64.2,507.3 67,507.1 69.7,507.1 72.4,507.3 75,507.6 77.4,508.2 79.7,508.9 82,509.8 84,510.9 85.6,512 87,513.2 88.2,514.8 89.1,516.2 89.6,517.5 89.8,518.5 89.9,519.5 89.9,520.8 89.8,521.8 89.5,523 88.6,525.2 87.3,527.2 85.4,529.3 83.2,531.1 80.4,532.6 77.2,533.9 73.7,534.8 70,535.3 66.2,535.3 63,535.1 59.7,534.4 57,533.6 52.2,531.7 51.2,531.5 50.4,531.4 49.4,531.8 48.7,532.5 48.2,533.2 46.2,536.5 45.4,537.4 44.7,537.8Z" fill="none" stroke="#222" stroke-width="0.5" stroke-linejoin="round"/>
<path d="M44.7,536.3 44,536.4 43.4,536.3 43,536 42.4,535.5 42,534.8 41.6,534 40.9,531.8 40.6,529 40.6,526.2 41,523.5 41.7,521.2 42.7,519.5 43.4,518.6 44.2,517.9 47.7,515.6 52.4,512 54.2,511 56,510.1 58,509.3 60.2,508.6 62.7,508.1 65.2,507.7 67.7,507.5 70.2,507.6 73,507.8 75.2,508.1 77.4,508.7 79.7,509.4 82,510.4 83.7,511.4 85.3,512.5 86.6,513.8 87.6,515 88.4,516.5 88.8,517.5 89.1,518.5 89.2,519.5 89.2,520.8 89.1,521.8 88.8,523 88.3,524.2 87.8,525.2 87,526.5 86.3,527.5 84.4,529.3 82.2,531 79.4,532.4 76.2,533.6 72.7,534.4 69,534.8 65.4,534.8 62.2,534.4 59,533.7 56.2,532.7 52,530.8 51,530.5 50.2,530.5 49.2,530.8 48.4,531.4 47.7,532.4 46,535.2 45.4,535.8 44.7,536.3Z" fill="none" stroke="#222" stroke-width="0.5" stroke-linejoin="round"/>
<path d="M44.4,534.5 44,534.6 43.4,534.4 42.7,533.7 42,532.2 41.5,530 41.3,527.8 41.5,525.2 42,523.2 42.7,521.3 43.4,520.2 44.4,519.2 47.7,516.8 51.9,513.2 54.4,511.5 57.2,510.2 59.2,509.5 61.4,508.8 63.7,508.4 66.2,508.1 68.7,508 71.2,508.1 73.7,508.4 76,508.8 78.2,509.4 80.2,510.2 82,511 83.6,512 85,513 86.2,514.2 87.1,515.5 87.9,517 88.2,518 88.4,519 88.4,520 88.4,521.2 88.1,522.5 87.8,523.5 87.3,524.5 86.6,525.8 85.1,527.8 83.1,529.5 80.7,531.1 78.2,532.3 75,533.4 71.4,534 68,534.3 64.4,534.1 61.4,533.7 58.4,532.9 55.7,531.8 51.4,529.7 50.4,529.4 49.7,529.4 49,529.6 48.2,530.1 47.4,531 45.7,533.6 45,534.2 44.4,534.5Z" fill="none" stroke="#222" stroke-width="0.5" stroke-linejoin="round"/>
<path d="M70.4,533.5 68,533.7 65.2,533.6 62.7,533.3 60.2,532.7 58.2,532.1 56.4,531.4 54.4,530.4 51.2,528.5 50.2,528 49.4,527.9 48.7,528 48,528.4 47.2,529.1 45.2,531.6 44.4,532.1 44,532.1 43.4,531.7 43,531 42.6,530 42.4,528.8 42.3,527.5 42.4,526 42.6,524.8 43,523.7 43.6,522.2 44.4,521.2 47.7,518.5 50.5,515.5 52.1,514 53.7,512.8 55.2,511.9 56.7,511.1 58.4,510.3 60.7,509.6 63.2,509 66,508.7 68.7,508.5 71.4,508.6 74,508.9 76.2,509.4 78.7,510.2 81,511.1 83.2,512.5 85,514 86.2,515.5 87.1,517.2 87.5,519 87.5,521 87.1,523 86.1,525 84.9,526.8 83.2,528.5 81.2,530 78.7,531.3 76.2,532.3 73.4,533 70.4,533.5Z" fill="none" stroke="#222" stroke-width="0.5" stroke-linejoin="round"/>
<path d="M71,532.8 68.4,533 65.7,532.9 63,532.6 60.4,532 58,531.2 55.5,530 53.5,528.8 50,526.1 48.7,525.4 48,525.2 47.2,525.4 46.7,525.7 45.4,527 45,527.3 44.7,527.2 44.5,526.8 44.5,526.2 44.6,525.5 44.9,524.8 45.2,524.3 46.7,522.8 47.2,522.2 49.8,518 51.6,515.8 52.8,514.5 54,513.5 55.5,512.5 57.2,511.6 59.2,510.8 61.4,510.1 64,509.5 66.4,509.2 69,509.1 71.4,509.2 74.2,509.5 76.4,510.1 79,510.9 81.2,512 83.1,513.2 84.7,514.8 85.8,516.5 86.5,518.2 86.7,520 86.4,522 85.7,524 84.4,525.9 83,527.6 81,529.2 79,530.4 76.4,531.5 73.7,532.3 71,532.8Z" fill="none" stroke="#222" stroke-width="0.5" stroke-linejoin="round"/>
<path d="M70.4,532 68,532.2 65.4,532.1 63,531.8 60.4,531.2 58.2,530.4 56.2,529.4 54.4,528.2 52.8,526.8 51.6,525.5 50.8,524.2 50.2,523 50.1,521.8 50.3,520.2 51,518.5 51.9,517 53.2,515.5 54.5,514.2 56,513.2 57.6,512.2 59.4,511.4 61.4,510.8 63.4,510.3 65.7,509.9 68,509.7 70.2,509.7 72.4,509.9 74.7,510.3 76.7,510.8 78.4,511.4 80.3,512.2 81.9,513.2 83.1,514.2 84,515.2 84.8,516.5 85.4,517.8 85.7,519.2 85.6,520.8 85.3,522.2 84.7,523.7 83.9,525 82.9,526.2 81.6,527.5 80.2,528.6 78.4,529.7 76.7,530.5 74.7,531.2 72.7,531.7 70.4,532Z" fill="none" stroke="#222" stroke-width="0.5" stroke-linejoin="round"/>
<path d="M68.7,531.3 66.7,531.3 64.7,531.1 62.7,530.8 61,530.3 59.2,529.7 57.7,529 56.2,528.1 54.8,527 53.9,526 52.9,524.8 52.3,523.5 51.9,522.2 51.9,521 52.1,519.8 52.5,518.5 53.2,517.2 54.2,516 55.2,515 56.4,514 58.1,513 59.7,512.2 61.4,511.6 63.4,511 65.4,510.6 67.4,510.4 69.7,510.4 72,510.5 74,510.8 76,511.3 77.7,511.9 79.2,512.5 80.7,513.4 82.1,514.5 83.2,515.7 84,517 84.4,518.2 84.6,519.8 84.4,521.2 83.9,522.8 83.1,524.2 82,525.7 80.6,527 79,528.2 77.2,529.2 75.2,530 73.2,530.6 71,531 68.7,531.3Z" fill="none" stroke="#222" stroke-width="0.5" stroke-linejoin="round"/>
<path d="M70.2,530 68.2,530.2 66.2,530.1 64.2,529.9 62.2,529.5 60.4,528.9 58.7,528.1 57.2,527.1 55.9,526 54.8,524.8 54.1,523.5 53.8,522.2 53.6,521 53.8,519.5 54.3,518.2 55.1,517 56.1,515.8 57.3,514.8 58.7,513.8 60.2,513 61.7,512.4 63.4,511.9 65.2,511.5 67,511.2 69,511.1 71,511.2 72.7,511.3 74.4,511.7 76.2,512.1 77.8,512.8 79.2,513.5 80.4,514.2 81.4,515.2 82.3,516.2 82.8,517.2 83.2,518.2 83.3,519.5 83.2,520.8 82.9,522 82.3,523.2 81.6,524.2 80.7,525.3 79.4,526.4 78.2,527.3 76.7,528.1 75.2,528.8 73.7,529.3 72,529.7 70.2,530Z" fill="none" stroke="#222" stroke-width="0.5" stroke-linejoin="round"/>
<path d="M68.4,528.8 66.7,528.7 65.2,528.6 63.7,528.3 62.2,527.9 60.7,527.3 59.4,526.6 58.4,525.9 57.5,525 56.7,524 56.1,523 55.8,522 55.7,521 55.7,520 56,519 56.4,518 57,517 57.9,516 58.8,515.2 59.8,514.5 61.2,513.8 62.7,513.1 64.2,512.7 65.7,512.3 67.4,512.1 70.7,512 72.4,512.2 74,512.4 75.4,512.8 77,513.4 78.2,514 79.3,514.8 80.2,515.6 81,516.5 81.5,517.5 81.9,518.8 81.9,519.8 81.7,521 81.2,522.2 80.4,523.3 79.4,524.5 78.2,525.5 77,526.4 75.4,527.1 73.9,527.8 72.2,528.2 70.4,528.6 68.4,528.8Z" fill="none" stroke="#222" stroke-width="0.5" stroke-linejoin="round"/>
<path d="M68.7,526.8 66,526.6 63.4,526 62.2,525.4 61.2,524.8 60.4,524.2 59.6,523.5 59.1,522.8 58.7,522 58.4,521.2 58.3,520.2 58.4,519.2 58.6,518.5 59.1,517.5 59.7,516.8 60.4,516 61.4,515.2 63.4,514.2 66,513.4 68.7,513 71.4,513.1 74,513.5 76.2,514.3 77.2,514.8 78.2,515.5 79,516.2 79.5,517 79.9,517.8 80.1,518.8 80.1,519.8 79.9,520.8 79.4,521.7 78.9,522.5 78,523.5 77,524.2 76,524.9 74.7,525.5 73.2,526 71.7,526.4 70.2,526.7 68.7,526.8Z" fill="none" stroke="#222" stroke-width="0.5" stroke-linejoin="round"/>
<path d="M72,523.8 70,523.9 67.7,523.7 65.4,523.1 63.8,522.2 62.6,521.2 62.2,520.6 62,520 61.9,519.5 61.9,518.8 62.1,518 62.4,517.5 63.2,516.5 64.7,515.5 66.4,514.8 68.4,514.4 70.4,514.3 72.4,514.5 74.2,515 75.8,515.8 77,516.8 77.6,517.8 77.8,518.2 77.9,519 77.8,519.8 77.6,520.2 77.2,521 76.8,521.5 75.5,522.5 74,523.3 72,523.8Z" fill="none" stroke="#222" stroke-width="0.5" stroke-linejoin="round"/>
<path d="M72,520.3 71.2,520.4 70.2,520.3 69.2,520.1 68.4,519.8 67.7,519.2 67.4,518.8 67.3,518.2 67.5,517.8 68,517.3 68.5,517 69.2,516.8 70,516.6 70.7,516.6 71.7,516.7 73,517.2 73.4,517.5 73.8,518 73.9,518.5 73.9,519 73.5,519.5 73.2,519.8 72.7,520 72,520.3Z" fill="none" stroke="#222" stroke-width="0.5" stroke-linejoin="round"/>
<path d="M41,560 39.7,560 38.4,559.6 37.2,558.9 36.3,558 35.3,556.8 34.6,555.2 34.3,554 34,552.2 34.1,550.5 34.4,549 34.8,547.8 35.6,546.2 36.6,545 37.7,544.2 39,543.6 40.2,543.4 41.4,543.4 42.7,543.9 44,544.6 44.8,545.5 45.6,546.5 46.3,548 46.8,549.8 47,551.2 46.9,553 46.6,554.5 46.1,556 45.3,557.2 44.4,558.3 43.4,559.1 42.4,559.7 41,560Z" fill="none" stroke="#111" stroke-width="0.55" stroke-linejoin="round"/>
<path d="M41.4,559.5 40.2,559.6 39,559.4 38,558.9 36.7,557.9 35.8,556.8 35.1,555.5 34.6,554 34.4,552.5 34.4,551 34.6,549.5 35.1,548 35.9,546.5 36.7,545.5 37.7,544.6 38.7,544.1 40,543.8 41.2,543.8 42.2,544.1 43.2,544.6 44.3,545.5 45.1,546.5 45.8,547.8 46.4,549.2 46.6,550.8 46.6,552.5 46.4,554 46,555.2 45.4,556.5 44.7,557.5 43.7,558.5 42.7,559.1 41.4,559.5Z" fill="none" stroke="#111" stroke-width="0.55" stroke-linejoin="round"/>
<path d="M41.7,559 40.7,559.2 39.4,559.1 38.2,558.6 37.2,557.9 36.4,557 35.6,555.8 35.1,554.5 34.8,553 34.7,551.5 34.8,550 35.3,548.5 35.8,547.2 36.7,546 37.7,545.1 38.7,544.6 40,544.3 41.2,544.3 42.2,544.5 43.2,545.1 44.2,545.9 44.9,546.8 45.5,548 46.1,549.5 46.3,550.8 46.3,552 46.1,553.5 45.8,554.8 45.2,556 44.6,557 43.7,557.9 42.7,558.6 41.7,559Z" fill="none" stroke="#111" stroke-width="0.55" stroke-linejoin="round"/>
<path d="M41.7,558.5 40.7,558.7 39.4,558.6 38.4,558.2 37.4,557.5 36.5,556.5 35.8,555.2 35.4,554 35.1,552.8 35.1,551.2 35.2,550 35.6,548.8 36.1,547.5 36.9,546.5 37.7,545.7 38.7,545.1 40,544.7 41,544.7 42,544.9 43,545.4 43.7,546 44.5,547 45.1,548 45.6,549.2 45.9,550.5 45.9,551.8 45.8,553 45.6,554.2 45.1,555.5 44.5,556.5 43.7,557.4 42.7,558.1 41.7,558.5Z" fill="none" stroke="#111" stroke-width="0.55" stroke-linejoin="round"/>
<path d="M41.7,558 40.7,558.2 39.7,558.1 38.7,557.8 37.7,557.1 36.9,556.2 36.3,555.2 35.8,554 35.5,552.8 35.5,551.5 35.6,550.2 35.9,549 36.5,547.8 37.2,546.8 38,546.1 39,545.5 40,545.2 40.7,545.2 41.7,545.4 42.7,545.8 43.5,546.5 44.2,547.2 44.8,548.2 45.3,549.5 45.5,550.8 45.5,552 45.4,553.2 45.1,554.5 44.6,555.5 44,556.4 43.2,557.2 42.4,557.7 41.7,558Z" fill="none" stroke="#111" stroke-width="0.55" stroke-linejoin="round"/>
<path d="M41.4,557.5 40.4,557.7 39.4,557.5 38.7,557.2 37.8,556.5 37.1,555.8 36.5,554.8 36.1,553.5 35.9,552.5 35.9,551.2 36.1,550 36.4,549 36.9,548 37.4,547.2 38.2,546.5 39,546.1 40,545.8 41,545.8 41.7,545.9 42.4,546.3 43.2,546.9 43.8,547.5 44.4,548.5 44.8,549.5 45.1,550.8 45.1,552 45,553 44.8,554 44.3,555 43.9,555.8 43.2,556.5 42.4,557.1 41.4,557.5Z" fill="none" stroke="#111" stroke-width="0.55" stroke-linejoin="round"/>
<path d="M41,557 40.2,557 39.4,556.9 38.7,556.5 38,555.9 37.4,555.2 36.8,554.2 36.5,553.2 36.4,552.2 36.4,551.2 36.6,550 36.9,549 37.3,548.2 38,547.5 38.7,546.9 39.4,546.5 40.2,546.4 41,546.4 41.7,546.6 42.4,547 43.2,547.6 43.8,548.5 44.2,549.2 44.5,550.2 44.6,551.2 44.6,552.2 44.5,553.2 44.2,554.2 43.7,555.1 43.2,555.8 42.4,556.4 41.7,556.8 41,557Z" fill="none" stroke="#111" stroke-width="0.55" stroke-linejoin="round"/>
<path d="M41.2,556.3 40.4,556.4 39.7,556.3 39,555.9 38.4,555.5 37.8,554.8 37.3,554 37.1,553.2 36.9,552.2 36.9,551.2 37.1,550.2 37.3,549.5 37.7,548.8 38.2,548.1 38.7,547.6 39.4,547.2 40.2,547 41,547.1 41.4,547.2 42.2,547.6 42.7,548 43.2,548.6 43.6,549.2 43.9,550 44.1,551 44.1,552 44,552.8 43.8,553.5 43.4,554.4 43,555.1 42.4,555.6 42,556 41.2,556.3Z" fill="none" stroke="#111" stroke-width="0.55" stroke-linejoin="round"/>
<path d="M41,555.5 40.2,555.6 39.7,555.4 39.2,555.2 38.7,554.8 38,553.7 37.7,553 37.5,552.2 37.6,550.8 37.8,550 38.2,549.2 38.7,548.6 39.1,548.2 39.7,548 40.2,547.8 41,547.9 41.4,548 42,548.3 42.4,548.8 43.1,549.8 43.4,550.5 43.5,551.2 43.4,552.8 42.9,554 42.1,555 41.4,555.4 41,555.5Z" fill="none" stroke="#111" stroke-width="0.55" stroke-linejoin="round"/>
<path d="M40.7,554.5 40.2,554.5 39.7,554.4 39,553.8 38.4,552.8 38.3,551.8 38.4,550.8 38.9,549.8 39.2,549.4 39.7,549 40.4,548.8 41.2,549 42,549.5 42.5,550.5 42.7,551.5 42.6,552.5 42.2,553.5 41.4,554.3 40.7,554.5Z" fill="none" stroke="#111" stroke-width="0.55" stroke-linejoin="round"/>
<path d="M40.7,552.8 40.2,552.8 40,552.6 39.7,552.2 39.6,551.8 39.8,551 40,550.8 40.4,550.5 41,550.8 41.2,551 41.4,551.5 41.4,552 41.2,552.4 40.7,552.8Z" fill="none" stroke="#111" stroke-width="0.55" stroke-linejoin="round"/>
</g>
<clipPath id="cb10"><rect x="129.2" y="479.5" width="104.5" height="104.39999999999998"/></clipPath>
<g clip-path="url(#cb10)">
<path d="M167.3 555.3h0M165.3 547.9h0M160.1 555.4h0M194.7 519.2h0M169.5 540.7h0M163.3 539.4h0M190.5 534.5h0M180.6 527.3h0M188.1 516.0h0M194.6 529.6h0M173.4 502.1h0M172.2 534.0h0M190.8 502.5h0M175.6 518.3h0M163.8 530.1h0M168.6 544.9h0M147.2 542.6h0M156.0 496.7h0M182.8 524.2h0M178.4 513.5h0M165.4 517.4h0M176.4 515.7h0M172.4 515.3h0M179.6 510.6h0M154.0 485.2h0M176.8 531.6h0M187.6 517.4h0M164.4 504.6h0M185.4 519.3h0M187.9 528.6h0M174.0 498.2h0M169.5 543.5h0M170.3 541.6h0M158.8 547.3h0M207.8 549.0h0M180.6 508.9h0M171.2 518.8h0M179.1 495.5h0M167.5 543.5h0M178.6 542.7h0M186.4 510.5h0M162.1 537.9h0M177.4 531.3h0M168.0 547.4h0M182.5 549.5h0M173.1 541.8h0M176.4 513.9h0M176.1 501.7h0M175.0 533.0h0M184.7 512.0h0M162.3 517.5h0M154.1 518.8h0M205.9 532.5h0M168.6 518.4h0M196.5 510.1h0M175.7 528.7h0M168.9 517.7h0M158.5 515.7h0M191.3 554.2h0M173.9 542.0h0M182.1 531.9h0M175.5 550.7h0M183.3 526.1h0M174.4 545.9h0M170.4 517.8h0M174.0 521.5h0M190.9 536.1h0M176.0 521.0h0M192.6 537.5h0M200.0 545.5h0M174.6 520.6h0M173.9 533.1h0M185.7 538.3h0M194.3 504.1h0M177.3 505.8h0M165.6 519.7h0M169.8 513.5h0M160.2 549.4h0M173.5 546.5h0M164.8 490.4h0M170.4 545.0h0M170.8 536.7h0M165.1 553.7h0M181.8 547.9h0M173.9 551.8h0M177.8 521.7h0M169.9 530.9h0M167.0 509.6h0M178.4 542.1h0M173.8 544.3h0M194.5 508.4h0M179.8 513.6h0M169.9 533.0h0M150.8 540.3h0M186.3 539.2h0M184.1 560.9h0M173.0 548.6h0M193.0 538.4h0M157.3 527.3h0M173.8 502.4h0M176.3 542.9h0M174.1 526.9h0M193.2 519.5h0M166.6 530.7h0M189.4 540.1h0M177.8 521.6h0M190.6 545.1h0M157.9 535.7h0M150.5 555.5h0M183.7 519.3h0M162.8 524.9h0M157.7 539.6h0M171.4 499.8h0M176.8 550.2h0M163.0 523.9h0M197.0 533.1h0M170.9 533.2h0M185.6 512.9h0M175.9 502.2h0M159.5 503.7h0M186.3 535.3h0M185.1 550.7h0M177.5 534.0h0M181.5 538.0h0M165.3 525.3h0M175.3 530.6h0M168.7 527.7h0M180.2 533.2h0M183.5 544.0h0M183.1 546.4h0M186.3 553.7h0M183.9 519.4h0M202.7 549.2h0M190.8 542.4h0M177.5 510.5h0M181.8 523.9h0M172.6 493.6h0M194.1 510.1h0M164.9 537.9h0M183.2 516.5h0M176.9 534.3h0M178.7 539.0h0M185.5 523.7h0M159.1 566.8h0M172.7 513.1h0M185.3 540.0h0M170.2 570.0h0M151.1 551.8h0M176.6 535.3h0M180.5 526.0h0M180.5 507.8h0M172.6 561.5h0M148.5 551.0h0M152.3 515.5h0M186.7 523.0h0M170.6 504.4h0M175.7 527.0h0M169.9 503.4h0M178.7 537.1h0M189.6 538.8h0M193.8 550.4h0M145.8 558.4h0M175.8 512.1h0M181.8 546.3h0M159.9 508.9h0M184.6 520.5h0M193.1 533.7h0M170.9 507.3h0M183.6 500.6h0M162.6 507.6h0M195.8 559.1h0M174.5 523.4h0M184.7 551.2h0M168.1 567.5h0M174.7 549.3h0M150.9 529.1h0M169.3 563.8h0M174.6 508.3h0M198.5 518.3h0M177.0 508.6h0M184.5 533.3h0M173.8 523.1h0M170.7 517.7h0M161.4 550.5h0M186.9 506.3h0M164.1 536.9h0M202.0 526.5h0M173.5 525.7h0M179.7 527.0h0M189.0 546.7h0M183.1 556.9h0M174.4 520.6h0M209.9 497.0h0M159.8 489.8h0M180.9 511.7h0M188.7 494.2h0M175.5 523.3h0M165.1 549.1h0M172.6 537.7h0M171.2 532.5h0M172.0 531.2h0M175.9 518.4h0M181.8 526.8h0M166.3 512.1h0M181.9 552.7h0M162.5 522.8h0M182.0 547.8h0M184.9 509.8h0M177.4 545.3h0M179.6 526.1h0M163.9 532.8h0M176.3 530.5h0M193.6 550.2h0M168.2 533.9h0M173.6 531.7h0M195.0 545.6h0M177.4 518.8h0M175.2 536.2h0M171.5 548.8h0M177.2 509.8h0M199.6 480.5h0M174.0 527.9h0M187.9 549.0h0M193.1 556.6h0M180.5 531.9h0M188.2 529.5h0M163.1 522.2h0M184.3 540.4h0M164.8 550.4h0M180.4 504.4h0M182.2 547.2h0M182.9 524.7h0M168.1 549.1h0M179.5 529.9h0M172.6 512.4h0M156.3 524.1h0M189.2 543.0h0M169.5 556.0h0M174.5 512.8h0M187.8 553.6h0M172.7 509.1h0M176.3 488.5h0M177.6 556.0h0M180.0 517.5h0M184.8 521.6h0M191.0 523.9h0M199.5 524.0h0M179.1 514.0h0M162.9 535.9h0M180.9 513.4h0M183.2 522.9h0M170.9 528.8h0M181.4 542.4h0M190.7 536.5h0M169.0 518.3h0M181.1 509.6h0M175.1 523.4h0M175.9 533.1h0M188.5 557.9h0M186.8 547.2h0M165.2 547.7h0M191.3 506.9h0M204.9 520.3h0M150.7 560.1h0M177.7 516.3h0M170.7 548.2h0M179.8 523.6h0M189.7 514.0h0M167.6 520.4h0M168.7 541.8h0M174.5 512.0h0M171.9 496.1h0M178.8 531.7h0M183.7 526.0h0M181.4 514.1h0M177.3 532.6h0M163.6 540.0h0M178.6 530.9h0M171.7 564.1h0M177.0 516.9h0M167.6 540.1h0M174.7 516.5h0M169.0 545.9h0M177.9 547.9h0M176.8 509.9h0M186.6 535.4h0M169.8 524.7h0M166.3 544.1h0M172.4 538.1h0M179.9 525.6h0M181.1 525.8h0M164.0 522.9h0M164.0 542.8h0M184.2 520.0h0M183.8 534.2h0M187.7 514.1h0M177.3 513.1h0M169.5 553.3h0M154.9 514.4h0M182.4 543.2h0M168.4 495.5h0M158.1 536.2h0M189.1 545.4h0M168.9 553.0h0M174.9 540.5h0M174.9 557.1h0M171.3 493.5h0M173.5 533.2h0M180.1 517.8h0M174.4 510.7h0M174.4 531.5h0M179.6 557.9h0M155.0 538.8h0M181.8 510.3h0M177.8 529.9h0M166.0 542.2h0M198.0 541.4h0M185.5 548.1h0M175.6 546.5h0M168.1 533.0h0" stroke="#555" stroke-width="0.66" stroke-linecap="round" stroke-opacity="0.7" fill="none"/>
<path d="M155.4,572 154.7,572.2 153.7,572.1 153,571.9 152,571.3 151.2,570.7 150.3,569.8 149.6,568.8 148.8,567.2 148.1,565.5 147.6,564 146.9,560.8 146.4,556.5 146.2,552 146.3,516.5 146.5,512 146.8,508.8 147.3,506.2 147.8,504.2 148.6,502.2 149.6,500.2 150.7,498.8 152,497.7 153.2,497 154.4,496.8 155.2,496.9 156.2,497.3 157,497.7 157.7,498.4 159,500 159.8,501.2 160.3,502.5 161.3,505.5 162,509 162.4,512.2 162.5,516.8 162.6,551 162.5,555.5 162.1,559.5 161.8,561.8 161.1,564.2 160.6,566 159.6,568 158.7,569.5 157.7,570.7 156.7,571.4 155.4,572Z" fill="none" stroke="#1a1a1a" stroke-width="0.5" stroke-linejoin="round"/>
<path d="M154.7,571.5 153.7,571.5 153,571.2 152,570.7 151.2,570.1 150.4,569.2 149.6,568 148.9,566.5 148.3,565.2 147.5,562.5 146.9,558.8 146.6,554.8 146.5,549.8 146.6,516.5 146.7,512.2 147.1,509 147.6,506.5 148.1,504.5 148.9,502.5 149.8,500.8 150.9,499.2 152,498.3 153.2,497.7 154.4,497.5 155.4,497.6 156.4,498.1 157.2,498.6 158.1,499.5 158.9,500.5 159.6,501.8 160.3,503.2 160.8,504.8 161.6,508 162,511.8 162.2,515.2 162.3,522.8 162.3,551.5 162.1,556.2 161.8,559.8 161.3,562.2 160.8,564.2 160.1,566.2 159.2,568 158.1,569.5 157,570.6 156,571.2 154.7,571.5Z" fill="none" stroke="#1a1a1a" stroke-width="0.5" stroke-linejoin="round"/>
<path d="M155.2,570.8 154.2,570.9 153.4,570.7 152.7,570.5 152,570 151.1,569.2 150.3,568.2 149.1,566 148.1,563.2 147.3,559.8 147,556.2 146.8,551.2 146.9,517 147,512.8 147.3,509.5 147.8,507 148.3,505 149.1,503 150,501.2 151,499.9 152.2,498.8 153.2,498.3 154.4,498.1 155.2,498.2 156,498.5 156.7,498.9 157.4,499.5 158.2,500.4 158.8,501.2 159.5,502.5 160,503.8 160.9,506.5 161.5,509.8 161.8,513.2 161.9,517.5 162,550.5 161.9,555.2 161.6,558.8 161.1,561.5 160.6,563.5 160.1,565.2 159.3,567 158.4,568.3 157.4,569.5 156.2,570.4 155.2,570.8Z" fill="none" stroke="#1a1a1a" stroke-width="0.5" stroke-linejoin="round"/>
<path d="M155.4,570 154.7,570.2 153.7,570.1 153,569.9 152.2,569.4 151.4,568.8 150.5,567.8 149.9,566.8 149.3,565.5 148.3,562.8 147.6,559.5 147.3,556 147.1,551.5 147.2,517 147.3,513 147.6,509.8 148.1,507.2 148.6,505.2 149.3,503.5 150.2,501.8 151.2,500.5 152.2,499.6 153.2,499 154.4,498.8 155.2,498.9 156,499.2 156.7,499.6 157.4,500.3 158.7,502 159.8,504.2 160.6,506.8 161.1,509.5 161.4,512.5 161.6,516.8 161.7,550.5 161.6,554.8 161.3,558.2 161,560.2 160.5,562.5 160,564.2 159.3,566 158.4,567.5 157.4,568.7 156.4,569.5 155.4,570Z" fill="none" stroke="#1a1a1a" stroke-width="0.5" stroke-linejoin="round"/>
<path d="M155.4,569.3 154.7,569.5 153.7,569.4 153,569.1 152.2,568.7 151.4,568 150.8,567.2 150.2,566.2 149.5,565 148.6,562.2 148,559.5 147.6,556 147.4,551.5 147.5,517 147.7,513 148,509.8 148.4,507.8 148.9,505.8 149.5,504 150.4,502.3 151.4,501 152.4,500.2 153.4,499.7 154.4,499.5 155.2,499.6 156,499.9 157.2,500.8 157.8,501.5 158.5,502.5 159.6,504.8 160.3,507.2 160.8,510 161.1,513 161.3,517 161.4,550 161.3,554.2 161,557.8 160.8,559.8 160.3,562 159.8,563.8 159,565.5 158.3,566.8 157.4,567.9 156.4,568.8 155.4,569.3Z" fill="none" stroke="#1a1a1a" stroke-width="0.5" stroke-linejoin="round"/>
<path d="M155.4,568.5 154.7,568.7 154,568.7 153.2,568.5 152.4,568.1 151.7,567.4 151,566.5 149.8,564.5 148.9,561.8 148.3,559 147.9,555.5 147.8,551.5 147.9,518 148,513.5 148.3,510.5 148.6,508.5 149.1,506.5 149.8,504.5 150.6,503 151.4,501.9 152.4,501 153.4,500.5 154.4,500.3 155.2,500.4 156,500.7 157.2,501.7 158.3,503.2 159.3,505.2 160,507.8 160.5,510.5 160.8,513.5 160.9,517 161,549.8 160.9,554.2 160.7,557.2 160.5,559 160.1,561.2 159.6,563 158.9,564.8 158,566.2 157.3,567.2 156.4,568 155.4,568.5Z" fill="none" stroke="#1a1a1a" stroke-width="0.5" stroke-linejoin="round"/>
<path d="M155.2,567.8 154.4,567.9 153.7,567.8 153,567.5 152.2,567 151.5,566.2 151,565.6 149.9,563.5 149.1,561 148.6,558.2 148.3,555 148.1,550.8 148.3,518 148.4,514 148.6,511 148.9,509 149.4,507 150,505.2 150.8,503.8 151.5,502.8 152.4,501.8 153.4,501.3 154.4,501.1 155,501.2 155.7,501.4 156.4,501.9 157,502.3 157.5,503 158.2,504 159.1,506 159.8,508.5 160.2,511.2 160.5,514.2 160.6,518.2 160.7,550 160.6,554 160.3,557.2 160.1,559.2 159.6,561.2 159.1,563 158.6,564.2 157.9,565.5 157,566.7 156.2,567.3 155.2,567.8Z" fill="none" stroke="#1a1a1a" stroke-width="0.5" stroke-linejoin="round"/>
<path d="M154.7,567 154.2,567 153.4,566.9 152.7,566.5 152.2,566.1 151.5,565.2 151,564.5 150,562.5 149.3,560 148.9,557.2 148.6,554 148.5,549.5 148.6,518 148.8,513.8 149,511 149.4,509 149.8,507.2 150.4,505.8 151,504.5 151.7,503.5 152.7,502.5 153.4,502.2 154.4,502 155.2,502.1 156,502.5 156.6,503 157.2,503.6 157.8,504.5 158.3,505.5 159.1,507.8 159.7,510.2 160,513.2 160.1,516.5 160.2,523 160.3,550.5 160.2,554.8 159.9,557.8 159.5,559.8 159.1,561.5 158.6,563 158,564.2 157.2,565.4 156.4,566.2 155.7,566.7 154.7,567Z" fill="none" stroke="#1a1a1a" stroke-width="0.5" stroke-linejoin="round"/>
<path d="M155,566 154.2,566.1 153.7,566 153,565.7 152.4,565.3 151.4,564 150.4,562 149.8,560 149.3,557.2 149,554.2 148.9,550.2 149.1,519 149.1,514.8 149.4,511.8 149.6,510 150,508.2 150.5,506.8 151.2,505.4 152,504.3 152.7,503.5 153.4,503.1 154.4,502.9 155.2,503.1 155.7,503.3 156.3,503.8 157,504.4 158,506 158.8,508.2 159.3,510.8 159.6,513.2 159.8,521.8 159.9,550 159.8,553.8 159.6,556.8 159.3,558.8 158.9,560.5 158.4,562 157.8,563.2 157.2,564.3 156.4,565.2 155.7,565.7 155,566Z" fill="none" stroke="#1a1a1a" stroke-width="0.5" stroke-linejoin="round"/>
<path d="M155,565 154.4,565.1 153.7,565 152.7,564.4 152.1,563.8 151.6,563 150.7,561.2 150.1,559.2 149.7,556.8 149.5,554 149.4,550 149.5,519.8 149.6,515.2 149.8,512.2 150.4,509 150.9,507.5 151.5,506.2 152.2,505.2 153,504.5 153.7,504.1 154.4,504 155.2,504.1 155.7,504.4 156.7,505.3 157.6,506.8 158.3,508.8 158.8,511 159.1,513.5 159.3,521.8 159.4,549.8 159.3,553.5 159.1,556.2 158.6,559.5 158.2,561 157.6,562.2 157.1,563.2 156.4,564.1 155.7,564.7 155,565Z" fill="none" stroke="#1a1a1a" stroke-width="0.5" stroke-linejoin="round"/>
<path d="M155.2,563.8 154.7,563.9 154,563.9 153.4,563.7 153,563.4 152,562.2 151.2,560.8 150.6,558.8 150.2,556.8 150,554 149.9,550.5 150,521.2 150.1,516 150.3,513 150.5,511.2 150.8,509.8 151.2,508.5 151.7,507.3 152.2,506.5 153,505.7 153.7,505.2 154.4,505.1 155,505.2 155.4,505.4 156,505.8 156.4,506.3 157.2,507.5 157.9,509.2 158.3,511 158.6,513.2 158.8,520 158.8,540.2 158.9,549 158.7,555 158.3,558.2 157.6,560.8 157.1,561.8 156.4,562.8 156,563.3 155.2,563.8Z" fill="none" stroke="#1a1a1a" stroke-width="0.5" stroke-linejoin="round"/>
<path d="M155,562.5 154.4,562.6 154,562.6 153.4,562.3 153,562 152.2,561 151.5,559.5 151,557.8 150.7,555.8 150.5,553.2 150.4,550 150.5,540 150.5,521.8 150.6,516.5 150.8,513.5 151.3,510.5 151.7,509.3 152.2,508.2 152.7,507.4 153.2,506.9 153.7,506.6 154.4,506.5 155,506.5 155.4,506.8 156.2,507.6 157,508.9 157.6,510.8 157.9,512.5 158.1,514.8 158.3,522.2 158.3,540 158.4,549 158.2,554.5 157.8,557.5 157.5,558.8 157.1,560 156.2,561.6 155.7,562.1 155,562.5Z" fill="none" stroke="#1a1a1a" stroke-width="0.5" stroke-linejoin="round"/>
<path d="M154.7,561 154,561 153.2,560.5 152.5,559.5 152,558.2 151.5,556.5 151.3,554.8 151.1,552.5 151.1,549.5 151.2,540 151.2,522.2 151.4,514.5 151.8,511.8 152.4,509.9 153,509 153.4,508.5 154,508.2 154.4,508.1 155,508.2 155.4,508.6 156,509.2 156.4,510 157,512 157.4,514.5 157.6,522 157.6,540 157.8,548.2 157.6,553.8 157.4,555.8 157.1,557.2 156.7,558.6 156.1,559.8 155.4,560.6 154.7,561Z" fill="none" stroke="#1a1a1a" stroke-width="0.5" stroke-linejoin="round"/>
<path d="M155,558.8 154.7,558.9 154.2,558.9 153.7,558.7 153.2,558.1 152.7,557 152.3,555.8 152.1,554 151.8,549.8 152,540 152,522.8 152.2,516 152.5,513.8 153,511.9 153.3,511.2 153.7,510.7 154,510.5 154.4,510.4 155,510.6 155.5,511.2 156,512.2 156.3,513.5 156.6,516.5 156.8,522.8 156.8,540 157,548.5 156.9,552 156.7,554.5 156.3,556.5 155.7,557.9 155,558.8Z" fill="none" stroke="#1a1a1a" stroke-width="0.5" stroke-linejoin="round"/>
<path d="M154.7,555.1 154.4,555.2 154.2,555.2 154,555 153.4,553.8 153.2,552 153,549.2 153.1,546.5 153.5,539.8 153.4,534.8 153.5,529.5 153.5,522.2 153.7,518.7 153.9,517.2 154.2,516.1 154.4,516 154.7,516.3 155,517.4 155.3,522 155.3,540 155.8,548.5 155.7,551.2 155.5,553 155.2,554.3 154.7,555.1Z" fill="none" stroke="#1a1a1a" stroke-width="0.5" stroke-linejoin="round"/>
</g>
<rect x="17.2" y="479.5" width="105.1" height="104.39999999999998" fill="none" stroke="#111" stroke-width="1.2"/>
<line x1="51.00" y1="479.50" x2="51.00" y2="583.90" stroke="#111" stroke-width="1.1"/>
<line x1="17.20" y1="540.80" x2="122.30" y2="540.80" stroke="#111" stroke-width="1.1"/>
<line x1="14.70" y1="489.50" x2="17.20" y2="489.50" stroke="#222" stroke-width="0.8"/>
<line x1="14.70" y1="503.50" x2="17.20" y2="503.50" stroke="#222" stroke-width="0.8"/>
<line x1="14.70" y1="525.50" x2="17.20" y2="525.50" stroke="#222" stroke-width="0.8"/>
<line x1="14.70" y1="559.50" x2="17.20" y2="559.50" stroke="#222" stroke-width="0.8"/>
<line x1="14.70" y1="571.50" x2="17.20" y2="571.50" stroke="#222" stroke-width="0.8"/>
<line x1="14.70" y1="573.00" x2="17.20" y2="573.00" stroke="#222" stroke-width="0.8"/>
<line x1="14.70" y1="574.50" x2="17.20" y2="574.50" stroke="#222" stroke-width="0.8"/>
<line x1="29.20" y1="583.90" x2="29.20" y2="586.40" stroke="#222" stroke-width="0.8"/>
<line x1="47.20" y1="583.90" x2="47.20" y2="586.40" stroke="#222" stroke-width="0.8"/>
<line x1="48.70" y1="583.90" x2="48.70" y2="586.40" stroke="#222" stroke-width="0.8"/>
<line x1="50.20" y1="583.90" x2="50.20" y2="586.40" stroke="#222" stroke-width="0.8"/>
<line x1="67.20" y1="583.90" x2="67.20" y2="586.40" stroke="#222" stroke-width="0.8"/>
<line x1="87.20" y1="583.90" x2="87.20" y2="586.40" stroke="#222" stroke-width="0.8"/>
<line x1="107.20" y1="583.90" x2="107.20" y2="586.40" stroke="#222" stroke-width="0.8"/>
<rect x="129.2" y="479.5" width="104.5" height="104.39999999999998" fill="none" stroke="#111" stroke-width="1.2"/>
<line x1="162.50" y1="479.50" x2="162.50" y2="583.90" stroke="#111" stroke-width="1.1"/>
<line x1="129.20" y1="540.80" x2="233.70" y2="540.80" stroke="#111" stroke-width="1.1"/>
<line x1="126.70" y1="489.50" x2="129.20" y2="489.50" stroke="#222" stroke-width="0.8"/>
<line x1="126.70" y1="503.50" x2="129.20" y2="503.50" stroke="#222" stroke-width="0.8"/>
<line x1="126.70" y1="525.50" x2="129.20" y2="525.50" stroke="#222" stroke-width="0.8"/>
<line x1="126.70" y1="559.50" x2="129.20" y2="559.50" stroke="#222" stroke-width="0.8"/>
<line x1="126.70" y1="571.50" x2="129.20" y2="571.50" stroke="#222" stroke-width="0.8"/>
<line x1="126.70" y1="573.00" x2="129.20" y2="573.00" stroke="#222" stroke-width="0.8"/>
<line x1="126.70" y1="574.50" x2="129.20" y2="574.50" stroke="#222" stroke-width="0.8"/>
<line x1="141.20" y1="583.90" x2="141.20" y2="586.40" stroke="#222" stroke-width="0.8"/>
<line x1="159.20" y1="583.90" x2="159.20" y2="586.40" stroke="#222" stroke-width="0.8"/>
<line x1="160.70" y1="583.90" x2="160.70" y2="586.40" stroke="#222" stroke-width="0.8"/>
<line x1="162.20" y1="583.90" x2="162.20" y2="586.40" stroke="#222" stroke-width="0.8"/>
<line x1="179.20" y1="583.90" x2="179.20" y2="586.40" stroke="#222" stroke-width="0.8"/>
<line x1="199.20" y1="583.90" x2="199.20" y2="586.40" stroke="#222" stroke-width="0.8"/>
<line x1="219.20" y1="583.90" x2="219.20" y2="586.40" stroke="#222" stroke-width="0.8"/>
<text x="70.00" y="476.30" font-size="10.8" text-anchor="middle" textLength="13.50" lengthAdjust="spacingAndGlyphs">HC</text>
<text x="181.30" y="475.80" font-size="10.8" text-anchor="middle" textLength="13.50" lengthAdjust="spacingAndGlyphs">II-1</text>
<text x="23.75" y="490.85" font-size="7.6" textLength="20.00" lengthAdjust="spacingAndGlyphs">11.5%</text>
<text x="77.50" y="490.85" font-size="7.6" textLength="21.25" lengthAdjust="spacingAndGlyphs">73.2%</text>
<text x="23.75" y="577.60" font-size="7.6" textLength="20.75" lengthAdjust="spacingAndGlyphs">11.3%</text>
<text x="77.50" y="577.60" font-size="7.6" textLength="20.50" lengthAdjust="spacingAndGlyphs">3.98%</text>
<text x="132.50" y="490.40" font-size="7.6" textLength="22.00" lengthAdjust="spacingAndGlyphs">45.0%</text>
<text x="187.50" y="490.40" font-size="7.6" textLength="21.25" lengthAdjust="spacingAndGlyphs">2.21%</text>
<text x="132.50" y="577.60" font-size="7.6" textLength="22.00" lengthAdjust="spacingAndGlyphs">51.5%</text>
<text x="187.50" y="577.60" font-size="7.6" textLength="21.25" lengthAdjust="spacingAndGlyphs">1.29%</text>
<line x1="8.80" y1="535.50" x2="8.80" y2="482.20" stroke="#111" stroke-width="0.8"/>
<path d="M8.8,479.6 L7.1,484.3 L10.5,484.3 Z" fill="#111" stroke="none" stroke-width="1"/>
<text x="11.40" y="560.60" font-size="8.4" text-anchor="middle" textLength="46.00" lengthAdjust="spacingAndGlyphs" transform="rotate(-90 11.40 560.60)">IFN-γ BV711</text>
<text x="17.00" y="595.70" font-size="8.4" textLength="43.00" lengthAdjust="spacingAndGlyphs">TNF-α R718</text>
<line x1="63.70" y1="592.80" x2="231.00" y2="592.80" stroke="#111" stroke-width="0.8"/>
<path d="M234.6,592.8 L229.6,591.1 L229.6,594.5 Z" fill="#111" stroke="none" stroke-width="1"/>
<line x1="301.30" y1="467.70" x2="301.30" y2="584.60" stroke="#111" stroke-width="1.1"/>
<line x1="300.80" y1="584.20" x2="377.60" y2="584.20" stroke="#111" stroke-width="1.1"/>
<line x1="298.30" y1="470.90" x2="301.30" y2="470.90" stroke="#111" stroke-width="1"/>
<text x="295.80" y="473.80" font-size="8.2" text-anchor="end">80</text>
<line x1="298.30" y1="499.30" x2="301.30" y2="499.30" stroke="#111" stroke-width="1"/>
<text x="295.80" y="502.20" font-size="8.2" text-anchor="end">60</text>
<line x1="298.30" y1="527.60" x2="301.30" y2="527.60" stroke="#111" stroke-width="1"/>
<text x="295.80" y="530.50" font-size="8.2" text-anchor="end">40</text>
<line x1="298.30" y1="555.90" x2="301.30" y2="555.90" stroke="#111" stroke-width="1"/>
<text x="295.80" y="558.80" font-size="8.2" text-anchor="end">20</text>
<line x1="298.30" y1="584.20" x2="301.30" y2="584.20" stroke="#111" stroke-width="1"/>
<text x="295.80" y="587.10" font-size="8.2" text-anchor="end">0</text>
<line x1="317.00" y1="584.20" x2="317.00" y2="587.20" stroke="#111" stroke-width="1"/>
<text x="317.00" y="597.10" font-size="8.2" text-anchor="middle">HC</text>
<line x1="339.60" y1="584.20" x2="339.60" y2="587.20" stroke="#111" stroke-width="1"/>
<text x="339.60" y="597.10" font-size="8.2" text-anchor="middle">Het.</text>
<line x1="362.00" y1="584.20" x2="362.00" y2="587.20" stroke="#111" stroke-width="1"/>
<text x="362.00" y="597.10" font-size="8.2" text-anchor="middle">II-1</text>
<text x="280.60" y="525.00" font-size="9" text-anchor="middle" textLength="99.50" lengthAdjust="spacingAndGlyphs" transform="rotate(-90 280.60 525.00)">% TNF-α<tspan font-size="6" dy="-2.8">+</tspan><tspan dy="2.8"> (in CD8</tspan><tspan font-size="6" dy="-2.8">+</tspan><tspan dy="2.8"> memory)</tspan></text>
<circle cx="317.00" cy="481.40" r="1.55" fill="#3aa84a"/>
<circle cx="313.80" cy="494.10" r="1.55" fill="#3aa84a"/>
<circle cx="320.20" cy="494.10" r="1.55" fill="#3aa84a"/>
<circle cx="317.00" cy="510.60" r="1.55" fill="#3aa84a"/>
<circle cx="317.00" cy="518.50" r="1.55" fill="#3aa84a"/>
<circle cx="317.00" cy="529.70" r="1.55" fill="#3aa84a"/>
<circle cx="313.80" cy="537.50" r="1.55" fill="#3aa84a"/>
<circle cx="320.20" cy="537.50" r="1.55" fill="#3aa84a"/>
<line x1="309.60" y1="514.70" x2="324.40" y2="514.70" stroke="#222" stroke-width="1.0"/>
<path d="M339.60,534.44 L341.34,536.40 L339.60,538.36 L337.86,536.40 Z" fill="#1d4f86" stroke="none" stroke-width="1"/>
<circle cx="339.60" cy="542.80" r="1.45" fill="#1d4f86"/>
<rect x="338.15" y="552.55" width="2.90" height="2.90" fill="#1d4f86"/>
<line x1="332.20" y1="541.10" x2="347.00" y2="541.10" stroke="#222" stroke-width="1.0"/>
<path d="M362.00,571.98 L363.80,574.00 L362.00,576.02 L360.20,574.00 Z" fill="#c0102e" stroke="none" stroke-width="1"/>
<path d="M356.40,577.58 L358.20,579.60 L356.40,581.62 L354.60,579.60 Z" fill="#c0102e" stroke="none" stroke-width="1"/>
<path d="M362.00,577.58 L363.80,579.60 L362.00,581.62 L360.20,579.60 Z" fill="#c0102e" stroke="none" stroke-width="1"/>
<path d="M367.50,577.58 L369.30,579.60 L367.50,581.62 L365.70,579.60 Z" fill="#c0102e" stroke="none" stroke-width="1"/>
<line x1="354.80" y1="578.40" x2="369.50" y2="578.40" stroke="#222" stroke-width="1.0"/>
<line x1="339.40" y1="469.00" x2="361.90" y2="469.00" stroke="#222" stroke-width="1.0"/>
<text x="350.60" y="469.30" font-size="7.5" text-anchor="middle">*</text>
<line x1="316.90" y1="475.90" x2="361.90" y2="475.90" stroke="#222" stroke-width="1.0"/>
<text x="339.40" y="476.80" font-size="7.5" text-anchor="middle" textLength="13.20" lengthAdjust="spacingAndGlyphs">****</text>
<line x1="435.90" y1="468.75" x2="435.90" y2="584.65" stroke="#111" stroke-width="1.1"/>
<line x1="435.40" y1="584.25" x2="511.30" y2="584.25" stroke="#111" stroke-width="1.1"/>
<line x1="432.90" y1="471.25" x2="435.90" y2="471.25" stroke="#111" stroke-width="1"/>
<text x="430.80" y="474.15" font-size="8.2" text-anchor="end">100</text>
<line x1="432.90" y1="493.75" x2="435.90" y2="493.75" stroke="#111" stroke-width="1"/>
<text x="430.80" y="496.65" font-size="8.2" text-anchor="end">80</text>
<line x1="432.90" y1="516.25" x2="435.90" y2="516.25" stroke="#111" stroke-width="1"/>
<text x="430.80" y="519.15" font-size="8.2" text-anchor="end">60</text>
<line x1="432.90" y1="538.75" x2="435.90" y2="538.75" stroke="#111" stroke-width="1"/>
<text x="430.80" y="541.65" font-size="8.2" text-anchor="end">40</text>
<line x1="432.90" y1="561.25" x2="435.90" y2="561.25" stroke="#111" stroke-width="1"/>
<text x="430.80" y="564.15" font-size="8.2" text-anchor="end">20</text>
<line x1="432.90" y1="584.25" x2="435.90" y2="584.25" stroke="#111" stroke-width="1"/>
<text x="430.80" y="587.15" font-size="8.2" text-anchor="end">0</text>
<line x1="453.75" y1="584.25" x2="453.75" y2="587.25" stroke="#111" stroke-width="1"/>
<text x="453.75" y="596.65" font-size="8.2" text-anchor="middle">HC</text>
<line x1="475.75" y1="584.25" x2="475.75" y2="587.25" stroke="#111" stroke-width="1"/>
<text x="475.75" y="596.65" font-size="8.2" text-anchor="middle">Het.</text>
<line x1="498.00" y1="584.25" x2="498.00" y2="587.25" stroke="#111" stroke-width="1"/>
<text x="498.00" y="596.65" font-size="8.2" text-anchor="middle">II-1</text>
<text x="413.20" y="525.00" font-size="9" text-anchor="middle" textLength="95.00" lengthAdjust="spacingAndGlyphs" transform="rotate(-90 413.20 525.00)">% IFN-γ<tspan font-size="6" dy="-2.8">+</tspan><tspan dy="2.8"> (in CD8</tspan><tspan font-size="6" dy="-2.8">+</tspan><tspan dy="2.8"> memory)</tspan></text>
<circle cx="456.25" cy="488.75" r="1.55" fill="#3aa84a"/>
<circle cx="450.00" cy="490.75" r="1.55" fill="#3aa84a"/>
<circle cx="453.00" cy="501.25" r="1.55" fill="#3aa84a"/>
<circle cx="449.50" cy="519.50" r="1.55" fill="#3aa84a"/>
<circle cx="456.25" cy="519.50" r="1.55" fill="#3aa84a"/>
<circle cx="452.00" cy="523.75" r="1.55" fill="#3aa84a"/>
<circle cx="450.00" cy="528.75" r="1.55" fill="#3aa84a"/>
<circle cx="456.25" cy="528.75" r="1.55" fill="#3aa84a"/>
<line x1="447.00" y1="520.50" x2="460.50" y2="520.50" stroke="#222" stroke-width="1.0"/>
<path d="M475.75,497.62 L477.49,500.81 L474.01,500.81 Z" fill="#1d4f86" stroke="none" stroke-width="1"/>
<path d="M475.75,508.13 L477.49,504.94 L474.01,504.94 Z" fill="#1d4f86" stroke="none" stroke-width="1"/>
<circle cx="475.75" cy="513.00" r="1.45" fill="#1d4f86"/>
<rect x="474.30" y="515.55" width="2.90" height="2.90" fill="#1d4f86"/>
<line x1="470.50" y1="509.25" x2="483.00" y2="509.25" stroke="#222" stroke-width="1.0"/>
<path d="M498.00,529.23 L499.80,531.25 L498.00,533.27 L496.20,531.25 Z" fill="#c0102e" stroke="none" stroke-width="1"/>
<path d="M493.00,534.23 L494.80,536.25 L493.00,538.27 L491.20,536.25 Z" fill="#c0102e" stroke="none" stroke-width="1"/>
<path d="M503.75,537.98 L505.55,540.00 L503.75,542.02 L501.95,540.00 Z" fill="#c0102e" stroke="none" stroke-width="1"/>
<path d="M498.00,545.98 L499.80,548.00 L498.00,550.02 L496.20,548.00 Z" fill="#c0102e" stroke="none" stroke-width="1"/>
<line x1="493.75" y1="538.25" x2="505.50" y2="538.25" stroke="#222" stroke-width="1.0"/>
<line x1="475.90" y1="474.10" x2="498.30" y2="474.10" stroke="#222" stroke-width="1.0"/>
<text x="487.10" y="474.90" font-size="7.5" text-anchor="middle">*</text>
<line x1="453.30" y1="481.40" x2="498.30" y2="481.40" stroke="#222" stroke-width="1.0"/>
<text x="475.60" y="482.50" font-size="7.5" text-anchor="middle">*</text>
<clipPath id="cb11"><rect x="176.9" y="611.3" width="93.9" height="93.30000000000007"/></clipPath>
<g clip-path="url(#cb11)">
<line x1="176.90" y1="639.90" x2="270.80" y2="639.90" stroke="#d2385c" stroke-width="1.3"/>
<path d="M190.00,639.90 L190.00,639.30 L190.26,639.28 L190.61,639.29 L191.02,639.31 L191.48,639.31 L191.96,639.25 L192.44,639.12 L192.89,638.88 L193.30,638.54 L193.67,637.73 L194.03,636.75 L194.39,636.52 L194.73,635.16 L195.07,634.26 L195.39,633.48 L195.70,632.87 L196.00,632.49 L196.28,631.33 L196.54,631.27 L196.78,630.72 L197.01,629.46 L197.24,628.82 L197.48,628.46 L197.73,628.73 L198.00,628.10 L198.29,628.08 L198.59,627.84 L198.90,627.28 L199.22,626.94 L199.54,626.27 L199.86,626.01 L200.18,626.57 L200.50,626.17 L200.80,625.98 L201.10,625.50 L201.38,625.32 L201.67,624.98 L201.97,624.93 L202.29,623.82 L202.63,623.86 L203.00,623.31 L203.40,623.43 L203.84,623.06 L204.29,621.98 L204.76,621.35 L205.25,621.05 L205.73,620.66 L206.22,620.68 L206.70,619.91 L207.18,619.85 L207.67,618.98 L208.17,618.79 L208.67,618.05 L209.17,618.14 L209.66,617.68 L210.14,617.76 L210.60,617.65 L211.04,617.12 L211.46,616.66 L211.87,617.59 L212.28,617.69 L212.68,617.34 L213.10,617.44 L213.54,617.95 L214.00,617.25 L214.51,617.16 L215.05,617.43 L215.62,617.21 L216.19,617.00 L216.77,616.93 L217.32,616.44 L217.83,616.24 L218.30,616.03 L218.72,616.09 L219.10,616.38 L219.46,616.64 L219.79,617.19 L220.11,617.33 L220.41,617.50 L220.71,617.63 L221.00,618.13 L221.27,618.09 L221.50,618.69 L221.71,618.72 L221.92,618.96 L222.13,618.85 L222.38,619.26 L222.66,619.80 L223.00,620.46 L223.41,620.54 L223.86,620.93 L224.36,621.95 L224.89,622.09 L225.43,623.05 L225.97,623.51 L226.50,624.79 L227.00,625.25 L227.49,626.16 L227.98,627.37 L228.47,628.04 L228.95,628.29 L229.43,629.53 L229.90,629.93 L230.36,631.55 L230.80,632.00 L231.23,633.11 L231.65,633.30 L232.05,634.62 L232.45,634.68 L232.84,636.12 L233.23,636.30 L233.61,636.57 L234.00,637.50 L234.41,637.91 L234.83,638.25 L235.27,638.53 L235.70,638.74 L236.10,638.92 L236.47,639.06 L236.77,639.19 L237.00,639.30 L237.00,639.90" fill="#f2c2cc" stroke="#d2385c" stroke-width="0.9" fill-opacity="0.8" stroke-linejoin="round"/>
<line x1="176.90" y1="653.20" x2="270.80" y2="653.20" stroke="#5a3a6c" stroke-width="1.3"/>
<path d="M190.00,653.20 L190.00,652.60 L190.25,652.60 L190.58,652.64 L190.98,652.70 L191.42,652.74 L191.89,652.72 L192.37,652.61 L192.85,652.39 L193.30,651.51 L193.75,651.04 L194.21,650.58 L194.69,650.01 L195.17,648.51 L195.65,647.48 L196.11,646.60 L196.57,646.15 L197.00,644.65 L197.42,644.38 L197.82,643.43 L198.22,642.03 L198.61,641.57 L198.98,640.64 L199.34,639.81 L199.68,639.66 L200.00,638.09 L200.29,637.44 L200.54,637.87 L200.76,636.89 L200.97,636.29 L201.18,636.05 L201.42,635.70 L201.69,635.90 L202.00,634.71 L202.37,634.22 L202.78,634.06 L203.22,633.48 L203.67,633.33 L204.14,632.68 L204.61,631.70 L205.07,631.09 L205.50,631.34 L205.91,631.15 L206.32,629.87 L206.72,630.30 L207.11,630.19 L207.51,629.77 L207.90,629.20 L208.30,629.70 L208.70,629.63 L209.11,629.18 L209.52,629.82 L209.93,629.66 L210.34,629.80 L210.75,630.43 L211.17,630.76 L211.58,631.14 L212.00,631.65 L212.42,632.03 L212.84,632.31 L213.26,632.45 L213.68,632.59 L214.11,632.53 L214.53,632.23 L214.96,632.35 L215.40,633.12 L215.84,633.46 L216.28,634.07 L216.72,634.02 L217.16,634.69 L217.61,636.03 L218.07,636.34 L218.53,637.06 L219.00,637.10 L219.48,638.05 L219.97,639.25 L220.47,639.70 L220.97,640.77 L221.48,640.70 L221.99,641.66 L222.50,642.68 L223.00,642.94 L223.50,643.87 L224.00,644.19 L224.51,644.27 L225.01,644.76 L225.51,646.12 L226.01,645.72 L226.51,646.25 L227.00,646.84 L227.49,647.64 L227.97,648.20 L228.44,648.23 L228.92,648.64 L229.39,649.30 L229.86,649.14 L230.33,649.56 L230.80,650.11 L231.27,650.43 L231.73,650.10 L232.18,650.42 L232.64,650.68 L233.09,651.48 L233.56,651.64 L234.02,652.10 L234.50,651.80 L235.01,651.95 L235.57,652.09 L236.15,652.21 L236.73,652.31 L237.28,652.40 L237.77,652.48 L238.19,652.55 L238.50,652.60 L238.50,653.20" fill="#d3c0dc" stroke="#5a3a6c" stroke-width="0.9" fill-opacity="0.8" stroke-linejoin="round"/>
<line x1="176.90" y1="666.30" x2="270.80" y2="666.30" stroke="#2c4a7e" stroke-width="1.3"/>
<path d="M191.00,666.30 L191.00,665.70 L191.25,665.66 L191.60,665.66 L192.01,665.66 L192.46,665.63 L192.93,665.54 L193.39,665.34 L193.82,665.01 L194.20,664.08 L194.54,663.49 L194.86,662.67 L195.16,662.20 L195.46,660.64 L195.74,659.66 L196.00,657.83 L196.26,657.07 L196.50,656.34 L196.72,655.01 L196.92,654.39 L197.10,653.30 L197.27,651.78 L197.44,650.44 L197.61,650.29 L197.79,648.84 L198.00,648.01 L198.23,648.12 L198.46,647.72 L198.71,647.28 L198.97,647.03 L199.23,645.96 L199.49,645.56 L199.75,645.35 L200.00,645.98 L200.25,644.89 L200.49,644.75 L200.73,644.46 L200.97,644.37 L201.21,644.29 L201.46,644.57 L201.73,644.40 L202.00,644.61 L202.28,645.35 L202.57,644.75 L202.87,645.60 L203.17,645.78 L203.49,645.91 L203.81,646.26 L204.15,646.84 L204.50,647.09 L204.86,647.24 L205.23,647.95 L205.60,648.53 L205.99,649.39 L206.39,650.69 L206.81,650.80 L207.24,651.05 L207.70,651.98 L208.18,652.73 L208.67,652.72 L209.19,653.29 L209.72,652.95 L210.27,653.16 L210.83,653.99 L211.41,653.61 L212.00,654.10 L212.63,654.42 L213.29,654.45 L213.98,654.50 L214.69,654.68 L215.39,655.82 L216.06,655.76 L216.71,656.23 L217.30,655.99 L217.84,656.69 L218.33,656.83 L218.79,656.82 L219.23,656.98 L219.66,657.21 L220.09,657.18 L220.53,657.60 L221.00,658.22 L221.49,657.98 L221.98,658.93 L222.48,658.89 L222.98,659.29 L223.49,659.83 L223.99,659.97 L224.50,659.80 L225.00,660.25 L225.50,660.36 L226.00,660.76 L226.50,662.08 L227.00,662.11 L227.50,662.88 L228.00,663.08 L228.50,662.98 L229.00,663.50 L229.53,663.83 L230.09,664.16 L230.68,664.48 L231.25,664.79 L231.79,665.07 L232.28,665.32 L232.69,665.54 L233.00,665.70 L233.00,666.30" fill="#a3bfe0" stroke="#2c4a7e" stroke-width="0.9" fill-opacity="0.8" stroke-linejoin="round"/>
<line x1="176.90" y1="679.40" x2="270.80" y2="679.40" stroke="#47a3cc" stroke-width="1.3"/>
<path d="M191.00,679.40 L191.00,678.80 L191.25,678.76 L191.58,678.76 L191.98,678.77 L192.43,678.74 L192.89,678.65 L193.35,678.43 L193.80,678.06 L194.20,677.56 L194.57,676.80 L194.94,675.92 L195.29,674.29 L195.64,673.29 L195.99,672.13 L196.33,670.79 L196.67,668.92 L197.00,668.12 L197.32,667.00 L197.62,665.82 L197.92,665.12 L198.21,663.72 L198.51,662.65 L198.82,662.09 L199.15,660.94 L199.50,659.84 L199.88,659.04 L200.29,658.38 L200.72,657.25 L201.16,656.97 L201.61,656.45 L202.05,655.71 L202.48,655.72 L202.90,655.64 L203.30,655.42 L203.68,655.79 L204.06,655.77 L204.44,656.28 L204.81,657.68 L205.20,657.84 L205.59,658.53 L206.00,659.82 L206.42,660.50 L206.86,660.90 L207.30,662.04 L207.75,662.99 L208.21,664.04 L208.67,664.83 L209.13,666.18 L209.60,666.84 L210.07,667.67 L210.56,668.22 L211.04,668.83 L211.54,669.41 L212.03,670.68 L212.53,671.15 L213.02,671.54 L213.50,671.70 L213.98,672.19 L214.46,672.60 L214.94,673.15 L215.41,673.30 L215.89,673.82 L216.36,674.09 L216.83,674.42 L217.30,675.12 L217.77,675.31 L218.23,675.67 L218.68,675.91 L219.14,676.39 L219.59,676.90 L220.06,676.82 L220.52,676.90 L221.00,677.50 L221.51,677.73 L222.07,677.94 L222.65,678.13 L223.23,678.31 L223.78,678.46 L224.27,678.59 L224.69,678.71 L225.00,678.80 L225.00,679.40" fill="#b5e0f4" stroke="#47a3cc" stroke-width="0.9" fill-opacity="0.8" stroke-linejoin="round"/>
<line x1="176.90" y1="692.80" x2="270.80" y2="692.80" stroke="#24685a" stroke-width="1.3"/>
<path d="M191.00,692.80 L191.00,692.20 L191.25,692.17 L191.58,692.19 L191.98,692.22 L192.43,692.23 L192.89,692.15 L193.35,691.95 L193.80,691.58 L194.20,691.02 L194.57,690.23 L194.95,689.35 L195.31,688.13 L195.67,686.73 L196.03,684.88 L196.37,683.92 L196.69,682.15 L197.00,680.84 L197.29,679.55 L197.56,678.76 L197.81,677.38 L198.05,676.41 L198.29,675.66 L198.52,674.85 L198.76,673.97 L199.00,672.67 L199.25,671.96 L199.49,671.47 L199.73,671.13 L199.97,670.86 L200.21,670.42 L200.46,670.21 L200.73,669.74 L201.00,669.71 L201.28,669.49 L201.57,669.69 L201.87,669.90 L202.17,670.55 L202.49,671.10 L202.81,671.66 L203.15,672.17 L203.50,672.94 L203.87,673.68 L204.25,675.19 L204.64,676.18 L205.05,677.57 L205.46,678.88 L205.88,679.69 L206.29,680.70 L206.70,681.83 L207.11,683.20 L207.51,683.92 L207.92,684.38 L208.33,685.38 L208.74,685.68 L209.16,686.71 L209.58,686.65 L210.00,687.69 L210.41,688.34 L210.81,688.28 L211.20,688.64 L211.60,688.66 L212.02,689.04 L212.47,689.25 L212.96,689.56 L213.50,690.00 L214.15,690.30 L214.90,690.62 L215.73,690.94 L216.57,691.26 L217.38,691.55 L218.12,691.81 L218.75,692.03 L219.20,692.20 L219.20,692.80" fill="#a4cdbd" stroke="#24685a" stroke-width="0.9" fill-opacity="0.8" stroke-linejoin="round"/>
<path d="M190.00,704.60 L190.00,704.60 L190.25,704.57 L190.58,704.58 L190.98,704.59 L191.42,704.58 L191.89,704.50 L192.37,704.32 L192.85,704.00 L193.30,703.54 L193.75,703.00 L194.21,702.10 L194.69,701.17 L195.17,699.57 L195.65,698.92 L196.11,697.39 L196.57,696.33 L197.00,695.20 L197.42,694.21 L197.82,692.48 L198.22,691.33 L198.61,690.38 L198.98,689.08 L199.34,688.10 L199.68,686.77 L200.00,686.36 L200.29,684.83 L200.56,684.68 L200.80,683.76 L201.03,682.92 L201.26,682.98 L201.49,682.14 L201.73,682.06 L202.00,682.06 L202.28,682.02 L202.57,682.27 L202.87,682.59 L203.17,683.70 L203.49,683.67 L203.81,684.38 L204.15,684.98 L204.50,686.33 L204.86,686.78 L205.24,687.84 L205.62,688.88 L206.02,689.45 L206.43,690.33 L206.84,691.26 L207.27,692.03 L207.70,693.08 L208.15,694.07 L208.61,694.34 L209.08,695.14 L209.56,695.81 L210.04,696.30 L210.53,696.68 L211.02,697.07 L211.50,697.18 L211.98,697.85 L212.47,698.65 L212.97,698.71 L213.46,699.27 L213.96,699.29 L214.44,699.89 L214.93,699.93 L215.40,700.73 L215.86,701.09 L216.31,700.80 L216.75,701.65 L217.19,701.51 L217.63,702.51 L218.08,702.19 L218.53,702.44 L219.00,703.00 L219.51,703.25 L220.07,703.50 L220.65,703.74 L221.22,703.96 L221.78,704.16 L222.27,704.33 L222.69,704.48 L223.00,704.60 L223.00,704.60" fill="#c2eabb" stroke="#55bb5a" stroke-width="0.9" fill-opacity="0.8" stroke-linejoin="round"/>
</g>
<rect x="176.9" y="611.3" width="93.9" height="93.30000000000007" fill="none" stroke="#111" stroke-width="1.2"/>
<text x="265.40" y="637.30" font-size="7.8" text-anchor="end">1197</text>
<text x="265.40" y="650.20" font-size="7.8" text-anchor="end">914</text>
<text x="265.40" y="663.10" font-size="7.8" text-anchor="end">598</text>
<text x="265.40" y="676.60" font-size="7.8" text-anchor="end">498</text>
<text x="265.40" y="689.60" font-size="7.8" text-anchor="end">299</text>
<text x="265.40" y="702.70" font-size="7.8" text-anchor="end">425</text>
<clipPath id="cb12"><rect x="275.7" y="611.3" width="92.90000000000003" height="93.30000000000007"/></clipPath>
<g clip-path="url(#cb12)">
<line x1="275.70" y1="639.90" x2="368.60" y2="639.90" stroke="#d2385c" stroke-width="1.3"/>
<path d="M278.00,639.90 L278.00,639.30 L278.43,639.27 L279.02,639.26 L279.73,639.26 L280.50,639.23 L281.31,639.18 L282.10,639.08 L282.85,638.93 L283.50,638.67 L284.07,638.71 L284.61,637.70 L285.12,637.51 L285.61,637.62 L286.09,636.90 L286.56,635.93 L287.02,635.52 L287.50,635.30 L287.98,634.24 L288.47,633.10 L288.95,632.93 L289.42,631.41 L289.89,630.88 L290.35,629.92 L290.78,628.87 L291.20,628.37 L291.60,626.85 L291.98,626.26 L292.35,624.93 L292.71,624.68 L293.05,623.12 L293.38,622.55 L293.69,622.00 L294.00,621.31 L294.28,620.02 L294.54,620.04 L294.79,619.46 L295.02,618.53 L295.25,618.41 L295.48,617.56 L295.73,617.10 L296.00,616.73 L296.29,616.49 L296.59,616.56 L296.91,615.95 L297.23,616.10 L297.56,615.79 L297.88,615.08 L298.19,615.16 L298.50,614.85 L298.80,615.34 L299.10,615.52 L299.40,615.73 L299.70,615.63 L299.99,616.39 L300.27,616.36 L300.54,617.35 L300.80,617.47 L301.04,617.63 L301.26,618.84 L301.46,619.36 L301.66,619.45 L301.85,620.52 L302.05,620.62 L302.27,621.43 L302.50,622.06 L302.75,622.84 L303.00,622.88 L303.26,623.49 L303.53,624.22 L303.81,625.05 L304.10,626.01 L304.39,626.57 L304.70,626.69 L305.02,627.79 L305.35,627.96 L305.70,628.44 L306.05,629.40 L306.41,630.32 L306.77,630.87 L307.14,631.00 L307.50,631.74 L307.85,631.66 L308.18,631.98 L308.50,632.94 L308.83,632.99 L309.18,632.85 L309.57,633.22 L310.00,633.80 L310.50,633.45 L311.06,633.75 L311.69,634.42 L312.36,634.12 L313.06,634.40 L313.79,634.54 L314.53,634.70 L315.27,634.70 L316.00,634.80 L316.74,635.39 L317.51,635.51 L318.30,635.81 L319.09,635.23 L319.87,635.48 L320.63,636.21 L321.34,635.95 L322.00,636.53 L322.60,636.37 L323.14,636.69 L323.65,637.18 L324.12,637.26 L324.59,637.61 L325.05,637.48 L325.51,638.38 L326.00,638.30 L326.53,638.48 L327.09,638.64 L327.68,638.79 L328.25,638.92 L328.79,639.04 L329.28,639.14 L329.69,639.23 L330.00,639.30 L330.00,639.90" fill="#f2c2cc" stroke="#d2385c" stroke-width="0.9" fill-opacity="0.8" stroke-linejoin="round"/>
<line x1="275.70" y1="653.20" x2="368.60" y2="653.20" stroke="#5a3a6c" stroke-width="1.3"/>
<path d="M277.00,653.20 L277.00,652.60 L277.54,652.55 L278.27,652.53 L279.14,652.51 L280.11,652.46 L281.12,652.36 L282.14,652.18 L283.11,651.90 L284.00,651.38 L284.85,650.68 L285.71,649.93 L286.57,649.89 L287.42,648.70 L288.23,647.90 L288.99,646.84 L289.69,645.76 L290.30,645.23 L290.81,644.21 L291.23,643.51 L291.58,642.46 L291.89,641.71 L292.16,640.40 L292.42,639.24 L292.70,638.41 L293.00,638.22 L293.32,636.97 L293.64,636.79 L293.95,636.13 L294.26,634.98 L294.57,635.16 L294.88,633.90 L295.19,634.28 L295.50,633.84 L295.82,632.86 L296.14,633.07 L296.46,632.83 L296.78,632.01 L297.10,632.38 L297.41,631.68 L297.71,632.34 L298.00,631.99 L298.27,632.16 L298.52,631.11 L298.76,631.28 L299.00,631.51 L299.24,631.45 L299.48,631.03 L299.73,631.78 L300.00,631.85 L300.29,631.47 L300.60,631.56 L300.91,632.36 L301.24,632.43 L301.56,633.04 L301.88,633.25 L302.20,633.52 L302.50,633.52 L302.78,634.01 L303.05,634.73 L303.30,635.41 L303.55,635.53 L303.81,636.28 L304.08,636.50 L304.37,637.27 L304.70,637.46 L305.06,637.54 L305.43,637.78 L305.83,638.13 L306.24,638.53 L306.66,639.77 L307.10,640.18 L307.55,640.42 L308.00,640.11 L308.46,640.96 L308.93,640.69 L309.40,641.69 L309.89,641.68 L310.40,641.98 L310.91,642.03 L311.45,642.03 L312.00,642.65 L312.58,642.94 L313.20,642.38 L313.85,642.72 L314.50,643.15 L315.15,643.23 L315.80,643.10 L316.42,643.29 L317.00,643.97 L317.55,643.44 L318.07,643.54 L318.57,644.18 L319.06,643.95 L319.54,644.75 L320.02,644.37 L320.51,645.19 L321.00,644.88 L321.51,645.65 L322.02,645.81 L322.54,646.10 L323.06,645.90 L323.57,646.18 L324.07,646.38 L324.55,646.86 L325.00,647.67 L325.41,647.38 L325.76,647.86 L326.09,648.50 L326.41,648.40 L326.74,648.88 L327.10,649.10 L327.51,649.86 L328.00,650.00 L328.61,650.34 L329.33,650.70 L330.12,651.08 L330.94,651.46 L331.73,651.81 L332.45,652.13 L333.06,652.40 L333.50,652.60 L333.50,653.20" fill="#d3c0dc" stroke="#5a3a6c" stroke-width="0.9" fill-opacity="0.8" stroke-linejoin="round"/>
<line x1="275.70" y1="666.30" x2="368.60" y2="666.30" stroke="#2c4a7e" stroke-width="1.3"/>
<path d="M277.00,666.30 L277.00,665.70 L277.55,665.63 L278.30,665.56 L279.19,665.48 L280.17,665.38 L281.19,665.24 L282.21,665.06 L283.16,664.82 L284.00,664.61 L284.76,663.74 L285.51,663.51 L286.23,662.99 L286.92,662.86 L287.58,662.23 L288.20,661.76 L288.77,660.42 L289.30,659.94 L289.76,658.77 L290.16,657.94 L290.51,657.11 L290.83,655.62 L291.12,654.66 L291.40,653.96 L291.69,652.89 L292.00,651.78 L292.32,651.33 L292.64,650.85 L292.95,649.62 L293.26,649.71 L293.57,649.12 L293.88,648.34 L294.19,647.72 L294.50,647.87 L294.82,646.87 L295.14,646.17 L295.46,645.68 L295.78,645.81 L296.10,645.17 L296.41,644.92 L296.71,644.49 L297.00,644.03 L297.27,644.11 L297.52,643.38 L297.76,643.31 L298.00,643.36 L298.24,643.07 L298.48,643.20 L298.73,642.98 L299.00,643.16 L299.29,642.81 L299.60,643.22 L299.91,643.60 L300.24,643.82 L300.56,644.38 L300.88,644.73 L301.20,645.35 L301.50,646.11 L301.78,646.39 L302.05,646.94 L302.30,647.39 L302.55,648.03 L302.81,649.17 L303.08,649.53 L303.37,650.06 L303.70,650.24 L304.06,651.17 L304.44,651.19 L304.85,651.81 L305.27,652.74 L305.70,652.88 L306.14,653.23 L306.57,653.74 L307.00,654.27 L307.41,654.62 L307.81,654.56 L308.21,654.77 L308.61,655.35 L309.03,655.67 L309.48,656.00 L309.97,656.96 L310.50,657.30 L311.09,657.27 L311.72,657.99 L312.39,658.24 L313.09,659.11 L313.81,659.21 L314.54,659.50 L315.27,659.90 L316.00,660.55 L316.73,660.68 L317.46,661.28 L318.21,661.86 L318.97,661.78 L319.73,661.93 L320.49,662.85 L321.25,662.74 L322.00,662.67 L322.74,662.90 L323.46,663.21 L324.18,663.87 L324.91,664.23 L325.64,664.16 L326.39,664.08 L327.18,664.53 L328.00,664.80 L328.92,664.96 L329.95,665.11 L331.03,665.24 L332.12,665.36 L333.17,665.47 L334.12,665.56 L334.91,665.64 L335.50,665.70 L335.50,666.30" fill="#a3bfe0" stroke="#2c4a7e" stroke-width="0.9" fill-opacity="0.8" stroke-linejoin="round"/>
<line x1="275.70" y1="679.40" x2="368.60" y2="679.40" stroke="#47a3cc" stroke-width="1.3"/>
<path d="M278.00,679.40 L278.00,678.80 L278.55,678.76 L279.30,678.73 L280.20,678.71 L281.19,678.66 L282.21,678.57 L283.23,678.41 L284.17,678.16 L285.00,677.43 L285.74,677.46 L286.45,676.41 L287.13,675.96 L287.78,675.35 L288.40,674.63 L288.97,673.54 L289.51,672.77 L290.00,671.62 L290.43,671.21 L290.80,670.44 L291.12,670.09 L291.41,669.11 L291.67,668.54 L291.93,667.52 L292.20,666.54 L292.50,666.28 L292.82,665.40 L293.14,664.12 L293.46,662.93 L293.78,662.29 L294.10,661.34 L294.41,660.67 L294.71,659.74 L295.00,659.01 L295.28,658.52 L295.55,657.92 L295.81,657.29 L296.06,657.01 L296.31,657.46 L296.55,657.16 L296.78,656.53 L297.00,656.81 L297.21,656.33 L297.40,655.82 L297.58,656.28 L297.75,655.96 L297.92,656.15 L298.10,655.91 L298.29,655.44 L298.50,655.90 L298.72,656.11 L298.96,656.31 L299.20,656.00 L299.45,656.35 L299.71,656.71 L299.97,656.56 L300.23,657.42 L300.50,657.72 L300.77,657.57 L301.03,658.49 L301.30,658.85 L301.58,659.29 L301.86,660.24 L302.15,661.15 L302.47,661.44 L302.80,661.69 L303.15,662.60 L303.51,663.44 L303.88,664.20 L304.26,664.64 L304.67,664.74 L305.09,666.11 L305.53,666.45 L306.00,666.67 L306.49,667.34 L307.01,667.96 L307.55,669.08 L308.11,669.33 L308.68,670.50 L309.27,670.56 L309.88,671.48 L310.50,671.95 L311.14,672.13 L311.79,672.58 L312.47,673.75 L313.16,674.23 L313.86,673.94 L314.57,674.80 L315.28,675.36 L316.00,675.62 L316.71,675.91 L317.42,675.75 L318.14,676.30 L318.86,676.35 L319.60,676.92 L320.37,676.94 L321.17,677.26 L322.00,677.20 L322.93,677.43 L323.99,677.66 L325.10,677.89 L326.23,678.12 L327.30,678.33 L328.28,678.52 L329.09,678.68 L329.70,678.80 L329.70,679.40" fill="#b5e0f4" stroke="#47a3cc" stroke-width="0.9" fill-opacity="0.8" stroke-linejoin="round"/>
<line x1="275.70" y1="692.80" x2="368.60" y2="692.80" stroke="#24685a" stroke-width="1.3"/>
<path d="M278.00,692.80 L278.00,692.20 L278.55,692.13 L279.28,692.09 L280.15,692.05 L281.11,691.98 L282.13,691.82 L283.14,691.55 L284.12,691.12 L285.00,690.41 L285.84,689.66 L286.69,688.84 L287.53,686.84 L288.36,685.46 L289.16,683.81 L289.91,682.49 L290.59,681.10 L291.20,680.16 L291.71,679.59 L292.15,679.24 L292.51,678.19 L292.83,677.19 L293.12,676.59 L293.40,676.29 L293.69,675.36 L294.00,674.57 L294.33,674.84 L294.65,674.16 L294.96,673.24 L295.27,672.82 L295.58,672.50 L295.88,673.04 L296.19,671.89 L296.50,672.13 L296.82,672.20 L297.14,671.02 L297.47,671.16 L297.79,671.05 L298.11,671.32 L298.42,670.44 L298.72,670.37 L299.00,670.25 L299.26,669.95 L299.49,670.48 L299.71,670.54 L299.92,670.11 L300.13,669.68 L300.34,670.36 L300.56,670.44 L300.80,670.45 L301.05,670.27 L301.29,670.93 L301.53,670.93 L301.79,671.13 L302.05,671.37 L302.34,671.39 L302.66,672.01 L303.00,672.79 L303.38,673.22 L303.81,673.52 L304.26,674.71 L304.72,675.48 L305.20,675.45 L305.68,676.31 L306.15,677.08 L306.60,677.51 L307.04,678.83 L307.47,679.28 L307.89,679.70 L308.32,680.65 L308.74,680.50 L309.16,680.80 L309.58,681.17 L310.00,681.84 L310.41,682.76 L310.80,682.92 L311.18,682.74 L311.57,683.46 L311.96,683.43 L312.38,684.36 L312.82,684.23 L313.30,684.68 L313.83,685.57 L314.39,686.22 L314.99,686.47 L315.61,686.62 L316.23,687.44 L316.84,687.51 L317.44,687.65 L318.00,688.27 L318.51,688.98 L318.96,689.17 L319.39,688.95 L319.81,689.78 L320.26,689.95 L320.76,689.58 L321.33,690.45 L322.00,690.20 L322.84,690.45 L323.85,690.73 L324.95,691.02 L326.10,691.31 L327.21,691.58 L328.23,691.83 L329.08,692.04 L329.70,692.20 L329.70,692.80" fill="#a4cdbd" stroke="#24685a" stroke-width="0.9" fill-opacity="0.8" stroke-linejoin="round"/>
<path d="M279.00,704.60 L279.00,704.60 L279.38,704.43 L279.89,704.24 L280.50,704.01 L281.17,703.74 L281.88,703.41 L282.61,703.02 L283.33,702.55 L284.00,701.77 L284.67,701.31 L285.36,700.09 L286.08,699.45 L286.79,698.22 L287.49,697.18 L288.15,696.50 L288.76,695.43 L289.30,694.81 L289.76,694.51 L290.15,693.11 L290.49,693.04 L290.79,691.92 L291.08,691.97 L291.36,691.33 L291.67,690.25 L292.00,690.35 L292.36,689.68 L292.73,688.51 L293.10,688.32 L293.48,688.12 L293.86,687.89 L294.24,686.74 L294.62,686.50 L295.00,686.78 L295.38,686.83 L295.77,685.93 L296.17,685.97 L296.56,686.73 L296.95,686.42 L297.32,686.60 L297.67,687.17 L298.00,687.05 L298.30,686.91 L298.58,687.02 L298.83,686.77 L299.07,686.72 L299.31,686.42 L299.54,686.25 L299.77,685.62 L300.00,686.41 L300.23,686.37 L300.45,685.77 L300.67,686.01 L300.89,685.39 L301.10,685.89 L301.33,686.07 L301.56,685.84 L301.80,686.11 L302.04,686.76 L302.27,686.37 L302.49,687.03 L302.73,687.04 L302.99,687.74 L303.28,688.64 L303.61,688.76 L304.00,688.53 L304.46,689.71 L304.99,689.88 L305.56,690.12 L306.17,690.26 L306.78,690.61 L307.39,690.79 L307.97,691.46 L308.50,691.05 L308.99,692.01 L309.45,691.14 L309.89,691.58 L310.32,691.40 L310.75,691.04 L311.16,690.80 L311.58,690.83 L312.00,690.63 L312.42,691.20 L312.84,690.79 L313.26,690.58 L313.67,690.64 L314.08,690.42 L314.49,690.05 L314.89,689.95 L315.30,690.97 L315.70,690.98 L316.10,690.41 L316.49,691.15 L316.89,691.58 L317.28,691.97 L317.68,691.44 L318.09,691.82 L318.50,692.39 L318.92,692.92 L319.34,692.73 L319.77,693.68 L320.20,694.10 L320.64,694.17 L321.08,694.97 L321.54,694.94 L322.00,695.83 L322.48,695.88 L322.97,696.45 L323.48,697.00 L323.99,697.93 L324.50,698.70 L325.01,698.48 L325.51,699.57 L326.00,700.34 L326.48,700.69 L326.96,700.74 L327.43,701.36 L327.89,702.35 L328.35,702.12 L328.81,703.27 L329.26,703.08 L329.70,703.50 L330.15,703.76 L330.63,703.97 L331.11,704.14 L331.58,704.27 L332.02,704.37 L332.42,704.46 L332.75,704.53 L333.00,704.60 L333.00,704.60" fill="#c2eabb" stroke="#55bb5a" stroke-width="0.9" fill-opacity="0.8" stroke-linejoin="round"/>
</g>
<rect x="275.7" y="611.3" width="92.90000000000003" height="93.30000000000007" fill="none" stroke="#111" stroke-width="1.2"/>
<text x="363.40" y="637.30" font-size="7.8" text-anchor="end">127</text>
<text x="363.40" y="650.20" font-size="7.8" text-anchor="end">191</text>
<text x="363.40" y="663.10" font-size="7.8" text-anchor="end">112</text>
<text x="363.40" y="676.60" font-size="7.8" text-anchor="end">91</text>
<text x="363.40" y="689.60" font-size="7.8" text-anchor="end">129</text>
<text x="363.40" y="702.70" font-size="7.8" text-anchor="end">258</text>
<text x="172.30" y="637.30" font-size="8.3" text-anchor="end" textLength="10.93" lengthAdjust="spacingAndGlyphs">II-1</text>
<text x="172.30" y="650.10" font-size="8.3" text-anchor="end" textLength="8.83" lengthAdjust="spacingAndGlyphs">I-1</text>
<text x="172.30" y="663.50" font-size="8.3" text-anchor="end" textLength="8.83" lengthAdjust="spacingAndGlyphs">I-2</text>
<text x="172.30" y="676.20" font-size="8.3" text-anchor="end" textLength="10.93" lengthAdjust="spacingAndGlyphs">II-2</text>
<text x="172.30" y="689.10" font-size="8.3" text-anchor="end" textLength="15.14" lengthAdjust="spacingAndGlyphs">HC1</text>
<text x="172.30" y="702.10" font-size="8.3" text-anchor="end" textLength="15.14" lengthAdjust="spacingAndGlyphs">HC2</text>
<line x1="181.00" y1="704.60" x2="181.00" y2="706.60" stroke="#222" stroke-width="0.8"/>
<line x1="187.00" y1="704.60" x2="187.00" y2="706.60" stroke="#222" stroke-width="0.8"/>
<line x1="192.50" y1="704.60" x2="192.50" y2="706.60" stroke="#222" stroke-width="0.8"/>
<line x1="193.50" y1="704.60" x2="193.50" y2="706.60" stroke="#222" stroke-width="0.8"/>
<line x1="194.50" y1="704.60" x2="194.50" y2="706.60" stroke="#222" stroke-width="0.8"/>
<line x1="196.00" y1="704.60" x2="196.00" y2="706.60" stroke="#222" stroke-width="0.8"/>
<line x1="199.00" y1="704.60" x2="199.00" y2="706.60" stroke="#222" stroke-width="0.8"/>
<line x1="203.00" y1="704.60" x2="203.00" y2="706.60" stroke="#222" stroke-width="0.8"/>
<line x1="214.00" y1="704.60" x2="214.00" y2="706.60" stroke="#222" stroke-width="0.8"/>
<line x1="232.00" y1="704.60" x2="232.00" y2="706.60" stroke="#222" stroke-width="0.8"/>
<line x1="251.00" y1="704.60" x2="251.00" y2="706.60" stroke="#222" stroke-width="0.8"/>
<line x1="280.00" y1="704.60" x2="280.00" y2="706.60" stroke="#222" stroke-width="0.8"/>
<line x1="286.00" y1="704.60" x2="286.00" y2="706.60" stroke="#222" stroke-width="0.8"/>
<line x1="291.50" y1="704.60" x2="291.50" y2="706.60" stroke="#222" stroke-width="0.8"/>
<line x1="292.50" y1="704.60" x2="292.50" y2="706.60" stroke="#222" stroke-width="0.8"/>
<line x1="293.50" y1="704.60" x2="293.50" y2="706.60" stroke="#222" stroke-width="0.8"/>
<line x1="295.00" y1="704.60" x2="295.00" y2="706.60" stroke="#222" stroke-width="0.8"/>
<line x1="298.00" y1="704.60" x2="298.00" y2="706.60" stroke="#222" stroke-width="0.8"/>
<line x1="302.00" y1="704.60" x2="302.00" y2="706.60" stroke="#222" stroke-width="0.8"/>
<line x1="313.00" y1="704.60" x2="313.00" y2="706.60" stroke="#222" stroke-width="0.8"/>
<line x1="331.00" y1="704.60" x2="331.00" y2="706.60" stroke="#222" stroke-width="0.8"/>
<line x1="350.00" y1="704.60" x2="350.00" y2="706.60" stroke="#222" stroke-width="0.8"/>
<text x="177.50" y="716.60" font-size="8.9" textLength="69.00" lengthAdjust="spacingAndGlyphs">CD69 PerCP-Cy5.5</text>
<line x1="250.40" y1="713.50" x2="266.50" y2="713.50" stroke="#111" stroke-width="0.8"/>
<path d="M270,713.5 L265,711.8 L265,715.2 Z" fill="#111" stroke="none" stroke-width="1"/>
<text x="275.60" y="716.60" font-size="8.9" textLength="49.00" lengthAdjust="spacingAndGlyphs">PD-1 BUV737</text>
<line x1="326.00" y1="713.50" x2="366.00" y2="713.50" stroke="#111" stroke-width="0.8"/>
<path d="M369.6,713.5 L364.6,711.8 L364.6,715.2 Z" fill="#111" stroke="none" stroke-width="1"/>
</svg></body></html>
